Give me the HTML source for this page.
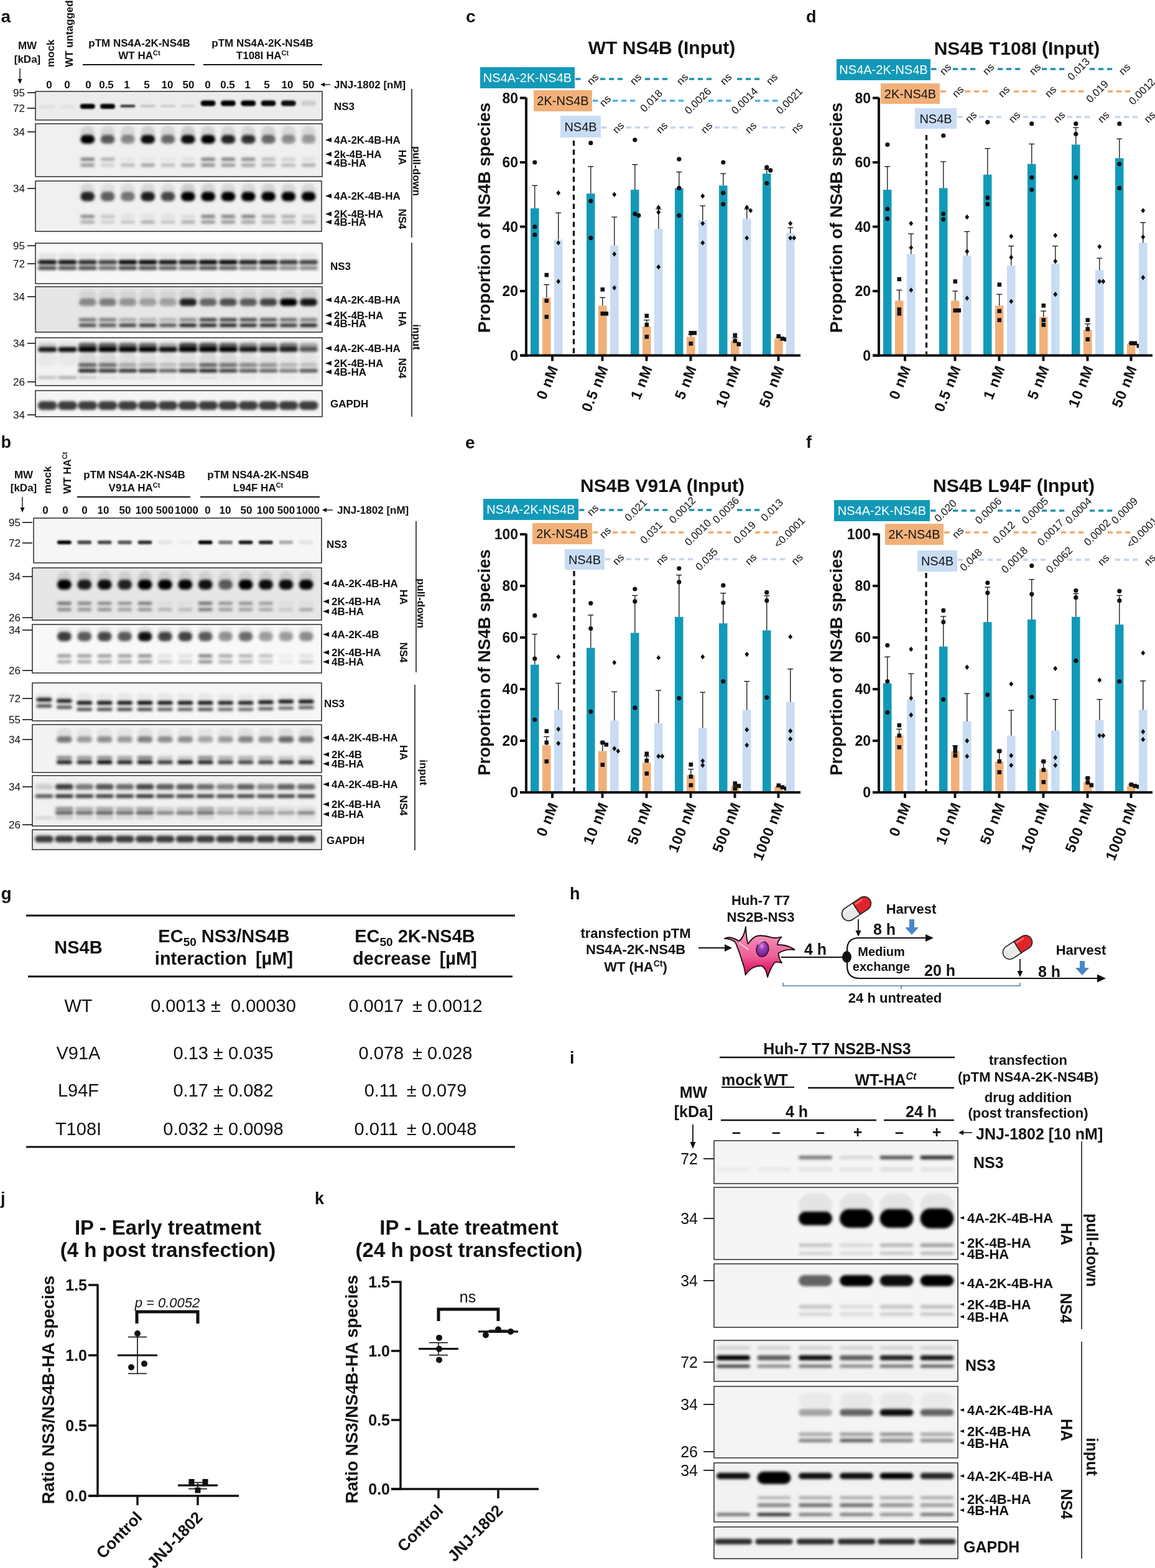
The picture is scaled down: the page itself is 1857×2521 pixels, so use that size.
<!DOCTYPE html>
<html><head><meta charset="utf-8"><title>Figure</title>
<style>html,body{margin:0;padding:0;background:#fff;} svg{display:block;} text{font-family:'Liberation Sans', sans-serif;}</style>
</head><body>
<svg width="1857" height="2521" viewBox="0 0 1857 2521">
<defs><filter id="bl15" x="-20%" y="-50%" width="140%" height="200%"><feGaussianBlur stdDeviation="1.5"/></filter><filter id="bl20" x="-20%" y="-50%" width="140%" height="200%"><feGaussianBlur stdDeviation="2.0"/></filter></defs>
<rect width="1857" height="2521" fill="#fff"/>
<text x="1.5" y="36.3" font-size="28" font-weight="bold" fill="#111">a</text>
<text x="44.0" y="79.0" font-size="17" font-weight="bold" text-anchor="middle" fill="#111" >MW</text>
<text x="44.0" y="101.0" font-size="17" font-weight="bold" text-anchor="middle" fill="#111" >[kDa]</text>
<line x1="32.0" y1="110.0" x2="32.0" y2="131.0" stroke="#111" stroke-width="1.4" />
<polygon points="32,135 28.5,127 35.5,127" fill="#111"/>
<text x="0" y="0.0" font-size="17" font-weight="bold" text-anchor="start" fill="#111" transform="translate(87.0,108.0) rotate(-90)" >mock</text>
<text x="0" y="0.0" font-size="17" font-weight="bold" text-anchor="start" fill="#111" transform="translate(117.0,108.0) rotate(-90)" >WT untagged</text>
<text x="224.0" y="75.0" font-size="17" font-weight="bold" text-anchor="middle" fill="#111" >pTM NS4A-2K-NS4B</text>
<text x="224.0" y="95.0" font-size="17" font-weight="bold" text-anchor="middle" fill="#111" >WT HA<tspan font-size="11" dy="-6">Ct</tspan></text>
<text x="422.0" y="75.0" font-size="17" font-weight="bold" text-anchor="middle" fill="#111" >pTM NS4A-2K-NS4B</text>
<text x="422.0" y="95.0" font-size="17" font-weight="bold" text-anchor="middle" fill="#111" >T108I HA<tspan font-size="11" dy="-6">Ct</tspan></text>
<line x1="133.0" y1="104.0" x2="313.0" y2="104.0" stroke="#111" stroke-width="2" />
<line x1="327.0" y1="104.0" x2="518.0" y2="104.0" stroke="#111" stroke-width="2" />
<text x="79.0" y="142.0" font-size="17" font-weight="bold" text-anchor="middle" fill="#111" >0</text>
<text x="108.0" y="142.0" font-size="17" font-weight="bold" text-anchor="middle" fill="#111" >0</text>
<text x="142.0" y="142.0" font-size="17" font-weight="bold" text-anchor="middle" fill="#111" >0</text>
<text x="171.0" y="142.0" font-size="17" font-weight="bold" text-anchor="middle" fill="#111" >0.5</text>
<text x="204.0" y="142.0" font-size="17" font-weight="bold" text-anchor="middle" fill="#111" >1</text>
<text x="236.0" y="142.0" font-size="17" font-weight="bold" text-anchor="middle" fill="#111" >5</text>
<text x="269.0" y="142.0" font-size="17" font-weight="bold" text-anchor="middle" fill="#111" >10</text>
<text x="303.0" y="142.0" font-size="17" font-weight="bold" text-anchor="middle" fill="#111" >50</text>
<text x="334.0" y="142.0" font-size="17" font-weight="bold" text-anchor="middle" fill="#111" >0</text>
<text x="366.0" y="142.0" font-size="17" font-weight="bold" text-anchor="middle" fill="#111" >0.5</text>
<text x="398.0" y="142.0" font-size="17" font-weight="bold" text-anchor="middle" fill="#111" >1</text>
<text x="429.0" y="142.0" font-size="17" font-weight="bold" text-anchor="middle" fill="#111" >5</text>
<text x="462.0" y="142.0" font-size="17" font-weight="bold" text-anchor="middle" fill="#111" >10</text>
<text x="496.0" y="142.0" font-size="17" font-weight="bold" text-anchor="middle" fill="#111" >50</text>
<line x1="518.0" y1="136.0" x2="531.0" y2="136.0" stroke="#111" stroke-width="1.4" />
<polygon points="515,136 522,132.5 522,139.5" fill="#111"/>
<text x="537.0" y="142.0" font-size="17" font-weight="bold" text-anchor="start" fill="#111" >JNJ-1802 [nM]</text>
<clipPath id="c1"><rect x="57" y="147" width="461" height="46"/></clipPath>
<rect x="57.0" y="147.0" width="461.0" height="46.0" fill="#ececec" />
<g clip-path="url(#c1)"><g filter="url(#bl15)">
<rect x="64.2" y="169.0" width="24.0" height="6.0" rx="3.0" fill="#000" fill-opacity="0.05"/>
<rect x="96.5" y="169.0" width="24.0" height="6.0" rx="3.0" fill="#000" fill-opacity="0.04"/>
<rect x="128.8" y="167.0" width="24.0" height="8.0" rx="4.0" fill="#000" fill-opacity="1.00"/>
<rect x="161.1" y="167.0" width="24.0" height="8.0" rx="4.0" fill="#000" fill-opacity="1.00"/>
<rect x="193.4" y="168.5" width="24.0" height="4.0" rx="2.0" fill="#000" fill-opacity="0.85"/>
<rect x="225.7" y="168.5" width="24.0" height="4.0" rx="2.0" fill="#000" fill-opacity="0.18"/>
<rect x="258.0" y="168.5" width="24.0" height="4.0" rx="2.0" fill="#000" fill-opacity="0.14"/>
<rect x="290.3" y="168.5" width="24.0" height="4.0" rx="2.0" fill="#000" fill-opacity="0.12"/>
<rect x="322.6" y="161.5" width="24.0" height="9.0" rx="4.5" fill="#000" fill-opacity="1.00"/>
<rect x="354.9" y="161.5" width="24.0" height="9.0" rx="4.5" fill="#000" fill-opacity="1.00"/>
<rect x="387.2" y="161.5" width="24.0" height="9.0" rx="4.5" fill="#000" fill-opacity="1.00"/>
<rect x="419.5" y="161.5" width="24.0" height="9.0" rx="4.5" fill="#000" fill-opacity="0.98"/>
<rect x="451.8" y="161.5" width="24.0" height="9.0" rx="4.5" fill="#000" fill-opacity="0.95"/>
<rect x="484.1" y="161.5" width="24.0" height="9.0" rx="4.5" fill="#000" fill-opacity="0.12"/>
</g></g>
<rect x="57" y="147" width="461" height="46" fill="none" stroke="#2a2a2a" stroke-width="1.5"/>
<text x="40.0" y="155.0" font-size="17" font-weight="normal" text-anchor="end" fill="#111" >95</text>
<line x1="44.0" y1="149.0" x2="57.0" y2="149.0" stroke="#111" stroke-width="1.6" />
<text x="40.0" y="180.0" font-size="17" font-weight="normal" text-anchor="end" fill="#111" >72</text>
<line x1="44.0" y1="174.0" x2="57.0" y2="174.0" stroke="#111" stroke-width="1.6" />
<text x="537.0" y="177.0" font-size="17" font-weight="bold" text-anchor="start" fill="#111" >NS3</text>
<clipPath id="c2"><rect x="57" y="199" width="461" height="85"/></clipPath>
<rect x="57.0" y="199.0" width="461.0" height="85.0" fill="#f0f0f0" />
<g clip-path="url(#c2)"><g filter="url(#bl20)">
<rect x="129.3" y="202.0" width="23.0" height="22.0" rx="11.0" fill="#000" fill-opacity="0.12"/>
<rect x="161.6" y="202.0" width="23.0" height="22.0" rx="11.0" fill="#000" fill-opacity="0.10"/>
<rect x="193.9" y="202.0" width="23.0" height="22.0" rx="11.0" fill="#000" fill-opacity="0.10"/>
<rect x="226.2" y="202.0" width="23.0" height="22.0" rx="11.0" fill="#000" fill-opacity="0.12"/>
<rect x="258.5" y="202.0" width="23.0" height="22.0" rx="11.0" fill="#000" fill-opacity="0.10"/>
<rect x="290.8" y="202.0" width="23.0" height="22.0" rx="11.0" fill="#000" fill-opacity="0.14"/>
<rect x="323.1" y="202.0" width="23.0" height="22.0" rx="11.0" fill="#000" fill-opacity="0.12"/>
<rect x="355.4" y="202.0" width="23.0" height="22.0" rx="11.0" fill="#000" fill-opacity="0.10"/>
<rect x="387.7" y="202.0" width="23.0" height="22.0" rx="11.0" fill="#000" fill-opacity="0.10"/>
<rect x="420.0" y="202.0" width="23.0" height="22.0" rx="11.0" fill="#000" fill-opacity="0.12"/>
<rect x="452.3" y="202.0" width="23.0" height="22.0" rx="11.0" fill="#000" fill-opacity="0.10"/>
<rect x="484.6" y="202.0" width="23.0" height="22.0" rx="11.0" fill="#000" fill-opacity="0.10"/>
<rect x="129.3" y="217.0" width="23.0" height="14.0" rx="7.0" fill="#000" fill-opacity="1.00"/>
<rect x="161.6" y="217.0" width="23.0" height="14.0" rx="7.0" fill="#000" fill-opacity="0.62"/>
<rect x="193.9" y="217.0" width="23.0" height="14.0" rx="7.0" fill="#000" fill-opacity="0.42"/>
<rect x="226.2" y="217.0" width="23.0" height="14.0" rx="7.0" fill="#000" fill-opacity="0.95"/>
<rect x="258.5" y="217.0" width="23.0" height="14.0" rx="7.0" fill="#000" fill-opacity="0.55"/>
<rect x="290.8" y="217.0" width="23.0" height="14.0" rx="7.0" fill="#000" fill-opacity="0.95"/>
<rect x="323.1" y="217.0" width="23.0" height="14.0" rx="7.0" fill="#000" fill-opacity="1.00"/>
<rect x="355.4" y="217.0" width="23.0" height="14.0" rx="7.0" fill="#000" fill-opacity="0.85"/>
<rect x="387.7" y="217.0" width="23.0" height="14.0" rx="7.0" fill="#000" fill-opacity="0.80"/>
<rect x="420.0" y="217.0" width="23.0" height="14.0" rx="7.0" fill="#000" fill-opacity="0.55"/>
<rect x="452.3" y="217.0" width="23.0" height="14.0" rx="7.0" fill="#000" fill-opacity="0.40"/>
<rect x="484.6" y="217.0" width="23.0" height="14.0" rx="7.0" fill="#000" fill-opacity="0.35"/>
<rect x="129.3" y="253.5" width="23.0" height="5.0" rx="2.5" fill="#000" fill-opacity="0.50"/>
<rect x="161.6" y="253.5" width="23.0" height="5.0" rx="2.5" fill="#000" fill-opacity="0.30"/>
<rect x="193.9" y="253.5" width="23.0" height="5.0" rx="2.5" fill="#000" fill-opacity="0.06"/>
<rect x="226.2" y="253.5" width="23.0" height="5.0" rx="2.5" fill="#000" fill-opacity="0.05"/>
<rect x="258.5" y="253.5" width="23.0" height="5.0" rx="2.5" fill="#000" fill-opacity="0.05"/>
<rect x="290.8" y="253.5" width="23.0" height="5.0" rx="2.5" fill="#000" fill-opacity="0.08"/>
<rect x="323.1" y="253.5" width="23.0" height="5.0" rx="2.5" fill="#000" fill-opacity="0.50"/>
<rect x="355.4" y="253.5" width="23.0" height="5.0" rx="2.5" fill="#000" fill-opacity="0.50"/>
<rect x="387.7" y="253.5" width="23.0" height="5.0" rx="2.5" fill="#000" fill-opacity="0.45"/>
<rect x="420.0" y="253.5" width="23.0" height="5.0" rx="2.5" fill="#000" fill-opacity="0.25"/>
<rect x="452.3" y="253.5" width="23.0" height="5.0" rx="2.5" fill="#000" fill-opacity="0.15"/>
<rect x="484.6" y="253.5" width="23.0" height="5.0" rx="2.5" fill="#000" fill-opacity="0.08"/>
<rect x="129.3" y="263.0" width="23.0" height="5.0" rx="2.5" fill="#000" fill-opacity="0.40"/>
<rect x="161.6" y="263.0" width="23.0" height="5.0" rx="2.5" fill="#000" fill-opacity="0.15"/>
<rect x="193.9" y="263.0" width="23.0" height="5.0" rx="2.5" fill="#000" fill-opacity="0.25"/>
<rect x="226.2" y="263.0" width="23.0" height="5.0" rx="2.5" fill="#000" fill-opacity="0.35"/>
<rect x="258.5" y="263.0" width="23.0" height="5.0" rx="2.5" fill="#000" fill-opacity="0.22"/>
<rect x="290.8" y="263.0" width="23.0" height="5.0" rx="2.5" fill="#000" fill-opacity="0.35"/>
<rect x="323.1" y="263.0" width="23.0" height="5.0" rx="2.5" fill="#000" fill-opacity="0.45"/>
<rect x="355.4" y="263.0" width="23.0" height="5.0" rx="2.5" fill="#000" fill-opacity="0.40"/>
<rect x="387.7" y="263.0" width="23.0" height="5.0" rx="2.5" fill="#000" fill-opacity="0.35"/>
<rect x="420.0" y="263.0" width="23.0" height="5.0" rx="2.5" fill="#000" fill-opacity="0.30"/>
<rect x="452.3" y="263.0" width="23.0" height="5.0" rx="2.5" fill="#000" fill-opacity="0.25"/>
<rect x="484.6" y="263.0" width="23.0" height="5.0" rx="2.5" fill="#000" fill-opacity="0.30"/>
</g></g>
<rect x="57" y="199" width="461" height="85" fill="none" stroke="#2a2a2a" stroke-width="1.5"/>
<text x="40.0" y="218.0" font-size="17" font-weight="normal" text-anchor="end" fill="#111" >34</text>
<line x1="44.0" y1="212.0" x2="57.0" y2="212.0" stroke="#111" stroke-width="1.6" />
<polygon points="523.0,225.0 533.0,221.2 533.0,228.8" fill="#111"/>
<text x="537.0" y="231.0" font-size="17" font-weight="bold" text-anchor="start" fill="#111" >4A-2K-4B-HA</text>
<polygon points="523.0,248.0 533.0,244.2 533.0,251.8" fill="#111"/>
<text x="537.0" y="254.0" font-size="17" font-weight="bold" text-anchor="start" fill="#111" >2k-4B-HA</text>
<polygon points="523.0,262.0 533.0,258.2 533.0,265.8" fill="#111"/>
<text x="537.0" y="268.0" font-size="17" font-weight="bold" text-anchor="start" fill="#111" >4B-HA</text>
<text x="0" y="0.0" font-size="17" font-weight="bold" text-anchor="middle" fill="#111" transform="translate(641.0,253.0) rotate(90)" >HA</text>
<clipPath id="c3"><rect x="57" y="291" width="460" height="81"/></clipPath>
<rect x="57.0" y="291.0" width="460.0" height="81.0" fill="#f0f0f0" />
<g clip-path="url(#c3)"><g filter="url(#bl20)">
<rect x="129.3" y="295.0" width="23.0" height="20.0" rx="10.0" fill="#000" fill-opacity="0.10"/>
<rect x="161.6" y="295.0" width="23.0" height="20.0" rx="10.0" fill="#000" fill-opacity="0.08"/>
<rect x="193.9" y="295.0" width="23.0" height="20.0" rx="10.0" fill="#000" fill-opacity="0.08"/>
<rect x="226.2" y="295.0" width="23.0" height="20.0" rx="10.0" fill="#000" fill-opacity="0.10"/>
<rect x="258.5" y="295.0" width="23.0" height="20.0" rx="10.0" fill="#000" fill-opacity="0.08"/>
<rect x="290.8" y="295.0" width="23.0" height="20.0" rx="10.0" fill="#000" fill-opacity="0.14"/>
<rect x="323.1" y="295.0" width="23.0" height="20.0" rx="10.0" fill="#000" fill-opacity="0.12"/>
<rect x="355.4" y="295.0" width="23.0" height="20.0" rx="10.0" fill="#000" fill-opacity="0.10"/>
<rect x="387.7" y="295.0" width="23.0" height="20.0" rx="10.0" fill="#000" fill-opacity="0.10"/>
<rect x="420.0" y="295.0" width="23.0" height="20.0" rx="10.0" fill="#000" fill-opacity="0.12"/>
<rect x="452.3" y="295.0" width="23.0" height="20.0" rx="10.0" fill="#000" fill-opacity="0.10"/>
<rect x="484.6" y="295.0" width="23.0" height="20.0" rx="10.0" fill="#000" fill-opacity="0.10"/>
<rect x="129.3" y="308.5" width="23.0" height="15.0" rx="7.5" fill="#000" fill-opacity="0.85"/>
<rect x="161.6" y="308.5" width="23.0" height="15.0" rx="7.5" fill="#000" fill-opacity="0.60"/>
<rect x="193.9" y="308.5" width="23.0" height="15.0" rx="7.5" fill="#000" fill-opacity="0.50"/>
<rect x="226.2" y="308.5" width="23.0" height="15.0" rx="7.5" fill="#000" fill-opacity="0.88"/>
<rect x="258.5" y="308.5" width="23.0" height="15.0" rx="7.5" fill="#000" fill-opacity="0.70"/>
<rect x="290.8" y="308.5" width="23.0" height="15.0" rx="7.5" fill="#000" fill-opacity="1.00"/>
<rect x="323.1" y="308.5" width="23.0" height="15.0" rx="7.5" fill="#000" fill-opacity="1.00"/>
<rect x="355.4" y="308.5" width="23.0" height="15.0" rx="7.5" fill="#000" fill-opacity="1.00"/>
<rect x="387.7" y="308.5" width="23.0" height="15.0" rx="7.5" fill="#000" fill-opacity="1.00"/>
<rect x="420.0" y="308.5" width="23.0" height="15.0" rx="7.5" fill="#000" fill-opacity="1.00"/>
<rect x="452.3" y="308.5" width="23.0" height="15.0" rx="7.5" fill="#000" fill-opacity="1.00"/>
<rect x="484.6" y="308.5" width="23.0" height="15.0" rx="7.5" fill="#000" fill-opacity="1.00"/>
<rect x="129.3" y="345.5" width="23.0" height="5.0" rx="2.5" fill="#000" fill-opacity="0.45"/>
<rect x="161.6" y="345.5" width="23.0" height="5.0" rx="2.5" fill="#000" fill-opacity="0.20"/>
<rect x="193.9" y="345.5" width="23.0" height="5.0" rx="2.5" fill="#000" fill-opacity="0.08"/>
<rect x="226.2" y="345.5" width="23.0" height="5.0" rx="2.5" fill="#000" fill-opacity="0.08"/>
<rect x="258.5" y="345.5" width="23.0" height="5.0" rx="2.5" fill="#000" fill-opacity="0.08"/>
<rect x="290.8" y="345.5" width="23.0" height="5.0" rx="2.5" fill="#000" fill-opacity="0.10"/>
<rect x="323.1" y="345.5" width="23.0" height="5.0" rx="2.5" fill="#000" fill-opacity="0.50"/>
<rect x="355.4" y="345.5" width="23.0" height="5.0" rx="2.5" fill="#000" fill-opacity="0.50"/>
<rect x="387.7" y="345.5" width="23.0" height="5.0" rx="2.5" fill="#000" fill-opacity="0.50"/>
<rect x="420.0" y="345.5" width="23.0" height="5.0" rx="2.5" fill="#000" fill-opacity="0.35"/>
<rect x="452.3" y="345.5" width="23.0" height="5.0" rx="2.5" fill="#000" fill-opacity="0.30"/>
<rect x="484.6" y="345.5" width="23.0" height="5.0" rx="2.5" fill="#000" fill-opacity="0.15"/>
<rect x="129.3" y="354.5" width="23.0" height="5.0" rx="2.5" fill="#000" fill-opacity="0.30"/>
<rect x="161.6" y="354.5" width="23.0" height="5.0" rx="2.5" fill="#000" fill-opacity="0.15"/>
<rect x="193.9" y="354.5" width="23.0" height="5.0" rx="2.5" fill="#000" fill-opacity="0.20"/>
<rect x="226.2" y="354.5" width="23.0" height="5.0" rx="2.5" fill="#000" fill-opacity="0.30"/>
<rect x="258.5" y="354.5" width="23.0" height="5.0" rx="2.5" fill="#000" fill-opacity="0.20"/>
<rect x="290.8" y="354.5" width="23.0" height="5.0" rx="2.5" fill="#000" fill-opacity="0.30"/>
<rect x="323.1" y="354.5" width="23.0" height="5.0" rx="2.5" fill="#000" fill-opacity="0.40"/>
<rect x="355.4" y="354.5" width="23.0" height="5.0" rx="2.5" fill="#000" fill-opacity="0.40"/>
<rect x="387.7" y="354.5" width="23.0" height="5.0" rx="2.5" fill="#000" fill-opacity="0.35"/>
<rect x="420.0" y="354.5" width="23.0" height="5.0" rx="2.5" fill="#000" fill-opacity="0.30"/>
<rect x="452.3" y="354.5" width="23.0" height="5.0" rx="2.5" fill="#000" fill-opacity="0.28"/>
<rect x="484.6" y="354.5" width="23.0" height="5.0" rx="2.5" fill="#000" fill-opacity="0.30"/>
</g></g>
<rect x="57" y="291" width="460" height="81" fill="none" stroke="#2a2a2a" stroke-width="1.5"/>
<text x="40.0" y="309.0" font-size="17" font-weight="normal" text-anchor="end" fill="#111" >34</text>
<line x1="44.0" y1="303.0" x2="57.0" y2="303.0" stroke="#111" stroke-width="1.6" />
<polygon points="523.0,315.0 533.0,311.2 533.0,318.8" fill="#111"/>
<text x="537.0" y="321.0" font-size="17" font-weight="bold" text-anchor="start" fill="#111" >4A-2K-4B-HA</text>
<polygon points="523.0,344.0 533.0,340.2 533.0,347.8" fill="#111"/>
<text x="537.0" y="350.0" font-size="17" font-weight="bold" text-anchor="start" fill="#111" >2K-4B-HA</text>
<polygon points="523.0,357.0 533.0,353.2 533.0,360.8" fill="#111"/>
<text x="537.0" y="363.0" font-size="17" font-weight="bold" text-anchor="start" fill="#111" >4B-HA</text>
<text x="0" y="0.0" font-size="17" font-weight="bold" text-anchor="middle" fill="#111" transform="translate(641.0,352.0) rotate(90)" >NS4</text>
<line x1="662.0" y1="143.0" x2="662.0" y2="382.0" stroke="#111" stroke-width="1.5" />
<text x="0" y="0.0" font-size="17" font-weight="bold" text-anchor="middle" fill="#111" transform="translate(664.0,275.0) rotate(90)" >pull-down</text>
<clipPath id="c4"><rect x="57" y="391" width="461" height="65"/></clipPath>
<rect x="57.0" y="391.0" width="461.0" height="65.0" fill="#f7f7f7" />
<g clip-path="url(#c4)"><g filter="url(#bl20)">
<rect x="61.2" y="406.5" width="30.0" height="9.0" rx="4.5" fill="#000" fill-opacity="0.08"/>
<rect x="93.5" y="406.5" width="30.0" height="9.0" rx="4.5" fill="#000" fill-opacity="0.08"/>
<rect x="125.8" y="406.5" width="30.0" height="9.0" rx="4.5" fill="#000" fill-opacity="0.08"/>
<rect x="158.1" y="406.5" width="30.0" height="9.0" rx="4.5" fill="#000" fill-opacity="0.08"/>
<rect x="190.4" y="406.5" width="30.0" height="9.0" rx="4.5" fill="#000" fill-opacity="0.08"/>
<rect x="222.7" y="406.5" width="30.0" height="9.0" rx="4.5" fill="#000" fill-opacity="0.08"/>
<rect x="255.0" y="406.5" width="30.0" height="9.0" rx="4.5" fill="#000" fill-opacity="0.08"/>
<rect x="287.3" y="406.5" width="30.0" height="9.0" rx="4.5" fill="#000" fill-opacity="0.08"/>
<rect x="319.6" y="406.5" width="30.0" height="9.0" rx="4.5" fill="#000" fill-opacity="0.08"/>
<rect x="351.9" y="406.5" width="30.0" height="9.0" rx="4.5" fill="#000" fill-opacity="0.08"/>
<rect x="384.2" y="406.5" width="30.0" height="9.0" rx="4.5" fill="#000" fill-opacity="0.08"/>
<rect x="416.5" y="406.5" width="30.0" height="9.0" rx="4.5" fill="#000" fill-opacity="0.08"/>
<rect x="448.8" y="406.5" width="30.0" height="9.0" rx="4.5" fill="#000" fill-opacity="0.08"/>
<rect x="481.1" y="406.5" width="30.0" height="9.0" rx="4.5" fill="#000" fill-opacity="0.08"/>
<rect x="61.2" y="418.0" width="30.0" height="7.0" rx="3.5" fill="#000" fill-opacity="0.95"/>
<rect x="93.5" y="418.0" width="30.0" height="7.0" rx="3.5" fill="#000" fill-opacity="0.95"/>
<rect x="125.8" y="418.0" width="30.0" height="7.0" rx="3.5" fill="#000" fill-opacity="0.85"/>
<rect x="158.1" y="418.0" width="30.0" height="7.0" rx="3.5" fill="#000" fill-opacity="0.75"/>
<rect x="190.4" y="418.0" width="30.0" height="7.0" rx="3.5" fill="#000" fill-opacity="1.00"/>
<rect x="222.7" y="418.0" width="30.0" height="7.0" rx="3.5" fill="#000" fill-opacity="1.00"/>
<rect x="255.0" y="418.0" width="30.0" height="7.0" rx="3.5" fill="#000" fill-opacity="0.95"/>
<rect x="287.3" y="418.0" width="30.0" height="7.0" rx="3.5" fill="#000" fill-opacity="0.95"/>
<rect x="319.6" y="418.0" width="30.0" height="7.0" rx="3.5" fill="#000" fill-opacity="1.00"/>
<rect x="351.9" y="418.0" width="30.0" height="7.0" rx="3.5" fill="#000" fill-opacity="1.00"/>
<rect x="384.2" y="418.0" width="30.0" height="7.0" rx="3.5" fill="#000" fill-opacity="0.90"/>
<rect x="416.5" y="418.0" width="30.0" height="7.0" rx="3.5" fill="#000" fill-opacity="0.95"/>
<rect x="448.8" y="418.0" width="30.0" height="7.0" rx="3.5" fill="#000" fill-opacity="0.80"/>
<rect x="481.1" y="418.0" width="30.0" height="7.0" rx="3.5" fill="#000" fill-opacity="0.75"/>
<rect x="61.2" y="428.0" width="30.0" height="6.0" rx="3.0" fill="#000" fill-opacity="0.72"/>
<rect x="93.5" y="428.0" width="30.0" height="6.0" rx="3.0" fill="#000" fill-opacity="0.70"/>
<rect x="125.8" y="428.0" width="30.0" height="6.0" rx="3.0" fill="#000" fill-opacity="0.72"/>
<rect x="158.1" y="428.0" width="30.0" height="6.0" rx="3.0" fill="#000" fill-opacity="0.60"/>
<rect x="190.4" y="428.0" width="30.0" height="6.0" rx="3.0" fill="#000" fill-opacity="0.75"/>
<rect x="222.7" y="428.0" width="30.0" height="6.0" rx="3.0" fill="#000" fill-opacity="0.72"/>
<rect x="255.0" y="428.0" width="30.0" height="6.0" rx="3.0" fill="#000" fill-opacity="0.65"/>
<rect x="287.3" y="428.0" width="30.0" height="6.0" rx="3.0" fill="#000" fill-opacity="0.55"/>
<rect x="319.6" y="428.0" width="30.0" height="6.0" rx="3.0" fill="#000" fill-opacity="0.70"/>
<rect x="351.9" y="428.0" width="30.0" height="6.0" rx="3.0" fill="#000" fill-opacity="0.65"/>
<rect x="384.2" y="428.0" width="30.0" height="6.0" rx="3.0" fill="#000" fill-opacity="0.50"/>
<rect x="416.5" y="428.0" width="30.0" height="6.0" rx="3.0" fill="#000" fill-opacity="0.55"/>
<rect x="448.8" y="428.0" width="30.0" height="6.0" rx="3.0" fill="#000" fill-opacity="0.45"/>
<rect x="481.1" y="428.0" width="30.0" height="6.0" rx="3.0" fill="#000" fill-opacity="0.45"/>
</g></g>
<rect x="57" y="391" width="461" height="65" fill="none" stroke="#2a2a2a" stroke-width="1.5"/>
<text x="40.0" y="401.0" font-size="17" font-weight="normal" text-anchor="end" fill="#111" >95</text>
<line x1="44.0" y1="395.0" x2="57.0" y2="395.0" stroke="#111" stroke-width="1.6" />
<text x="40.0" y="430.0" font-size="17" font-weight="normal" text-anchor="end" fill="#111" >72</text>
<line x1="44.0" y1="424.0" x2="57.0" y2="424.0" stroke="#111" stroke-width="1.6" />
<text x="531.0" y="434.0" font-size="17" font-weight="bold" text-anchor="start" fill="#111" >NS3</text>
<clipPath id="c5"><rect x="57" y="461" width="461" height="73"/></clipPath>
<rect x="57.0" y="461.0" width="461.0" height="73.0" fill="#e6e6e6" />
<g clip-path="url(#c5)"><g filter="url(#bl20)">
<rect x="126.8" y="466.0" width="28.0" height="18.0" rx="9.0" fill="#000" fill-opacity="0.07"/>
<rect x="159.1" y="466.0" width="28.0" height="18.0" rx="9.0" fill="#000" fill-opacity="0.07"/>
<rect x="191.4" y="466.0" width="28.0" height="18.0" rx="9.0" fill="#000" fill-opacity="0.07"/>
<rect x="223.7" y="466.0" width="28.0" height="18.0" rx="9.0" fill="#000" fill-opacity="0.07"/>
<rect x="256.0" y="466.0" width="28.0" height="18.0" rx="9.0" fill="#000" fill-opacity="0.07"/>
<rect x="288.3" y="466.0" width="28.0" height="18.0" rx="9.0" fill="#000" fill-opacity="0.10"/>
<rect x="320.6" y="466.0" width="28.0" height="18.0" rx="9.0" fill="#000" fill-opacity="0.08"/>
<rect x="352.9" y="466.0" width="28.0" height="18.0" rx="9.0" fill="#000" fill-opacity="0.08"/>
<rect x="385.2" y="466.0" width="28.0" height="18.0" rx="9.0" fill="#000" fill-opacity="0.08"/>
<rect x="417.5" y="466.0" width="28.0" height="18.0" rx="9.0" fill="#000" fill-opacity="0.08"/>
<rect x="449.8" y="466.0" width="28.0" height="18.0" rx="9.0" fill="#000" fill-opacity="0.10"/>
<rect x="482.1" y="466.0" width="28.0" height="18.0" rx="9.0" fill="#000" fill-opacity="0.10"/>
<rect x="126.8" y="480.0" width="28.0" height="12.0" rx="6.0" fill="#000" fill-opacity="0.40"/>
<rect x="159.1" y="480.0" width="28.0" height="12.0" rx="6.0" fill="#000" fill-opacity="0.45"/>
<rect x="191.4" y="480.0" width="28.0" height="12.0" rx="6.0" fill="#000" fill-opacity="0.35"/>
<rect x="223.7" y="480.0" width="28.0" height="12.0" rx="6.0" fill="#000" fill-opacity="0.30"/>
<rect x="256.0" y="480.0" width="28.0" height="12.0" rx="6.0" fill="#000" fill-opacity="0.30"/>
<rect x="288.3" y="480.0" width="28.0" height="12.0" rx="6.0" fill="#000" fill-opacity="0.85"/>
<rect x="320.6" y="480.0" width="28.0" height="12.0" rx="6.0" fill="#000" fill-opacity="0.55"/>
<rect x="352.9" y="480.0" width="28.0" height="12.0" rx="6.0" fill="#000" fill-opacity="0.65"/>
<rect x="385.2" y="480.0" width="28.0" height="12.0" rx="6.0" fill="#000" fill-opacity="0.60"/>
<rect x="417.5" y="480.0" width="28.0" height="12.0" rx="6.0" fill="#000" fill-opacity="0.70"/>
<rect x="449.8" y="480.0" width="28.0" height="12.0" rx="6.0" fill="#000" fill-opacity="1.00"/>
<rect x="482.1" y="480.0" width="28.0" height="12.0" rx="6.0" fill="#000" fill-opacity="0.90"/>
<rect x="126.8" y="511.5" width="28.0" height="5.0" rx="2.5" fill="#000" fill-opacity="0.55"/>
<rect x="159.1" y="511.5" width="28.0" height="5.0" rx="2.5" fill="#000" fill-opacity="0.50"/>
<rect x="191.4" y="511.5" width="28.0" height="5.0" rx="2.5" fill="#000" fill-opacity="0.30"/>
<rect x="223.7" y="511.5" width="28.0" height="5.0" rx="2.5" fill="#000" fill-opacity="0.25"/>
<rect x="256.0" y="511.5" width="28.0" height="5.0" rx="2.5" fill="#000" fill-opacity="0.25"/>
<rect x="288.3" y="511.5" width="28.0" height="5.0" rx="2.5" fill="#000" fill-opacity="0.45"/>
<rect x="320.6" y="511.5" width="28.0" height="5.0" rx="2.5" fill="#000" fill-opacity="0.80"/>
<rect x="352.9" y="511.5" width="28.0" height="5.0" rx="2.5" fill="#000" fill-opacity="0.80"/>
<rect x="385.2" y="511.5" width="28.0" height="5.0" rx="2.5" fill="#000" fill-opacity="0.75"/>
<rect x="417.5" y="511.5" width="28.0" height="5.0" rx="2.5" fill="#000" fill-opacity="0.70"/>
<rect x="449.8" y="511.5" width="28.0" height="5.0" rx="2.5" fill="#000" fill-opacity="0.60"/>
<rect x="482.1" y="511.5" width="28.0" height="5.0" rx="2.5" fill="#000" fill-opacity="0.50"/>
<rect x="126.8" y="520.5" width="28.0" height="5.0" rx="2.5" fill="#000" fill-opacity="0.75"/>
<rect x="159.1" y="520.5" width="28.0" height="5.0" rx="2.5" fill="#000" fill-opacity="0.70"/>
<rect x="191.4" y="520.5" width="28.0" height="5.0" rx="2.5" fill="#000" fill-opacity="0.80"/>
<rect x="223.7" y="520.5" width="28.0" height="5.0" rx="2.5" fill="#000" fill-opacity="0.85"/>
<rect x="256.0" y="520.5" width="28.0" height="5.0" rx="2.5" fill="#000" fill-opacity="0.70"/>
<rect x="288.3" y="520.5" width="28.0" height="5.0" rx="2.5" fill="#000" fill-opacity="0.95"/>
<rect x="320.6" y="520.5" width="28.0" height="5.0" rx="2.5" fill="#000" fill-opacity="0.95"/>
<rect x="352.9" y="520.5" width="28.0" height="5.0" rx="2.5" fill="#000" fill-opacity="0.95"/>
<rect x="385.2" y="520.5" width="28.0" height="5.0" rx="2.5" fill="#000" fill-opacity="0.90"/>
<rect x="417.5" y="520.5" width="28.0" height="5.0" rx="2.5" fill="#000" fill-opacity="0.90"/>
<rect x="449.8" y="520.5" width="28.0" height="5.0" rx="2.5" fill="#000" fill-opacity="0.85"/>
<rect x="482.1" y="520.5" width="28.0" height="5.0" rx="2.5" fill="#000" fill-opacity="0.95"/>
</g></g>
<rect x="57" y="461" width="461" height="73" fill="none" stroke="#2a2a2a" stroke-width="1.5"/>
<text x="40.0" y="483.0" font-size="17" font-weight="normal" text-anchor="end" fill="#111" >34</text>
<line x1="44.0" y1="477.0" x2="57.0" y2="477.0" stroke="#111" stroke-width="1.6" />
<polygon points="523.0,482.0 533.0,478.2 533.0,485.8" fill="#111"/>
<text x="537.0" y="488.0" font-size="17" font-weight="bold" text-anchor="start" fill="#111" >4A-2K-4B-HA</text>
<polygon points="523.0,507.0 533.0,503.2 533.0,510.8" fill="#111"/>
<text x="537.0" y="513.0" font-size="17" font-weight="bold" text-anchor="start" fill="#111" >2K-4B-HA</text>
<polygon points="523.0,520.0 533.0,516.2 533.0,523.8" fill="#111"/>
<text x="537.0" y="526.0" font-size="17" font-weight="bold" text-anchor="start" fill="#111" >4B-HA</text>
<text x="0" y="0.0" font-size="17" font-weight="bold" text-anchor="middle" fill="#111" transform="translate(641.0,513.0) rotate(90)" >HA</text>
<clipPath id="c6"><rect x="57" y="543" width="461" height="77"/></clipPath>
<rect x="57.0" y="543.0" width="461.0" height="77.0" fill="#f2f2f2" />
<g clip-path="url(#c6)"><g filter="url(#bl20)">
<rect x="61.2" y="551.0" width="30.0" height="10.0" rx="5.0" fill="#000" fill-opacity="0.15"/>
<rect x="93.5" y="551.0" width="30.0" height="10.0" rx="5.0" fill="#000" fill-opacity="0.08"/>
<rect x="125.8" y="551.0" width="30.0" height="10.0" rx="5.0" fill="#000" fill-opacity="0.60"/>
<rect x="158.1" y="551.0" width="30.0" height="10.0" rx="5.0" fill="#000" fill-opacity="0.60"/>
<rect x="190.4" y="551.0" width="30.0" height="10.0" rx="5.0" fill="#000" fill-opacity="0.55"/>
<rect x="222.7" y="551.0" width="30.0" height="10.0" rx="5.0" fill="#000" fill-opacity="0.55"/>
<rect x="255.0" y="551.0" width="30.0" height="10.0" rx="5.0" fill="#000" fill-opacity="0.30"/>
<rect x="287.3" y="551.0" width="30.0" height="10.0" rx="5.0" fill="#000" fill-opacity="0.70"/>
<rect x="319.6" y="551.0" width="30.0" height="10.0" rx="5.0" fill="#000" fill-opacity="0.65"/>
<rect x="351.9" y="551.0" width="30.0" height="10.0" rx="5.0" fill="#000" fill-opacity="0.60"/>
<rect x="384.2" y="551.0" width="30.0" height="10.0" rx="5.0" fill="#000" fill-opacity="0.45"/>
<rect x="416.5" y="551.0" width="30.0" height="10.0" rx="5.0" fill="#000" fill-opacity="0.40"/>
<rect x="448.8" y="551.0" width="30.0" height="10.0" rx="5.0" fill="#000" fill-opacity="0.50"/>
<rect x="481.1" y="551.0" width="30.0" height="10.0" rx="5.0" fill="#000" fill-opacity="0.30"/>
<rect x="61.2" y="558.0" width="30.0" height="8.0" rx="4.0" fill="#000" fill-opacity="0.90"/>
<rect x="93.5" y="558.0" width="30.0" height="8.0" rx="4.0" fill="#000" fill-opacity="0.95"/>
<rect x="125.8" y="558.0" width="30.0" height="8.0" rx="4.0" fill="#000" fill-opacity="1.00"/>
<rect x="158.1" y="558.0" width="30.0" height="8.0" rx="4.0" fill="#000" fill-opacity="1.00"/>
<rect x="190.4" y="558.0" width="30.0" height="8.0" rx="4.0" fill="#000" fill-opacity="1.00"/>
<rect x="222.7" y="558.0" width="30.0" height="8.0" rx="4.0" fill="#000" fill-opacity="1.00"/>
<rect x="255.0" y="558.0" width="30.0" height="8.0" rx="4.0" fill="#000" fill-opacity="0.95"/>
<rect x="287.3" y="558.0" width="30.0" height="8.0" rx="4.0" fill="#000" fill-opacity="1.00"/>
<rect x="319.6" y="558.0" width="30.0" height="8.0" rx="4.0" fill="#000" fill-opacity="1.00"/>
<rect x="351.9" y="558.0" width="30.0" height="8.0" rx="4.0" fill="#000" fill-opacity="1.00"/>
<rect x="384.2" y="558.0" width="30.0" height="8.0" rx="4.0" fill="#000" fill-opacity="0.90"/>
<rect x="416.5" y="558.0" width="30.0" height="8.0" rx="4.0" fill="#000" fill-opacity="0.90"/>
<rect x="448.8" y="558.0" width="30.0" height="8.0" rx="4.0" fill="#000" fill-opacity="0.85"/>
<rect x="481.1" y="558.0" width="30.0" height="8.0" rx="4.0" fill="#000" fill-opacity="0.60"/>
<rect x="61.2" y="568.0" width="30.0" height="20.0" rx="10.0" fill="#000" fill-opacity="0.04"/>
<rect x="93.5" y="568.0" width="30.0" height="20.0" rx="10.0" fill="#000" fill-opacity="0.04"/>
<rect x="125.8" y="568.0" width="30.0" height="20.0" rx="10.0" fill="#000" fill-opacity="0.10"/>
<rect x="158.1" y="568.0" width="30.0" height="20.0" rx="10.0" fill="#000" fill-opacity="0.10"/>
<rect x="190.4" y="568.0" width="30.0" height="20.0" rx="10.0" fill="#000" fill-opacity="0.08"/>
<rect x="222.7" y="568.0" width="30.0" height="20.0" rx="10.0" fill="#000" fill-opacity="0.08"/>
<rect x="255.0" y="568.0" width="30.0" height="20.0" rx="10.0" fill="#000" fill-opacity="0.06"/>
<rect x="287.3" y="568.0" width="30.0" height="20.0" rx="10.0" fill="#000" fill-opacity="0.08"/>
<rect x="319.6" y="568.0" width="30.0" height="20.0" rx="10.0" fill="#000" fill-opacity="0.10"/>
<rect x="351.9" y="568.0" width="30.0" height="20.0" rx="10.0" fill="#000" fill-opacity="0.10"/>
<rect x="384.2" y="568.0" width="30.0" height="20.0" rx="10.0" fill="#000" fill-opacity="0.08"/>
<rect x="416.5" y="568.0" width="30.0" height="20.0" rx="10.0" fill="#000" fill-opacity="0.08"/>
<rect x="448.8" y="568.0" width="30.0" height="20.0" rx="10.0" fill="#000" fill-opacity="0.06"/>
<rect x="481.1" y="568.0" width="30.0" height="20.0" rx="10.0" fill="#000" fill-opacity="0.06"/>
<rect x="125.8" y="584.0" width="30.0" height="6.0" rx="3.0" fill="#000" fill-opacity="0.60"/>
<rect x="158.1" y="584.0" width="30.0" height="6.0" rx="3.0" fill="#000" fill-opacity="0.55"/>
<rect x="190.4" y="584.0" width="30.0" height="6.0" rx="3.0" fill="#000" fill-opacity="0.30"/>
<rect x="222.7" y="584.0" width="30.0" height="6.0" rx="3.0" fill="#000" fill-opacity="0.25"/>
<rect x="255.0" y="584.0" width="30.0" height="6.0" rx="3.0" fill="#000" fill-opacity="0.20"/>
<rect x="287.3" y="584.0" width="30.0" height="6.0" rx="3.0" fill="#000" fill-opacity="0.30"/>
<rect x="319.6" y="584.0" width="30.0" height="6.0" rx="3.0" fill="#000" fill-opacity="0.60"/>
<rect x="351.9" y="584.0" width="30.0" height="6.0" rx="3.0" fill="#000" fill-opacity="0.55"/>
<rect x="384.2" y="584.0" width="30.0" height="6.0" rx="3.0" fill="#000" fill-opacity="0.45"/>
<rect x="416.5" y="584.0" width="30.0" height="6.0" rx="3.0" fill="#000" fill-opacity="0.40"/>
<rect x="448.8" y="584.0" width="30.0" height="6.0" rx="3.0" fill="#000" fill-opacity="0.25"/>
<rect x="481.1" y="584.0" width="30.0" height="6.0" rx="3.0" fill="#000" fill-opacity="0.20"/>
<rect x="125.8" y="593.0" width="30.0" height="6.0" rx="3.0" fill="#000" fill-opacity="0.85"/>
<rect x="158.1" y="593.0" width="30.0" height="6.0" rx="3.0" fill="#000" fill-opacity="0.80"/>
<rect x="190.4" y="593.0" width="30.0" height="6.0" rx="3.0" fill="#000" fill-opacity="0.80"/>
<rect x="222.7" y="593.0" width="30.0" height="6.0" rx="3.0" fill="#000" fill-opacity="0.80"/>
<rect x="255.0" y="593.0" width="30.0" height="6.0" rx="3.0" fill="#000" fill-opacity="0.60"/>
<rect x="287.3" y="593.0" width="30.0" height="6.0" rx="3.0" fill="#000" fill-opacity="0.80"/>
<rect x="319.6" y="593.0" width="30.0" height="6.0" rx="3.0" fill="#000" fill-opacity="0.85"/>
<rect x="351.9" y="593.0" width="30.0" height="6.0" rx="3.0" fill="#000" fill-opacity="0.75"/>
<rect x="384.2" y="593.0" width="30.0" height="6.0" rx="3.0" fill="#000" fill-opacity="0.65"/>
<rect x="416.5" y="593.0" width="30.0" height="6.0" rx="3.0" fill="#000" fill-opacity="0.60"/>
<rect x="448.8" y="593.0" width="30.0" height="6.0" rx="3.0" fill="#000" fill-opacity="0.50"/>
<rect x="481.1" y="593.0" width="30.0" height="6.0" rx="3.0" fill="#000" fill-opacity="0.65"/>
<rect x="61.2" y="605.0" width="30.0" height="4.0" rx="2.0" fill="#000" fill-opacity="0.25"/>
<rect x="93.5" y="605.0" width="30.0" height="4.0" rx="2.0" fill="#000" fill-opacity="0.35"/>
<rect x="125.8" y="605.0" width="30.0" height="4.0" rx="2.0" fill="#000" fill-opacity="0.20"/>
<rect x="158.1" y="605.0" width="30.0" height="4.0" rx="2.0" fill="#000" fill-opacity="0.10"/>
<rect x="190.4" y="605.0" width="30.0" height="4.0" rx="2.0" fill="#000" fill-opacity="0.10"/>
<rect x="222.7" y="605.0" width="30.0" height="4.0" rx="2.0" fill="#000" fill-opacity="0.10"/>
<rect x="255.0" y="605.0" width="30.0" height="4.0" rx="2.0" fill="#000" fill-opacity="0.05"/>
<rect x="287.3" y="605.0" width="30.0" height="4.0" rx="2.0" fill="#000" fill-opacity="0.05"/>
<rect x="319.6" y="605.0" width="30.0" height="4.0" rx="2.0" fill="#000" fill-opacity="0.10"/>
<rect x="351.9" y="605.0" width="30.0" height="4.0" rx="2.0" fill="#000" fill-opacity="0.05"/>
<rect x="384.2" y="605.0" width="30.0" height="4.0" rx="2.0" fill="#000" fill-opacity="0.05"/>
<rect x="416.5" y="605.0" width="30.0" height="4.0" rx="2.0" fill="#000" fill-opacity="0.05"/>
<rect x="448.8" y="605.0" width="30.0" height="4.0" rx="2.0" fill="#000" fill-opacity="0.05"/>
<rect x="481.1" y="605.0" width="30.0" height="4.0" rx="2.0" fill="#000" fill-opacity="0.05"/>
</g></g>
<rect x="57" y="543" width="461" height="77" fill="none" stroke="#2a2a2a" stroke-width="1.5"/>
<text x="40.0" y="558.0" font-size="17" font-weight="normal" text-anchor="end" fill="#111" >34</text>
<line x1="44.0" y1="552.0" x2="57.0" y2="552.0" stroke="#111" stroke-width="1.6" />
<text x="40.0" y="620.0" font-size="17" font-weight="normal" text-anchor="end" fill="#111" >26</text>
<line x1="44.0" y1="614.0" x2="57.0" y2="614.0" stroke="#111" stroke-width="1.6" />
<polygon points="523.0,560.0 533.0,556.2 533.0,563.8" fill="#111"/>
<text x="537.0" y="566.0" font-size="17" font-weight="bold" text-anchor="start" fill="#111" >4A-2K-4B-HA</text>
<polygon points="523.0,584.0 533.0,580.2 533.0,587.8" fill="#111"/>
<text x="537.0" y="590.0" font-size="17" font-weight="bold" text-anchor="start" fill="#111" >2K-4B-HA</text>
<polygon points="523.0,598.0 533.0,594.2 533.0,601.8" fill="#111"/>
<text x="537.0" y="604.0" font-size="17" font-weight="bold" text-anchor="start" fill="#111" >4B-HA</text>
<text x="0" y="0.0" font-size="17" font-weight="bold" text-anchor="middle" fill="#111" transform="translate(641.0,592.0) rotate(90)" >NS4</text>
<clipPath id="c7"><rect x="57" y="628" width="461" height="42"/></clipPath>
<rect x="57.0" y="628.0" width="461.0" height="42.0" fill="#f5f5f5" />
<g clip-path="url(#c7)"><g filter="url(#bl20)">
<rect x="60.7" y="645.0" width="31.0" height="14.0" rx="7.0" fill="#000" fill-opacity="0.75"/>
<rect x="93.0" y="645.0" width="31.0" height="14.0" rx="7.0" fill="#000" fill-opacity="0.75"/>
<rect x="125.3" y="645.0" width="31.0" height="14.0" rx="7.0" fill="#000" fill-opacity="0.75"/>
<rect x="157.6" y="645.0" width="31.0" height="14.0" rx="7.0" fill="#000" fill-opacity="0.75"/>
<rect x="189.9" y="645.0" width="31.0" height="14.0" rx="7.0" fill="#000" fill-opacity="0.75"/>
<rect x="222.2" y="645.0" width="31.0" height="14.0" rx="7.0" fill="#000" fill-opacity="0.75"/>
<rect x="254.5" y="645.0" width="31.0" height="14.0" rx="7.0" fill="#000" fill-opacity="0.75"/>
<rect x="286.8" y="645.0" width="31.0" height="14.0" rx="7.0" fill="#000" fill-opacity="0.75"/>
<rect x="319.1" y="645.0" width="31.0" height="14.0" rx="7.0" fill="#000" fill-opacity="0.75"/>
<rect x="351.4" y="645.0" width="31.0" height="14.0" rx="7.0" fill="#000" fill-opacity="0.75"/>
<rect x="383.7" y="645.0" width="31.0" height="14.0" rx="7.0" fill="#000" fill-opacity="0.75"/>
<rect x="416.0" y="645.0" width="31.0" height="14.0" rx="7.0" fill="#000" fill-opacity="0.75"/>
<rect x="448.3" y="645.0" width="31.0" height="14.0" rx="7.0" fill="#000" fill-opacity="0.75"/>
<rect x="480.6" y="645.0" width="31.0" height="14.0" rx="7.0" fill="#000" fill-opacity="0.75"/>
</g></g>
<rect x="57" y="628" width="461" height="42" fill="none" stroke="#2a2a2a" stroke-width="1.5"/>
<text x="40.0" y="673.0" font-size="17" font-weight="normal" text-anchor="end" fill="#111" >34</text>
<line x1="44.0" y1="667.0" x2="57.0" y2="667.0" stroke="#111" stroke-width="1.6" />
<text x="531.0" y="655.0" font-size="17" font-weight="bold" text-anchor="start" fill="#111" >GAPDH</text>
<line x1="662.0" y1="390.0" x2="662.0" y2="670.0" stroke="#111" stroke-width="1.5" />
<text x="0" y="0.0" font-size="17" font-weight="bold" text-anchor="middle" fill="#111" transform="translate(664.0,542.0) rotate(90)" >input</text>
<text x="1.5" y="720" font-size="27" font-weight="bold" fill="#111">b</text>
<text x="38.0" y="769.0" font-size="17" font-weight="bold" text-anchor="middle" fill="#111" >MW</text>
<text x="38.0" y="790.0" font-size="17" font-weight="bold" text-anchor="middle" fill="#111" >[kDa]</text>
<line x1="36.0" y1="799.0" x2="36.0" y2="820.0" stroke="#111" stroke-width="1.4" />
<polygon points="36,824 32.5,816 39.5,816" fill="#111"/>
<text x="0" y="0.0" font-size="17" font-weight="bold" text-anchor="start" fill="#111" transform="translate(82.0,794.0) rotate(-90)" >mock</text>
<text x="0" y="0.0" font-size="17" font-weight="bold" text-anchor="start" fill="#111" transform="translate(114.0,794.0) rotate(-90)" >WT HA<tspan font-size="11" dy="-6">Ct</tspan></text>
<text x="216.0" y="769.0" font-size="17" font-weight="bold" text-anchor="middle" fill="#111" >pTM NS4A-2K-NS4B</text>
<text x="216.0" y="790.0" font-size="17" font-weight="bold" text-anchor="middle" fill="#111" >V91A HA<tspan font-size="11" dy="-6">Ct</tspan></text>
<text x="415.0" y="769.0" font-size="17" font-weight="bold" text-anchor="middle" fill="#111" >pTM NS4A-2K-NS4B</text>
<text x="415.0" y="790.0" font-size="17" font-weight="bold" text-anchor="middle" fill="#111" >L94F HA<tspan font-size="11" dy="-6">Ct</tspan></text>
<line x1="124.0" y1="799.0" x2="306.0" y2="799.0" stroke="#111" stroke-width="2" />
<line x1="322.0" y1="799.0" x2="514.0" y2="799.0" stroke="#111" stroke-width="2" />
<text x="73.0" y="826.0" font-size="17" font-weight="bold" text-anchor="middle" fill="#111" >0</text>
<text x="105.0" y="826.0" font-size="17" font-weight="bold" text-anchor="middle" fill="#111" >0</text>
<text x="136.0" y="826.0" font-size="17" font-weight="bold" text-anchor="middle" fill="#111" >0</text>
<text x="166.0" y="826.0" font-size="17" font-weight="bold" text-anchor="middle" fill="#111" >10</text>
<text x="201.0" y="826.0" font-size="17" font-weight="bold" text-anchor="middle" fill="#111" >50</text>
<text x="232.0" y="826.0" font-size="17" font-weight="bold" text-anchor="middle" fill="#111" >100</text>
<text x="265.0" y="826.0" font-size="17" font-weight="bold" text-anchor="middle" fill="#111" >500</text>
<text x="300.0" y="826.0" font-size="17" font-weight="bold" text-anchor="middle" fill="#111" >1000</text>
<text x="334.0" y="826.0" font-size="17" font-weight="bold" text-anchor="middle" fill="#111" >0</text>
<text x="362.0" y="826.0" font-size="17" font-weight="bold" text-anchor="middle" fill="#111" >10</text>
<text x="396.0" y="826.0" font-size="17" font-weight="bold" text-anchor="middle" fill="#111" >50</text>
<text x="427.0" y="826.0" font-size="17" font-weight="bold" text-anchor="middle" fill="#111" >100</text>
<text x="460.0" y="826.0" font-size="17" font-weight="bold" text-anchor="middle" fill="#111" >500</text>
<text x="495.0" y="826.0" font-size="17" font-weight="bold" text-anchor="middle" fill="#111" >1000</text>
<line x1="521.0" y1="820.0" x2="535.0" y2="820.0" stroke="#111" stroke-width="1.4" />
<polygon points="518,820 525,816.5 525,823.5" fill="#111"/>
<text x="542.0" y="826.0" font-size="17" font-weight="bold" text-anchor="start" fill="#111" >JNJ-1802 [nM]</text>
<clipPath id="c8"><rect x="54" y="833" width="463" height="72"/></clipPath>
<rect x="54.0" y="833.0" width="463.0" height="72.0" fill="#f6f6f6" />
<g clip-path="url(#c8)"><g filter="url(#bl15)">
<rect x="91.9" y="869.0" width="23.0" height="6.0" rx="3.0" fill="#000" fill-opacity="1.00"/>
<rect x="124.3" y="869.0" width="23.0" height="6.0" rx="3.0" fill="#000" fill-opacity="0.70"/>
<rect x="156.7" y="869.0" width="23.0" height="6.0" rx="3.0" fill="#000" fill-opacity="0.70"/>
<rect x="189.1" y="869.0" width="23.0" height="6.0" rx="3.0" fill="#000" fill-opacity="0.65"/>
<rect x="221.5" y="869.0" width="23.0" height="6.0" rx="3.0" fill="#000" fill-opacity="0.80"/>
<rect x="253.9" y="869.0" width="23.0" height="6.0" rx="3.0" fill="#000" fill-opacity="0.08"/>
<rect x="286.3" y="869.0" width="23.0" height="6.0" rx="3.0" fill="#000" fill-opacity="0.04"/>
<rect x="318.7" y="869.0" width="23.0" height="6.0" rx="3.0" fill="#000" fill-opacity="1.00"/>
<rect x="351.1" y="869.0" width="23.0" height="6.0" rx="3.0" fill="#000" fill-opacity="0.50"/>
<rect x="383.5" y="869.0" width="23.0" height="6.0" rx="3.0" fill="#000" fill-opacity="0.90"/>
<rect x="415.9" y="869.0" width="23.0" height="6.0" rx="3.0" fill="#000" fill-opacity="0.85"/>
<rect x="448.3" y="869.0" width="23.0" height="6.0" rx="3.0" fill="#000" fill-opacity="0.30"/>
<rect x="480.7" y="869.0" width="23.0" height="6.0" rx="3.0" fill="#000" fill-opacity="0.08"/>
</g></g>
<rect x="54" y="833" width="463" height="72" fill="none" stroke="#2a2a2a" stroke-width="1.5"/>
<text x="33.0" y="846.0" font-size="17" font-weight="normal" text-anchor="end" fill="#111" >95</text>
<line x1="36.0" y1="840.0" x2="52.0" y2="840.0" stroke="#111" stroke-width="1.6" />
<text x="33.0" y="879.0" font-size="17" font-weight="normal" text-anchor="end" fill="#111" >72</text>
<line x1="36.0" y1="873.0" x2="52.0" y2="873.0" stroke="#111" stroke-width="1.6" />
<text x="525.0" y="881.0" font-size="17" font-weight="bold" text-anchor="start" fill="#111" >NS3</text>
<clipPath id="c9"><rect x="52" y="913" width="465" height="84"/></clipPath>
<rect x="52.0" y="913.0" width="465.0" height="84.0" fill="#e6e6e6" />
<g clip-path="url(#c9)"><g filter="url(#bl20)">
<rect x="91.9" y="919.0" width="23.0" height="20.0" rx="10.0" fill="#000" fill-opacity="0.10"/>
<rect x="124.3" y="919.0" width="23.0" height="20.0" rx="10.0" fill="#000" fill-opacity="0.10"/>
<rect x="156.7" y="919.0" width="23.0" height="20.0" rx="10.0" fill="#000" fill-opacity="0.10"/>
<rect x="189.1" y="919.0" width="23.0" height="20.0" rx="10.0" fill="#000" fill-opacity="0.10"/>
<rect x="221.5" y="919.0" width="23.0" height="20.0" rx="10.0" fill="#000" fill-opacity="0.12"/>
<rect x="253.9" y="919.0" width="23.0" height="20.0" rx="10.0" fill="#000" fill-opacity="0.10"/>
<rect x="286.3" y="919.0" width="23.0" height="20.0" rx="10.0" fill="#000" fill-opacity="0.10"/>
<rect x="318.7" y="919.0" width="23.0" height="20.0" rx="10.0" fill="#000" fill-opacity="0.10"/>
<rect x="351.1" y="919.0" width="23.0" height="20.0" rx="10.0" fill="#000" fill-opacity="0.08"/>
<rect x="383.5" y="919.0" width="23.0" height="20.0" rx="10.0" fill="#000" fill-opacity="0.10"/>
<rect x="415.9" y="919.0" width="23.0" height="20.0" rx="10.0" fill="#000" fill-opacity="0.10"/>
<rect x="448.3" y="919.0" width="23.0" height="20.0" rx="10.0" fill="#000" fill-opacity="0.10"/>
<rect x="480.7" y="919.0" width="23.0" height="20.0" rx="10.0" fill="#000" fill-opacity="0.10"/>
<rect x="91.9" y="932.0" width="23.0" height="16.0" rx="8.0" fill="#000" fill-opacity="1.00"/>
<rect x="124.3" y="932.0" width="23.0" height="16.0" rx="8.0" fill="#000" fill-opacity="0.88"/>
<rect x="156.7" y="932.0" width="23.0" height="16.0" rx="8.0" fill="#000" fill-opacity="0.95"/>
<rect x="189.1" y="932.0" width="23.0" height="16.0" rx="8.0" fill="#000" fill-opacity="0.85"/>
<rect x="221.5" y="932.0" width="23.0" height="16.0" rx="8.0" fill="#000" fill-opacity="1.00"/>
<rect x="253.9" y="932.0" width="23.0" height="16.0" rx="8.0" fill="#000" fill-opacity="1.00"/>
<rect x="286.3" y="932.0" width="23.0" height="16.0" rx="8.0" fill="#000" fill-opacity="0.98"/>
<rect x="318.7" y="932.0" width="23.0" height="16.0" rx="8.0" fill="#000" fill-opacity="0.92"/>
<rect x="351.1" y="932.0" width="23.0" height="16.0" rx="8.0" fill="#000" fill-opacity="0.60"/>
<rect x="383.5" y="932.0" width="23.0" height="16.0" rx="8.0" fill="#000" fill-opacity="1.00"/>
<rect x="415.9" y="932.0" width="23.0" height="16.0" rx="8.0" fill="#000" fill-opacity="0.95"/>
<rect x="448.3" y="932.0" width="23.0" height="16.0" rx="8.0" fill="#000" fill-opacity="0.95"/>
<rect x="480.7" y="932.0" width="23.0" height="16.0" rx="8.0" fill="#000" fill-opacity="0.98"/>
<rect x="91.9" y="967.5" width="23.0" height="5.0" rx="2.5" fill="#000" fill-opacity="0.55"/>
<rect x="124.3" y="967.5" width="23.0" height="5.0" rx="2.5" fill="#000" fill-opacity="0.45"/>
<rect x="156.7" y="967.5" width="23.0" height="5.0" rx="2.5" fill="#000" fill-opacity="0.45"/>
<rect x="189.1" y="967.5" width="23.0" height="5.0" rx="2.5" fill="#000" fill-opacity="0.40"/>
<rect x="221.5" y="967.5" width="23.0" height="5.0" rx="2.5" fill="#000" fill-opacity="0.50"/>
<rect x="253.9" y="967.5" width="23.0" height="5.0" rx="2.5" fill="#000" fill-opacity="0.05"/>
<rect x="286.3" y="967.5" width="23.0" height="5.0" rx="2.5" fill="#000" fill-opacity="0.05"/>
<rect x="318.7" y="967.5" width="23.0" height="5.0" rx="2.5" fill="#000" fill-opacity="0.55"/>
<rect x="351.1" y="967.5" width="23.0" height="5.0" rx="2.5" fill="#000" fill-opacity="0.40"/>
<rect x="383.5" y="967.5" width="23.0" height="5.0" rx="2.5" fill="#000" fill-opacity="0.40"/>
<rect x="415.9" y="967.5" width="23.0" height="5.0" rx="2.5" fill="#000" fill-opacity="0.35"/>
<rect x="448.3" y="967.5" width="23.0" height="5.0" rx="2.5" fill="#000" fill-opacity="0.05"/>
<rect x="480.7" y="967.5" width="23.0" height="5.0" rx="2.5" fill="#000" fill-opacity="0.05"/>
<rect x="91.9" y="977.5" width="23.0" height="5.0" rx="2.5" fill="#000" fill-opacity="0.45"/>
<rect x="124.3" y="977.5" width="23.0" height="5.0" rx="2.5" fill="#000" fill-opacity="0.40"/>
<rect x="156.7" y="977.5" width="23.0" height="5.0" rx="2.5" fill="#000" fill-opacity="0.40"/>
<rect x="189.1" y="977.5" width="23.0" height="5.0" rx="2.5" fill="#000" fill-opacity="0.35"/>
<rect x="221.5" y="977.5" width="23.0" height="5.0" rx="2.5" fill="#000" fill-opacity="0.40"/>
<rect x="253.9" y="977.5" width="23.0" height="5.0" rx="2.5" fill="#000" fill-opacity="0.25"/>
<rect x="286.3" y="977.5" width="23.0" height="5.0" rx="2.5" fill="#000" fill-opacity="0.22"/>
<rect x="318.7" y="977.5" width="23.0" height="5.0" rx="2.5" fill="#000" fill-opacity="0.50"/>
<rect x="351.1" y="977.5" width="23.0" height="5.0" rx="2.5" fill="#000" fill-opacity="0.35"/>
<rect x="383.5" y="977.5" width="23.0" height="5.0" rx="2.5" fill="#000" fill-opacity="0.35"/>
<rect x="415.9" y="977.5" width="23.0" height="5.0" rx="2.5" fill="#000" fill-opacity="0.30"/>
<rect x="448.3" y="977.5" width="23.0" height="5.0" rx="2.5" fill="#000" fill-opacity="0.15"/>
<rect x="480.7" y="977.5" width="23.0" height="5.0" rx="2.5" fill="#000" fill-opacity="0.30"/>
</g></g>
<rect x="52" y="913" width="465" height="84" fill="none" stroke="#2a2a2a" stroke-width="1.5"/>
<text x="33.0" y="933.0" font-size="17" font-weight="normal" text-anchor="end" fill="#111" >34</text>
<line x1="36.0" y1="927.0" x2="52.0" y2="927.0" stroke="#111" stroke-width="1.6" />
<text x="33.0" y="999.0" font-size="17" font-weight="normal" text-anchor="end" fill="#111" >26</text>
<line x1="36.0" y1="993.0" x2="52.0" y2="993.0" stroke="#111" stroke-width="1.6" />
<polygon points="519.0,938.0 529.0,934.2 529.0,941.8" fill="#111"/>
<text x="533.0" y="944.0" font-size="17" font-weight="bold" text-anchor="start" fill="#111" >4A-2K-4B-HA</text>
<polygon points="519.0,967.0 529.0,963.2 529.0,970.8" fill="#111"/>
<text x="533.0" y="973.0" font-size="17" font-weight="bold" text-anchor="start" fill="#111" >2K-4B-HA</text>
<polygon points="519.0,983.0 529.0,979.2 529.0,986.8" fill="#111"/>
<text x="533.0" y="989.0" font-size="17" font-weight="bold" text-anchor="start" fill="#111" >4B-HA</text>
<text x="0" y="0.0" font-size="17" font-weight="bold" text-anchor="middle" fill="#111" transform="translate(643.0,960.0) rotate(90)" >HA</text>
<clipPath id="c10"><rect x="52" y="1004" width="465" height="78"/></clipPath>
<rect x="52.0" y="1004.0" width="465.0" height="78.0" fill="#f8f8f8" />
<g clip-path="url(#c10)"><g filter="url(#bl20)">
<rect x="91.9" y="1007.0" width="23.0" height="16.0" rx="8.0" fill="#000" fill-opacity="0.08"/>
<rect x="124.3" y="1007.0" width="23.0" height="16.0" rx="8.0" fill="#000" fill-opacity="0.08"/>
<rect x="156.7" y="1007.0" width="23.0" height="16.0" rx="8.0" fill="#000" fill-opacity="0.08"/>
<rect x="189.1" y="1007.0" width="23.0" height="16.0" rx="8.0" fill="#000" fill-opacity="0.08"/>
<rect x="221.5" y="1007.0" width="23.0" height="16.0" rx="8.0" fill="#000" fill-opacity="0.10"/>
<rect x="253.9" y="1007.0" width="23.0" height="16.0" rx="8.0" fill="#000" fill-opacity="0.08"/>
<rect x="286.3" y="1007.0" width="23.0" height="16.0" rx="8.0" fill="#000" fill-opacity="0.08"/>
<rect x="318.7" y="1007.0" width="23.0" height="16.0" rx="8.0" fill="#000" fill-opacity="0.08"/>
<rect x="351.1" y="1007.0" width="23.0" height="16.0" rx="8.0" fill="#000" fill-opacity="0.06"/>
<rect x="383.5" y="1007.0" width="23.0" height="16.0" rx="8.0" fill="#000" fill-opacity="0.08"/>
<rect x="415.9" y="1007.0" width="23.0" height="16.0" rx="8.0" fill="#000" fill-opacity="0.06"/>
<rect x="448.3" y="1007.0" width="23.0" height="16.0" rx="8.0" fill="#000" fill-opacity="0.06"/>
<rect x="480.7" y="1007.0" width="23.0" height="16.0" rx="8.0" fill="#000" fill-opacity="0.06"/>
<rect x="91.9" y="1016.0" width="23.0" height="15.0" rx="7.5" fill="#000" fill-opacity="0.75"/>
<rect x="124.3" y="1016.0" width="23.0" height="15.0" rx="7.5" fill="#000" fill-opacity="0.62"/>
<rect x="156.7" y="1016.0" width="23.0" height="15.0" rx="7.5" fill="#000" fill-opacity="0.70"/>
<rect x="189.1" y="1016.0" width="23.0" height="15.0" rx="7.5" fill="#000" fill-opacity="0.62"/>
<rect x="221.5" y="1016.0" width="23.0" height="15.0" rx="7.5" fill="#000" fill-opacity="0.92"/>
<rect x="253.9" y="1016.0" width="23.0" height="15.0" rx="7.5" fill="#000" fill-opacity="0.72"/>
<rect x="286.3" y="1016.0" width="23.0" height="15.0" rx="7.5" fill="#000" fill-opacity="0.72"/>
<rect x="318.7" y="1016.0" width="23.0" height="15.0" rx="7.5" fill="#000" fill-opacity="0.62"/>
<rect x="351.1" y="1016.0" width="23.0" height="15.0" rx="7.5" fill="#000" fill-opacity="0.40"/>
<rect x="383.5" y="1016.0" width="23.0" height="15.0" rx="7.5" fill="#000" fill-opacity="0.55"/>
<rect x="415.9" y="1016.0" width="23.0" height="15.0" rx="7.5" fill="#000" fill-opacity="0.35"/>
<rect x="448.3" y="1016.0" width="23.0" height="15.0" rx="7.5" fill="#000" fill-opacity="0.35"/>
<rect x="480.7" y="1016.0" width="23.0" height="15.0" rx="7.5" fill="#000" fill-opacity="0.42"/>
<rect x="91.9" y="1052.0" width="23.0" height="5.0" rx="2.5" fill="#000" fill-opacity="0.40"/>
<rect x="124.3" y="1052.0" width="23.0" height="5.0" rx="2.5" fill="#000" fill-opacity="0.40"/>
<rect x="156.7" y="1052.0" width="23.0" height="5.0" rx="2.5" fill="#000" fill-opacity="0.40"/>
<rect x="189.1" y="1052.0" width="23.0" height="5.0" rx="2.5" fill="#000" fill-opacity="0.40"/>
<rect x="221.5" y="1052.0" width="23.0" height="5.0" rx="2.5" fill="#000" fill-opacity="0.45"/>
<rect x="253.9" y="1052.0" width="23.0" height="5.0" rx="2.5" fill="#000" fill-opacity="0.10"/>
<rect x="286.3" y="1052.0" width="23.0" height="5.0" rx="2.5" fill="#000" fill-opacity="0.10"/>
<rect x="318.7" y="1052.0" width="23.0" height="5.0" rx="2.5" fill="#000" fill-opacity="0.50"/>
<rect x="351.1" y="1052.0" width="23.0" height="5.0" rx="2.5" fill="#000" fill-opacity="0.35"/>
<rect x="383.5" y="1052.0" width="23.0" height="5.0" rx="2.5" fill="#000" fill-opacity="0.30"/>
<rect x="415.9" y="1052.0" width="23.0" height="5.0" rx="2.5" fill="#000" fill-opacity="0.25"/>
<rect x="448.3" y="1052.0" width="23.0" height="5.0" rx="2.5" fill="#000" fill-opacity="0.05"/>
<rect x="480.7" y="1052.0" width="23.0" height="5.0" rx="2.5" fill="#000" fill-opacity="0.10"/>
<rect x="91.9" y="1061.5" width="23.0" height="5.0" rx="2.5" fill="#000" fill-opacity="0.35"/>
<rect x="124.3" y="1061.5" width="23.0" height="5.0" rx="2.5" fill="#000" fill-opacity="0.35"/>
<rect x="156.7" y="1061.5" width="23.0" height="5.0" rx="2.5" fill="#000" fill-opacity="0.35"/>
<rect x="189.1" y="1061.5" width="23.0" height="5.0" rx="2.5" fill="#000" fill-opacity="0.35"/>
<rect x="221.5" y="1061.5" width="23.0" height="5.0" rx="2.5" fill="#000" fill-opacity="0.40"/>
<rect x="253.9" y="1061.5" width="23.0" height="5.0" rx="2.5" fill="#000" fill-opacity="0.22"/>
<rect x="286.3" y="1061.5" width="23.0" height="5.0" rx="2.5" fill="#000" fill-opacity="0.20"/>
<rect x="318.7" y="1061.5" width="23.0" height="5.0" rx="2.5" fill="#000" fill-opacity="0.45"/>
<rect x="351.1" y="1061.5" width="23.0" height="5.0" rx="2.5" fill="#000" fill-opacity="0.30"/>
<rect x="383.5" y="1061.5" width="23.0" height="5.0" rx="2.5" fill="#000" fill-opacity="0.28"/>
<rect x="415.9" y="1061.5" width="23.0" height="5.0" rx="2.5" fill="#000" fill-opacity="0.20"/>
<rect x="448.3" y="1061.5" width="23.0" height="5.0" rx="2.5" fill="#000" fill-opacity="0.08"/>
<rect x="480.7" y="1061.5" width="23.0" height="5.0" rx="2.5" fill="#000" fill-opacity="0.20"/>
</g></g>
<rect x="52" y="1004" width="465" height="78" fill="none" stroke="#2a2a2a" stroke-width="1.5"/>
<text x="33.0" y="1019.0" font-size="17" font-weight="normal" text-anchor="end" fill="#111" >34</text>
<line x1="36.0" y1="1013.0" x2="52.0" y2="1013.0" stroke="#111" stroke-width="1.6" />
<text x="33.0" y="1084.0" font-size="17" font-weight="normal" text-anchor="end" fill="#111" >26</text>
<line x1="36.0" y1="1078.0" x2="52.0" y2="1078.0" stroke="#111" stroke-width="1.6" />
<polygon points="519.0,1020.0 529.0,1016.2 529.0,1023.8" fill="#111"/>
<text x="533.0" y="1026.0" font-size="17" font-weight="bold" text-anchor="start" fill="#111" >4A-2K-4B</text>
<polygon points="519.0,1049.0 529.0,1045.2 529.0,1052.8" fill="#111"/>
<text x="533.0" y="1055.0" font-size="17" font-weight="bold" text-anchor="start" fill="#111" >2K-4B-HA</text>
<polygon points="519.0,1064.0 529.0,1060.2 529.0,1067.8" fill="#111"/>
<text x="533.0" y="1070.0" font-size="17" font-weight="bold" text-anchor="start" fill="#111" >4B-HA</text>
<text x="0" y="0.0" font-size="17" font-weight="bold" text-anchor="middle" fill="#111" transform="translate(643.0,1049.0) rotate(90)" >NS4</text>
<line x1="669.0" y1="838.0" x2="669.0" y2="1081.0" stroke="#111" stroke-width="1.5" />
<text x="0" y="0.0" font-size="17" font-weight="bold" text-anchor="middle" fill="#111" transform="translate(671.0,970.0) rotate(90)" >pull-down</text>
<clipPath id="c11"><rect x="52" y="1098" width="465" height="61"/></clipPath>
<rect x="52.0" y="1098.0" width="465.0" height="61.0" fill="#f6f6f6" />
<g clip-path="url(#c11)"><g filter="url(#bl20)">
<rect x="58.5" y="1122.0" width="25.0" height="6.0" rx="3.0" fill="#000" fill-opacity="0.90"/>
<rect x="90.9" y="1124.0" width="25.0" height="6.0" rx="3.0" fill="#000" fill-opacity="0.90"/>
<rect x="123.3" y="1127.0" width="25.0" height="6.0" rx="3.0" fill="#000" fill-opacity="0.95"/>
<rect x="155.7" y="1127.0" width="25.0" height="6.0" rx="3.0" fill="#000" fill-opacity="0.95"/>
<rect x="188.1" y="1127.0" width="25.0" height="6.0" rx="3.0" fill="#000" fill-opacity="0.95"/>
<rect x="220.5" y="1127.0" width="25.0" height="6.0" rx="3.0" fill="#000" fill-opacity="1.00"/>
<rect x="252.9" y="1127.0" width="25.0" height="6.0" rx="3.0" fill="#000" fill-opacity="0.95"/>
<rect x="285.3" y="1127.0" width="25.0" height="6.0" rx="3.0" fill="#000" fill-opacity="0.95"/>
<rect x="317.7" y="1127.0" width="25.0" height="6.0" rx="3.0" fill="#000" fill-opacity="0.95"/>
<rect x="350.1" y="1127.0" width="25.0" height="6.0" rx="3.0" fill="#000" fill-opacity="0.90"/>
<rect x="382.5" y="1127.0" width="25.0" height="6.0" rx="3.0" fill="#000" fill-opacity="0.90"/>
<rect x="414.9" y="1126.0" width="25.0" height="6.0" rx="3.0" fill="#000" fill-opacity="0.95"/>
<rect x="447.3" y="1125.0" width="25.0" height="6.0" rx="3.0" fill="#000" fill-opacity="0.95"/>
<rect x="479.7" y="1125.0" width="25.0" height="6.0" rx="3.0" fill="#000" fill-opacity="0.95"/>
<rect x="58.5" y="1132.5" width="25.0" height="5.0" rx="2.5" fill="#000" fill-opacity="0.75"/>
<rect x="90.9" y="1134.5" width="25.0" height="5.0" rx="2.5" fill="#000" fill-opacity="0.72"/>
<rect x="123.3" y="1138.0" width="25.0" height="5.0" rx="2.5" fill="#000" fill-opacity="0.72"/>
<rect x="155.7" y="1138.0" width="25.0" height="5.0" rx="2.5" fill="#000" fill-opacity="0.72"/>
<rect x="188.1" y="1138.0" width="25.0" height="5.0" rx="2.5" fill="#000" fill-opacity="0.75"/>
<rect x="220.5" y="1138.0" width="25.0" height="5.0" rx="2.5" fill="#000" fill-opacity="0.75"/>
<rect x="252.9" y="1138.0" width="25.0" height="5.0" rx="2.5" fill="#000" fill-opacity="0.65"/>
<rect x="285.3" y="1138.0" width="25.0" height="5.0" rx="2.5" fill="#000" fill-opacity="0.65"/>
<rect x="317.7" y="1138.0" width="25.0" height="5.0" rx="2.5" fill="#000" fill-opacity="0.70"/>
<rect x="350.1" y="1138.0" width="25.0" height="5.0" rx="2.5" fill="#000" fill-opacity="0.60"/>
<rect x="382.5" y="1138.0" width="25.0" height="5.0" rx="2.5" fill="#000" fill-opacity="0.60"/>
<rect x="414.9" y="1137.0" width="25.0" height="5.0" rx="2.5" fill="#000" fill-opacity="0.65"/>
<rect x="447.3" y="1136.0" width="25.0" height="5.0" rx="2.5" fill="#000" fill-opacity="0.60"/>
<rect x="479.7" y="1135.0" width="25.0" height="5.0" rx="2.5" fill="#000" fill-opacity="0.65"/>
<rect x="58.5" y="1115.0" width="25.0" height="10.0" rx="5.0" fill="#000" fill-opacity="0.06"/>
<rect x="90.9" y="1115.0" width="25.0" height="10.0" rx="5.0" fill="#000" fill-opacity="0.06"/>
<rect x="123.3" y="1115.0" width="25.0" height="10.0" rx="5.0" fill="#000" fill-opacity="0.06"/>
<rect x="155.7" y="1115.0" width="25.0" height="10.0" rx="5.0" fill="#000" fill-opacity="0.06"/>
<rect x="188.1" y="1115.0" width="25.0" height="10.0" rx="5.0" fill="#000" fill-opacity="0.06"/>
<rect x="220.5" y="1115.0" width="25.0" height="10.0" rx="5.0" fill="#000" fill-opacity="0.06"/>
<rect x="252.9" y="1115.0" width="25.0" height="10.0" rx="5.0" fill="#000" fill-opacity="0.06"/>
<rect x="285.3" y="1115.0" width="25.0" height="10.0" rx="5.0" fill="#000" fill-opacity="0.06"/>
<rect x="317.7" y="1115.0" width="25.0" height="10.0" rx="5.0" fill="#000" fill-opacity="0.06"/>
<rect x="350.1" y="1115.0" width="25.0" height="10.0" rx="5.0" fill="#000" fill-opacity="0.06"/>
<rect x="382.5" y="1115.0" width="25.0" height="10.0" rx="5.0" fill="#000" fill-opacity="0.06"/>
<rect x="414.9" y="1115.0" width="25.0" height="10.0" rx="5.0" fill="#000" fill-opacity="0.06"/>
<rect x="447.3" y="1115.0" width="25.0" height="10.0" rx="5.0" fill="#000" fill-opacity="0.06"/>
<rect x="479.7" y="1115.0" width="25.0" height="10.0" rx="5.0" fill="#000" fill-opacity="0.06"/>
</g></g>
<rect x="52" y="1098" width="465" height="61" fill="none" stroke="#2a2a2a" stroke-width="1.5"/>
<text x="33.0" y="1129.0" font-size="17" font-weight="normal" text-anchor="end" fill="#111" >72</text>
<line x1="36.0" y1="1123.0" x2="52.0" y2="1123.0" stroke="#111" stroke-width="1.6" />
<text x="33.0" y="1163.0" font-size="17" font-weight="normal" text-anchor="end" fill="#111" >55</text>
<line x1="36.0" y1="1157.0" x2="52.0" y2="1157.0" stroke="#111" stroke-width="1.6" />
<text x="521.0" y="1137.0" font-size="17" font-weight="bold" text-anchor="start" fill="#111" >NS3</text>
<clipPath id="c12"><rect x="52" y="1165" width="465" height="77"/></clipPath>
<rect x="52.0" y="1165.0" width="465.0" height="77.0" fill="#f3f3f3" />
<g clip-path="url(#c12)"><g filter="url(#bl20)">
<rect x="90.9" y="1170.0" width="25.0" height="18.0" rx="9.0" fill="#000" fill-opacity="0.08"/>
<rect x="123.3" y="1170.0" width="25.0" height="18.0" rx="9.0" fill="#000" fill-opacity="0.06"/>
<rect x="155.7" y="1170.0" width="25.0" height="18.0" rx="9.0" fill="#000" fill-opacity="0.06"/>
<rect x="188.1" y="1170.0" width="25.0" height="18.0" rx="9.0" fill="#000" fill-opacity="0.06"/>
<rect x="220.5" y="1170.0" width="25.0" height="18.0" rx="9.0" fill="#000" fill-opacity="0.08"/>
<rect x="252.9" y="1170.0" width="25.0" height="18.0" rx="9.0" fill="#000" fill-opacity="0.06"/>
<rect x="285.3" y="1170.0" width="25.0" height="18.0" rx="9.0" fill="#000" fill-opacity="0.06"/>
<rect x="317.7" y="1170.0" width="25.0" height="18.0" rx="9.0" fill="#000" fill-opacity="0.06"/>
<rect x="350.1" y="1170.0" width="25.0" height="18.0" rx="9.0" fill="#000" fill-opacity="0.06"/>
<rect x="382.5" y="1170.0" width="25.0" height="18.0" rx="9.0" fill="#000" fill-opacity="0.08"/>
<rect x="414.9" y="1170.0" width="25.0" height="18.0" rx="9.0" fill="#000" fill-opacity="0.06"/>
<rect x="447.3" y="1170.0" width="25.0" height="18.0" rx="9.0" fill="#000" fill-opacity="0.08"/>
<rect x="479.7" y="1170.0" width="25.0" height="18.0" rx="9.0" fill="#000" fill-opacity="0.08"/>
<rect x="90.9" y="1184.0" width="25.0" height="10.0" rx="5.0" fill="#000" fill-opacity="0.50"/>
<rect x="123.3" y="1184.0" width="25.0" height="10.0" rx="5.0" fill="#000" fill-opacity="0.35"/>
<rect x="155.7" y="1184.0" width="25.0" height="10.0" rx="5.0" fill="#000" fill-opacity="0.40"/>
<rect x="188.1" y="1184.0" width="25.0" height="10.0" rx="5.0" fill="#000" fill-opacity="0.35"/>
<rect x="220.5" y="1184.0" width="25.0" height="10.0" rx="5.0" fill="#000" fill-opacity="0.45"/>
<rect x="252.9" y="1184.0" width="25.0" height="10.0" rx="5.0" fill="#000" fill-opacity="0.40"/>
<rect x="285.3" y="1184.0" width="25.0" height="10.0" rx="5.0" fill="#000" fill-opacity="0.40"/>
<rect x="317.7" y="1184.0" width="25.0" height="10.0" rx="5.0" fill="#000" fill-opacity="0.30"/>
<rect x="350.1" y="1184.0" width="25.0" height="10.0" rx="5.0" fill="#000" fill-opacity="0.35"/>
<rect x="382.5" y="1184.0" width="25.0" height="10.0" rx="5.0" fill="#000" fill-opacity="0.45"/>
<rect x="414.9" y="1184.0" width="25.0" height="10.0" rx="5.0" fill="#000" fill-opacity="0.40"/>
<rect x="447.3" y="1184.0" width="25.0" height="10.0" rx="5.0" fill="#000" fill-opacity="0.55"/>
<rect x="479.7" y="1184.0" width="25.0" height="10.0" rx="5.0" fill="#000" fill-opacity="0.50"/>
<rect x="90.9" y="1215.5" width="25.0" height="5.0" rx="2.5" fill="#000" fill-opacity="0.45"/>
<rect x="123.3" y="1215.5" width="25.0" height="5.0" rx="2.5" fill="#000" fill-opacity="0.40"/>
<rect x="155.7" y="1215.5" width="25.0" height="5.0" rx="2.5" fill="#000" fill-opacity="0.45"/>
<rect x="188.1" y="1215.5" width="25.0" height="5.0" rx="2.5" fill="#000" fill-opacity="0.35"/>
<rect x="220.5" y="1215.5" width="25.0" height="5.0" rx="2.5" fill="#000" fill-opacity="0.50"/>
<rect x="252.9" y="1215.5" width="25.0" height="5.0" rx="2.5" fill="#000" fill-opacity="0.20"/>
<rect x="285.3" y="1215.5" width="25.0" height="5.0" rx="2.5" fill="#000" fill-opacity="0.20"/>
<rect x="317.7" y="1215.5" width="25.0" height="5.0" rx="2.5" fill="#000" fill-opacity="0.45"/>
<rect x="350.1" y="1215.5" width="25.0" height="5.0" rx="2.5" fill="#000" fill-opacity="0.30"/>
<rect x="382.5" y="1215.5" width="25.0" height="5.0" rx="2.5" fill="#000" fill-opacity="0.30"/>
<rect x="414.9" y="1215.5" width="25.0" height="5.0" rx="2.5" fill="#000" fill-opacity="0.25"/>
<rect x="447.3" y="1215.5" width="25.0" height="5.0" rx="2.5" fill="#000" fill-opacity="0.20"/>
<rect x="479.7" y="1215.5" width="25.0" height="5.0" rx="2.5" fill="#000" fill-opacity="0.20"/>
<rect x="90.9" y="1222.5" width="25.0" height="6.0" rx="3.0" fill="#000" fill-opacity="0.90"/>
<rect x="123.3" y="1222.5" width="25.0" height="6.0" rx="3.0" fill="#000" fill-opacity="0.85"/>
<rect x="155.7" y="1222.5" width="25.0" height="6.0" rx="3.0" fill="#000" fill-opacity="1.00"/>
<rect x="188.1" y="1222.5" width="25.0" height="6.0" rx="3.0" fill="#000" fill-opacity="0.90"/>
<rect x="220.5" y="1222.5" width="25.0" height="6.0" rx="3.0" fill="#000" fill-opacity="0.95"/>
<rect x="252.9" y="1222.5" width="25.0" height="6.0" rx="3.0" fill="#000" fill-opacity="0.80"/>
<rect x="285.3" y="1222.5" width="25.0" height="6.0" rx="3.0" fill="#000" fill-opacity="0.95"/>
<rect x="317.7" y="1222.5" width="25.0" height="6.0" rx="3.0" fill="#000" fill-opacity="0.90"/>
<rect x="350.1" y="1222.5" width="25.0" height="6.0" rx="3.0" fill="#000" fill-opacity="0.75"/>
<rect x="382.5" y="1222.5" width="25.0" height="6.0" rx="3.0" fill="#000" fill-opacity="0.75"/>
<rect x="414.9" y="1222.5" width="25.0" height="6.0" rx="3.0" fill="#000" fill-opacity="0.75"/>
<rect x="447.3" y="1222.5" width="25.0" height="6.0" rx="3.0" fill="#000" fill-opacity="0.80"/>
<rect x="479.7" y="1222.5" width="25.0" height="6.0" rx="3.0" fill="#000" fill-opacity="0.85"/>
</g></g>
<rect x="52" y="1165" width="465" height="77" fill="none" stroke="#2a2a2a" stroke-width="1.5"/>
<text x="33.0" y="1195.0" font-size="17" font-weight="normal" text-anchor="end" fill="#111" >34</text>
<line x1="36.0" y1="1189.0" x2="52.0" y2="1189.0" stroke="#111" stroke-width="1.6" />
<polygon points="519.0,1186.0 529.0,1182.2 529.0,1189.8" fill="#111"/>
<text x="533.0" y="1192.0" font-size="17" font-weight="bold" text-anchor="start" fill="#111" >4A-2K-4B-HA</text>
<polygon points="519.0,1213.0 529.0,1209.2 529.0,1216.8" fill="#111"/>
<text x="533.0" y="1219.0" font-size="17" font-weight="bold" text-anchor="start" fill="#111" >2K-4B</text>
<polygon points="519.0,1228.0 529.0,1224.2 529.0,1231.8" fill="#111"/>
<text x="533.0" y="1234.0" font-size="17" font-weight="bold" text-anchor="start" fill="#111" >4B-HA</text>
<text x="0" y="0.0" font-size="17" font-weight="bold" text-anchor="middle" fill="#111" transform="translate(643.0,1210.0) rotate(90)" >HA</text>
<clipPath id="c13"><rect x="52" y="1247" width="465" height="81"/></clipPath>
<rect x="52.0" y="1247.0" width="465.0" height="81.0" fill="#f1f1f1" />
<g clip-path="url(#c13)"><g filter="url(#bl20)">
<rect x="56.5" y="1260.5" width="29.0" height="9.0" rx="4.5" fill="#000" fill-opacity="0.15"/>
<rect x="88.9" y="1260.5" width="29.0" height="9.0" rx="4.5" fill="#000" fill-opacity="0.75"/>
<rect x="121.3" y="1260.5" width="29.0" height="9.0" rx="4.5" fill="#000" fill-opacity="0.50"/>
<rect x="153.7" y="1260.5" width="29.0" height="9.0" rx="4.5" fill="#000" fill-opacity="0.65"/>
<rect x="186.1" y="1260.5" width="29.0" height="9.0" rx="4.5" fill="#000" fill-opacity="0.55"/>
<rect x="218.5" y="1260.5" width="29.0" height="9.0" rx="4.5" fill="#000" fill-opacity="0.70"/>
<rect x="250.9" y="1260.5" width="29.0" height="9.0" rx="4.5" fill="#000" fill-opacity="0.62"/>
<rect x="283.3" y="1260.5" width="29.0" height="9.0" rx="4.5" fill="#000" fill-opacity="0.62"/>
<rect x="315.7" y="1260.5" width="29.0" height="9.0" rx="4.5" fill="#000" fill-opacity="0.55"/>
<rect x="348.1" y="1260.5" width="29.0" height="9.0" rx="4.5" fill="#000" fill-opacity="0.45"/>
<rect x="380.5" y="1260.5" width="29.0" height="9.0" rx="4.5" fill="#000" fill-opacity="0.60"/>
<rect x="412.9" y="1260.5" width="29.0" height="9.0" rx="4.5" fill="#000" fill-opacity="0.45"/>
<rect x="445.3" y="1260.5" width="29.0" height="9.0" rx="4.5" fill="#000" fill-opacity="0.60"/>
<rect x="477.7" y="1260.5" width="29.0" height="9.0" rx="4.5" fill="#000" fill-opacity="0.55"/>
<rect x="56.5" y="1277.0" width="29.0" height="6.0" rx="3.0" fill="#000" fill-opacity="0.65"/>
<rect x="88.9" y="1277.0" width="29.0" height="6.0" rx="3.0" fill="#000" fill-opacity="0.80"/>
<rect x="121.3" y="1277.0" width="29.0" height="6.0" rx="3.0" fill="#000" fill-opacity="0.75"/>
<rect x="153.7" y="1277.0" width="29.0" height="6.0" rx="3.0" fill="#000" fill-opacity="0.75"/>
<rect x="186.1" y="1277.0" width="29.0" height="6.0" rx="3.0" fill="#000" fill-opacity="0.75"/>
<rect x="218.5" y="1277.0" width="29.0" height="6.0" rx="3.0" fill="#000" fill-opacity="0.80"/>
<rect x="250.9" y="1277.0" width="29.0" height="6.0" rx="3.0" fill="#000" fill-opacity="0.72"/>
<rect x="283.3" y="1277.0" width="29.0" height="6.0" rx="3.0" fill="#000" fill-opacity="0.72"/>
<rect x="315.7" y="1277.0" width="29.0" height="6.0" rx="3.0" fill="#000" fill-opacity="0.72"/>
<rect x="348.1" y="1277.0" width="29.0" height="6.0" rx="3.0" fill="#000" fill-opacity="0.70"/>
<rect x="380.5" y="1277.0" width="29.0" height="6.0" rx="3.0" fill="#000" fill-opacity="0.72"/>
<rect x="412.9" y="1277.0" width="29.0" height="6.0" rx="3.0" fill="#000" fill-opacity="0.70"/>
<rect x="445.3" y="1277.0" width="29.0" height="6.0" rx="3.0" fill="#000" fill-opacity="0.72"/>
<rect x="477.7" y="1277.0" width="29.0" height="6.0" rx="3.0" fill="#000" fill-opacity="0.72"/>
<rect x="88.9" y="1297.5" width="29.0" height="5.0" rx="2.5" fill="#000" fill-opacity="0.45"/>
<rect x="121.3" y="1297.5" width="29.0" height="5.0" rx="2.5" fill="#000" fill-opacity="0.30"/>
<rect x="153.7" y="1297.5" width="29.0" height="5.0" rx="2.5" fill="#000" fill-opacity="0.35"/>
<rect x="186.1" y="1297.5" width="29.0" height="5.0" rx="2.5" fill="#000" fill-opacity="0.30"/>
<rect x="218.5" y="1297.5" width="29.0" height="5.0" rx="2.5" fill="#000" fill-opacity="0.35"/>
<rect x="250.9" y="1297.5" width="29.0" height="5.0" rx="2.5" fill="#000" fill-opacity="0.15"/>
<rect x="283.3" y="1297.5" width="29.0" height="5.0" rx="2.5" fill="#000" fill-opacity="0.20"/>
<rect x="315.7" y="1297.5" width="29.0" height="5.0" rx="2.5" fill="#000" fill-opacity="0.35"/>
<rect x="348.1" y="1297.5" width="29.0" height="5.0" rx="2.5" fill="#000" fill-opacity="0.20"/>
<rect x="380.5" y="1297.5" width="29.0" height="5.0" rx="2.5" fill="#000" fill-opacity="0.20"/>
<rect x="412.9" y="1297.5" width="29.0" height="5.0" rx="2.5" fill="#000" fill-opacity="0.20"/>
<rect x="445.3" y="1297.5" width="29.0" height="5.0" rx="2.5" fill="#000" fill-opacity="0.10"/>
<rect x="477.7" y="1297.5" width="29.0" height="5.0" rx="2.5" fill="#000" fill-opacity="0.10"/>
<rect x="88.9" y="1304.0" width="29.0" height="6.0" rx="3.0" fill="#000" fill-opacity="0.60"/>
<rect x="121.3" y="1304.0" width="29.0" height="6.0" rx="3.0" fill="#000" fill-opacity="0.55"/>
<rect x="153.7" y="1304.0" width="29.0" height="6.0" rx="3.0" fill="#000" fill-opacity="0.60"/>
<rect x="186.1" y="1304.0" width="29.0" height="6.0" rx="3.0" fill="#000" fill-opacity="0.55"/>
<rect x="218.5" y="1304.0" width="29.0" height="6.0" rx="3.0" fill="#000" fill-opacity="0.60"/>
<rect x="250.9" y="1304.0" width="29.0" height="6.0" rx="3.0" fill="#000" fill-opacity="0.45"/>
<rect x="283.3" y="1304.0" width="29.0" height="6.0" rx="3.0" fill="#000" fill-opacity="0.50"/>
<rect x="315.7" y="1304.0" width="29.0" height="6.0" rx="3.0" fill="#000" fill-opacity="0.55"/>
<rect x="348.1" y="1304.0" width="29.0" height="6.0" rx="3.0" fill="#000" fill-opacity="0.35"/>
<rect x="380.5" y="1304.0" width="29.0" height="6.0" rx="3.0" fill="#000" fill-opacity="0.40"/>
<rect x="412.9" y="1304.0" width="29.0" height="6.0" rx="3.0" fill="#000" fill-opacity="0.40"/>
<rect x="445.3" y="1304.0" width="29.0" height="6.0" rx="3.0" fill="#000" fill-opacity="0.35"/>
<rect x="477.7" y="1304.0" width="29.0" height="6.0" rx="3.0" fill="#000" fill-opacity="0.45"/>
<rect x="56.5" y="1313.0" width="29.0" height="4.0" rx="2.0" fill="#000" fill-opacity="0.15"/>
<rect x="88.9" y="1313.0" width="29.0" height="4.0" rx="2.0" fill="#000" fill-opacity="0.20"/>
<rect x="121.3" y="1313.0" width="29.0" height="4.0" rx="2.0" fill="#000" fill-opacity="0.15"/>
<rect x="153.7" y="1313.0" width="29.0" height="4.0" rx="2.0" fill="#000" fill-opacity="0.20"/>
<rect x="186.1" y="1313.0" width="29.0" height="4.0" rx="2.0" fill="#000" fill-opacity="0.15"/>
<rect x="218.5" y="1313.0" width="29.0" height="4.0" rx="2.0" fill="#000" fill-opacity="0.15"/>
<rect x="250.9" y="1313.0" width="29.0" height="4.0" rx="2.0" fill="#000" fill-opacity="0.05"/>
<rect x="283.3" y="1313.0" width="29.0" height="4.0" rx="2.0" fill="#000" fill-opacity="0.05"/>
<rect x="315.7" y="1313.0" width="29.0" height="4.0" rx="2.0" fill="#000" fill-opacity="0.15"/>
<rect x="348.1" y="1313.0" width="29.0" height="4.0" rx="2.0" fill="#000" fill-opacity="0.05"/>
<rect x="380.5" y="1313.0" width="29.0" height="4.0" rx="2.0" fill="#000" fill-opacity="0.10"/>
<rect x="412.9" y="1313.0" width="29.0" height="4.0" rx="2.0" fill="#000" fill-opacity="0.10"/>
<rect x="445.3" y="1313.0" width="29.0" height="4.0" rx="2.0" fill="#000" fill-opacity="0.05"/>
<rect x="477.7" y="1313.0" width="29.0" height="4.0" rx="2.0" fill="#000" fill-opacity="0.10"/>
</g></g>
<rect x="52" y="1247" width="465" height="81" fill="none" stroke="#2a2a2a" stroke-width="1.5"/>
<text x="33.0" y="1271.0" font-size="17" font-weight="normal" text-anchor="end" fill="#111" >34</text>
<line x1="36.0" y1="1265.0" x2="52.0" y2="1265.0" stroke="#111" stroke-width="1.6" />
<text x="33.0" y="1332.0" font-size="17" font-weight="normal" text-anchor="end" fill="#111" >26</text>
<line x1="36.0" y1="1326.0" x2="52.0" y2="1326.0" stroke="#111" stroke-width="1.6" />
<polygon points="519.0,1261.0 529.0,1257.2 529.0,1264.8" fill="#111"/>
<text x="533.0" y="1267.0" font-size="17" font-weight="bold" text-anchor="start" fill="#111" >4A-2K-4B-HA</text>
<polygon points="519.0,1293.0 529.0,1289.2 529.0,1296.8" fill="#111"/>
<text x="533.0" y="1299.0" font-size="17" font-weight="bold" text-anchor="start" fill="#111" >2K-4B-HA</text>
<polygon points="519.0,1309.0 529.0,1305.2 529.0,1312.8" fill="#111"/>
<text x="533.0" y="1315.0" font-size="17" font-weight="bold" text-anchor="start" fill="#111" >4B-HA</text>
<text x="0" y="0.0" font-size="17" font-weight="bold" text-anchor="middle" fill="#111" transform="translate(643.0,1295.0) rotate(90)" >NS4</text>
<clipPath id="c14"><rect x="52" y="1334" width="465" height="32"/></clipPath>
<rect x="52.0" y="1334.0" width="465.0" height="32.0" fill="#ececec" />
<g clip-path="url(#c14)"><g filter="url(#bl20)">
<rect x="56.0" y="1343.5" width="30.0" height="11.0" rx="5.5" fill="#000" fill-opacity="0.75"/>
<rect x="88.4" y="1343.5" width="30.0" height="11.0" rx="5.5" fill="#000" fill-opacity="0.75"/>
<rect x="120.8" y="1343.5" width="30.0" height="11.0" rx="5.5" fill="#000" fill-opacity="0.75"/>
<rect x="153.2" y="1343.5" width="30.0" height="11.0" rx="5.5" fill="#000" fill-opacity="0.75"/>
<rect x="185.6" y="1343.5" width="30.0" height="11.0" rx="5.5" fill="#000" fill-opacity="0.75"/>
<rect x="218.0" y="1343.5" width="30.0" height="11.0" rx="5.5" fill="#000" fill-opacity="0.75"/>
<rect x="250.4" y="1343.5" width="30.0" height="11.0" rx="5.5" fill="#000" fill-opacity="0.75"/>
<rect x="282.8" y="1343.5" width="30.0" height="11.0" rx="5.5" fill="#000" fill-opacity="0.75"/>
<rect x="315.2" y="1343.5" width="30.0" height="11.0" rx="5.5" fill="#000" fill-opacity="0.75"/>
<rect x="347.6" y="1343.5" width="30.0" height="11.0" rx="5.5" fill="#000" fill-opacity="0.75"/>
<rect x="380.0" y="1343.5" width="30.0" height="11.0" rx="5.5" fill="#000" fill-opacity="0.75"/>
<rect x="412.4" y="1343.5" width="30.0" height="11.0" rx="5.5" fill="#000" fill-opacity="0.75"/>
<rect x="444.8" y="1343.5" width="30.0" height="11.0" rx="5.5" fill="#000" fill-opacity="0.75"/>
<rect x="477.2" y="1343.5" width="30.0" height="11.0" rx="5.5" fill="#000" fill-opacity="0.75"/>
</g></g>
<rect x="52" y="1334" width="465" height="32" fill="none" stroke="#2a2a2a" stroke-width="1.5"/>
<text x="525.0" y="1357.0" font-size="17" font-weight="bold" text-anchor="start" fill="#111" >GAPDH</text>
<line x1="667.0" y1="1101.0" x2="667.0" y2="1367.0" stroke="#111" stroke-width="1.5" />
<text x="0" y="0.0" font-size="17" font-weight="bold" text-anchor="middle" fill="#111" transform="translate(675.0,1242.0) rotate(90)" >input</text>
<text x="749" y="36.3" font-size="28" font-weight="bold" fill="#111">c</text>
<text x="1064.0" y="86.7" font-size="30" font-weight="bold" text-anchor="middle" fill="#111" >WT NS4B (Input)</text>
<text x="0" y="0.0" font-size="28" font-weight="bold" text-anchor="middle" fill="#111" transform="translate(787.5,350.0) rotate(-90)" >Proportion of NS4B species</text>
<rect x="853.0" y="335.0" width="13.5" height="236.5" fill="#1399b8" />
<line x1="859.8" y1="335.0" x2="859.8" y2="298.3" stroke="#111" stroke-width="1.3" />
<line x1="855.2" y1="298.3" x2="864.2" y2="298.3" stroke="#111" stroke-width="1.3" />
<circle cx="859.8" cy="261.0" r="3.6" fill="#111"/>
<circle cx="859.8" cy="364.5" r="3.6" fill="#111"/>
<circle cx="859.8" cy="377.4" r="3.6" fill="#111"/>
<rect x="872.0" y="478.4" width="13.5" height="93.1" fill="#f2b079" />
<line x1="878.8" y1="478.4" x2="878.8" y2="457.6" stroke="#111" stroke-width="1.3" />
<line x1="874.2" y1="457.6" x2="883.2" y2="457.6" stroke="#111" stroke-width="1.3" />
<rect x="875.5" y="438.8" width="6.6" height="6.6" fill="#111"/>
<rect x="875.5" y="480.2" width="6.6" height="6.6" fill="#111"/>
<rect x="875.5" y="506.1" width="6.6" height="6.6" fill="#111"/>
<rect x="891.0" y="385.2" width="13.5" height="186.3" fill="#c8dcf4" />
<line x1="897.8" y1="385.2" x2="897.8" y2="342.2" stroke="#111" stroke-width="1.3" />
<line x1="893.2" y1="342.2" x2="902.2" y2="342.2" stroke="#111" stroke-width="1.3" />
<polygon points="897.8,306.0 901.1,310.2 897.8,314.4 894.4,310.2" fill="#111"/>
<polygon points="897.8,386.2 901.1,390.4 897.8,394.6 894.4,390.4" fill="#111"/>
<polygon points="897.8,448.3 901.1,452.5 897.8,456.7 894.4,452.5" fill="#111"/>
<rect x="943.0" y="311.2" width="13.5" height="260.3" fill="#1399b8" />
<line x1="949.8" y1="311.2" x2="949.8" y2="267.7" stroke="#111" stroke-width="1.3" />
<line x1="945.2" y1="267.7" x2="954.2" y2="267.7" stroke="#111" stroke-width="1.3" />
<circle cx="949.8" cy="229.9" r="3.6" fill="#111"/>
<circle cx="949.8" cy="323.1" r="3.6" fill="#111"/>
<circle cx="949.8" cy="382.6" r="3.6" fill="#111"/>
<rect x="962.0" y="491.3" width="13.5" height="80.2" fill="#f2b079" />
<line x1="968.8" y1="491.3" x2="968.8" y2="478.4" stroke="#111" stroke-width="1.3" />
<line x1="964.2" y1="478.4" x2="973.2" y2="478.4" stroke="#111" stroke-width="1.3" />
<rect x="965.5" y="462.1" width="6.6" height="6.6" fill="#111"/>
<rect x="965.5" y="500.9" width="6.6" height="6.6" fill="#111"/>
<rect x="971.5" y="500.9" width="6.6" height="6.6" fill="#111"/>
<rect x="981.0" y="394.5" width="13.5" height="177.0" fill="#c8dcf4" />
<line x1="987.8" y1="394.5" x2="987.8" y2="349.0" stroke="#111" stroke-width="1.3" />
<line x1="983.2" y1="349.0" x2="992.2" y2="349.0" stroke="#111" stroke-width="1.3" />
<polygon points="987.8,308.6 991.1,312.8 987.8,316.9 984.4,312.8" fill="#111"/>
<polygon points="987.8,404.3 991.1,408.5 987.8,412.7 984.4,408.5" fill="#111"/>
<polygon points="987.8,458.6 991.1,462.8 987.8,467.0 984.4,462.8" fill="#111"/>
<rect x="1014.0" y="305.0" width="13.5" height="266.5" fill="#1399b8" />
<line x1="1020.8" y1="305.0" x2="1020.8" y2="264.6" stroke="#111" stroke-width="1.3" />
<line x1="1016.2" y1="264.6" x2="1025.2" y2="264.6" stroke="#111" stroke-width="1.3" />
<circle cx="1020.8" cy="224.8" r="3.6" fill="#111"/>
<circle cx="1020.8" cy="343.8" r="3.6" fill="#111"/>
<circle cx="1026.8" cy="346.4" r="3.6" fill="#111"/>
<rect x="1033.0" y="524.9" width="13.5" height="46.6" fill="#f2b079" />
<line x1="1039.8" y1="524.9" x2="1039.8" y2="514.6" stroke="#111" stroke-width="1.3" />
<line x1="1035.2" y1="514.6" x2="1044.2" y2="514.6" stroke="#111" stroke-width="1.3" />
<rect x="1036.5" y="504.5" width="6.6" height="6.6" fill="#111"/>
<rect x="1036.5" y="519.0" width="6.6" height="6.6" fill="#111"/>
<rect x="1036.5" y="538.2" width="6.6" height="6.6" fill="#111"/>
<rect x="1052.0" y="368.1" width="13.5" height="203.4" fill="#c8dcf4" />
<line x1="1058.8" y1="368.1" x2="1058.8" y2="336.0" stroke="#111" stroke-width="1.3" />
<line x1="1054.2" y1="336.0" x2="1063.2" y2="336.0" stroke="#111" stroke-width="1.3" />
<polygon points="1058.8,329.3 1062.2,333.5 1058.8,337.7 1055.3,333.5" fill="#111"/>
<polygon points="1058.8,337.0 1062.2,341.2 1058.8,345.4 1055.3,341.2" fill="#111"/>
<polygon points="1058.8,425.0 1062.2,429.2 1058.8,433.4 1055.3,429.2" fill="#111"/>
<rect x="1085.0" y="302.4" width="13.5" height="269.1" fill="#1399b8" />
<line x1="1091.8" y1="302.4" x2="1091.8" y2="276.5" stroke="#111" stroke-width="1.3" />
<line x1="1087.2" y1="276.5" x2="1096.2" y2="276.5" stroke="#111" stroke-width="1.3" />
<circle cx="1091.8" cy="255.8" r="3.6" fill="#111"/>
<circle cx="1091.8" cy="302.4" r="3.6" fill="#111"/>
<circle cx="1091.8" cy="346.4" r="3.6" fill="#111"/>
<rect x="1104.0" y="541.5" width="13.5" height="30.0" fill="#f2b079" />
<line x1="1110.8" y1="541.5" x2="1110.8" y2="537.9" stroke="#111" stroke-width="1.3" />
<line x1="1106.2" y1="537.9" x2="1115.2" y2="537.9" stroke="#111" stroke-width="1.3" />
<rect x="1107.5" y="532.0" width="6.6" height="6.6" fill="#111"/>
<rect x="1113.5" y="532.0" width="6.6" height="6.6" fill="#111"/>
<rect x="1107.5" y="549.1" width="6.6" height="6.6" fill="#111"/>
<rect x="1123.0" y="354.1" width="13.5" height="217.4" fill="#c8dcf4" />
<line x1="1129.8" y1="354.1" x2="1129.8" y2="330.9" stroke="#111" stroke-width="1.3" />
<line x1="1125.2" y1="330.9" x2="1134.2" y2="330.9" stroke="#111" stroke-width="1.3" />
<polygon points="1129.8,311.1 1133.2,315.3 1129.8,319.5 1126.3,315.3" fill="#111"/>
<polygon points="1129.8,355.1 1133.2,359.3 1129.8,363.5 1126.3,359.3" fill="#111"/>
<polygon points="1129.8,386.2 1133.2,390.4 1129.8,394.6 1126.3,390.4" fill="#111"/>
<rect x="1156.0" y="298.3" width="13.5" height="273.2" fill="#1399b8" />
<line x1="1162.8" y1="298.3" x2="1162.8" y2="279.1" stroke="#111" stroke-width="1.3" />
<line x1="1158.2" y1="279.1" x2="1167.2" y2="279.1" stroke="#111" stroke-width="1.3" />
<circle cx="1162.8" cy="261.0" r="3.6" fill="#111"/>
<circle cx="1162.8" cy="310.2" r="3.6" fill="#111"/>
<circle cx="1162.8" cy="328.3" r="3.6" fill="#111"/>
<rect x="1175.0" y="547.7" width="13.5" height="23.8" fill="#f2b079" />
<line x1="1181.8" y1="547.7" x2="1181.8" y2="543.0" stroke="#111" stroke-width="1.3" />
<line x1="1177.2" y1="543.0" x2="1186.2" y2="543.0" stroke="#111" stroke-width="1.3" />
<rect x="1178.5" y="535.6" width="6.6" height="6.6" fill="#111"/>
<rect x="1178.5" y="544.9" width="6.6" height="6.6" fill="#111"/>
<rect x="1184.5" y="550.1" width="6.6" height="6.6" fill="#111"/>
<rect x="1194.0" y="351.6" width="13.5" height="219.9" fill="#c8dcf4" />
<line x1="1200.8" y1="351.6" x2="1200.8" y2="336.0" stroke="#111" stroke-width="1.3" />
<line x1="1196.2" y1="336.0" x2="1205.2" y2="336.0" stroke="#111" stroke-width="1.3" />
<polygon points="1200.8,329.3 1204.2,333.5 1200.8,337.7 1197.3,333.5" fill="#111"/>
<polygon points="1206.8,334.4 1210.2,338.6 1206.8,342.8 1203.3,338.6" fill="#111"/>
<polygon points="1200.8,378.4 1204.2,382.6 1200.8,386.8 1197.3,382.6" fill="#111"/>
<rect x="1226.0" y="279.1" width="13.5" height="292.4" fill="#1399b8" />
<line x1="1232.8" y1="279.1" x2="1232.8" y2="272.4" stroke="#111" stroke-width="1.3" />
<line x1="1228.2" y1="272.4" x2="1237.2" y2="272.4" stroke="#111" stroke-width="1.3" />
<circle cx="1232.8" cy="268.8" r="3.6" fill="#111"/>
<circle cx="1238.8" cy="273.9" r="3.6" fill="#111"/>
<circle cx="1232.8" cy="294.6" r="3.6" fill="#111"/>
<rect x="1245.0" y="544.6" width="13.5" height="26.9" fill="#f2b079" />
<line x1="1251.8" y1="544.6" x2="1251.8" y2="542.5" stroke="#111" stroke-width="1.3" />
<line x1="1247.2" y1="542.5" x2="1256.2" y2="542.5" stroke="#111" stroke-width="1.3" />
<rect x="1248.5" y="537.2" width="6.6" height="6.6" fill="#111"/>
<rect x="1254.5" y="541.3" width="6.6" height="6.6" fill="#111"/>
<rect x="1260.5" y="542.3" width="6.6" height="6.6" fill="#111"/>
<rect x="1264.0" y="374.9" width="13.5" height="196.6" fill="#c8dcf4" />
<line x1="1270.8" y1="374.9" x2="1270.8" y2="366.1" stroke="#111" stroke-width="1.3" />
<line x1="1266.2" y1="366.1" x2="1275.2" y2="366.1" stroke="#111" stroke-width="1.3" />
<polygon points="1270.8,355.1 1274.2,359.3 1270.8,363.5 1267.3,359.3" fill="#111"/>
<polygon points="1270.8,378.4 1274.2,382.6 1270.8,386.8 1267.3,382.6" fill="#111"/>
<polygon points="1276.8,378.4 1280.2,382.6 1276.8,386.8 1273.3,382.6" fill="#111"/>
<line x1="922.5" y1="226.0" x2="922.5" y2="569.5" stroke="#111" stroke-width="3.3" stroke-dasharray="8.5,6"/>
<line x1="846.0" y1="157.0" x2="846.0" y2="573.5" stroke="#111" stroke-width="4" />
<line x1="837.0" y1="571.5" x2="1287.0" y2="571.5" stroke="#111" stroke-width="4" />
<line x1="836.0" y1="571.5" x2="846.0" y2="571.5" stroke="#111" stroke-width="4" />
<text x="833.0" y="579.7" font-size="23" font-weight="bold" text-anchor="end" fill="#111" >0</text>
<line x1="836.0" y1="468.0" x2="846.0" y2="468.0" stroke="#111" stroke-width="4" />
<text x="833.0" y="476.2" font-size="23" font-weight="bold" text-anchor="end" fill="#111" >20</text>
<line x1="836.0" y1="364.5" x2="846.0" y2="364.5" stroke="#111" stroke-width="4" />
<text x="833.0" y="372.7" font-size="23" font-weight="bold" text-anchor="end" fill="#111" >40</text>
<line x1="836.0" y1="261.0" x2="846.0" y2="261.0" stroke="#111" stroke-width="4" />
<text x="833.0" y="269.2" font-size="23" font-weight="bold" text-anchor="end" fill="#111" >60</text>
<line x1="836.0" y1="157.5" x2="846.0" y2="157.5" stroke="#111" stroke-width="4" />
<text x="833.0" y="165.7" font-size="23" font-weight="bold" text-anchor="end" fill="#111" >80</text>
<line x1="888.0" y1="571.5" x2="888.0" y2="580.5" stroke="#111" stroke-width="4" />
<text x="0" y="0" font-size="23.5" letter-spacing="0.8" font-weight="bold" text-anchor="end" fill="#111" transform="translate(898.0,591.5) rotate(-68)">0 nM</text>
<line x1="968.5" y1="571.5" x2="968.5" y2="580.5" stroke="#111" stroke-width="4" />
<text x="0" y="0" font-size="23.5" letter-spacing="0.8" font-weight="bold" text-anchor="end" fill="#111" transform="translate(978.5,591.5) rotate(-68)">0.5 nM</text>
<line x1="1039.5" y1="571.5" x2="1039.5" y2="580.5" stroke="#111" stroke-width="4" />
<text x="0" y="0" font-size="23.5" letter-spacing="0.8" font-weight="bold" text-anchor="end" fill="#111" transform="translate(1049.5,591.5) rotate(-68)">1 nM</text>
<line x1="1110.5" y1="571.5" x2="1110.5" y2="580.5" stroke="#111" stroke-width="4" />
<text x="0" y="0" font-size="23.5" letter-spacing="0.8" font-weight="bold" text-anchor="end" fill="#111" transform="translate(1120.5,591.5) rotate(-68)">5 nM</text>
<line x1="1181.5" y1="571.5" x2="1181.5" y2="580.5" stroke="#111" stroke-width="4" />
<text x="0" y="0" font-size="23.5" letter-spacing="0.8" font-weight="bold" text-anchor="end" fill="#111" transform="translate(1191.5,591.5) rotate(-68)">10 nM</text>
<line x1="1251.5" y1="571.5" x2="1251.5" y2="580.5" stroke="#111" stroke-width="4" />
<text x="0" y="0" font-size="23.5" letter-spacing="0.8" font-weight="bold" text-anchor="end" fill="#111" transform="translate(1261.5,591.5) rotate(-68)">50 nM</text>
<rect x="772.0" y="108.0" width="152.0" height="34.0" fill="#1399b8" />
<text x="848.0" y="132.1" font-size="20" font-weight="normal" text-anchor="middle" fill="#fff" >NS4A-2K-NS4B</text>
<line x1="925.0" y1="127.0" x2="933.5" y2="127.0" stroke="#1b8fae" stroke-width="3.4" />
<line x1="965.0" y1="127.0" x2="973.2" y2="127.0" stroke="#1b8fae" stroke-width="3.4" />
<line x1="979.0" y1="127.0" x2="987.2" y2="127.0" stroke="#1b8fae" stroke-width="3.4" />
<line x1="993.0" y1="127.0" x2="1001.2" y2="127.0" stroke="#1b8fae" stroke-width="3.4" />
<line x1="1037.0" y1="127.0" x2="1045.2" y2="127.0" stroke="#1b8fae" stroke-width="3.4" />
<line x1="1051.0" y1="127.0" x2="1059.2" y2="127.0" stroke="#1b8fae" stroke-width="3.4" />
<line x1="1065.0" y1="127.0" x2="1073.2" y2="127.0" stroke="#1b8fae" stroke-width="3.4" />
<line x1="1108.0" y1="127.0" x2="1116.2" y2="127.0" stroke="#1b8fae" stroke-width="3.4" />
<line x1="1122.0" y1="127.0" x2="1130.2" y2="127.0" stroke="#1b8fae" stroke-width="3.4" />
<line x1="1136.0" y1="127.0" x2="1144.2" y2="127.0" stroke="#1b8fae" stroke-width="3.4" />
<line x1="1185.0" y1="127.0" x2="1193.2" y2="127.0" stroke="#1b8fae" stroke-width="3.4" />
<line x1="1199.0" y1="127.0" x2="1207.2" y2="127.0" stroke="#1b8fae" stroke-width="3.4" />
<line x1="1213.0" y1="127.0" x2="1221.2" y2="127.0" stroke="#1b8fae" stroke-width="3.4" />
<text x="0" y="5.9" font-size="17" font-weight="normal" text-anchor="middle" fill="#111" transform="translate(953.0,127.0) rotate(-45)" >ns</text>
<text x="0" y="5.9" font-size="17" font-weight="normal" text-anchor="middle" fill="#111" transform="translate(1022.0,127.0) rotate(-45)" >ns</text>
<text x="0" y="5.9" font-size="17" font-weight="normal" text-anchor="middle" fill="#111" transform="translate(1097.0,127.0) rotate(-45)" >ns</text>
<text x="0" y="5.9" font-size="17" font-weight="normal" text-anchor="middle" fill="#111" transform="translate(1167.0,127.0) rotate(-45)" >ns</text>
<text x="0" y="5.9" font-size="17" font-weight="normal" text-anchor="middle" fill="#111" transform="translate(1241.0,127.0) rotate(-45)" >ns</text>
<rect x="858.0" y="145.0" width="94.0" height="34.0" fill="#f2b079" />
<text x="905.0" y="169.1" font-size="20" font-weight="normal" text-anchor="middle" fill="#111" >2K-NS4B</text>
<line x1="953.0" y1="162.0" x2="961.5" y2="162.0" stroke="#4eb0e3" stroke-width="3.4" />
<line x1="985.0" y1="162.0" x2="993.2" y2="162.0" stroke="#4eb0e3" stroke-width="3.4" />
<line x1="999.0" y1="162.0" x2="1007.2" y2="162.0" stroke="#4eb0e3" stroke-width="3.4" />
<line x1="1013.0" y1="162.0" x2="1021.2" y2="162.0" stroke="#4eb0e3" stroke-width="3.4" />
<line x1="1063.0" y1="162.0" x2="1071.2" y2="162.0" stroke="#4eb0e3" stroke-width="3.4" />
<line x1="1077.0" y1="162.0" x2="1085.2" y2="162.0" stroke="#4eb0e3" stroke-width="3.4" />
<line x1="1091.0" y1="162.0" x2="1099.2" y2="162.0" stroke="#4eb0e3" stroke-width="3.4" />
<line x1="1139.0" y1="162.0" x2="1147.2" y2="162.0" stroke="#4eb0e3" stroke-width="3.4" />
<line x1="1153.0" y1="162.0" x2="1161.2" y2="162.0" stroke="#4eb0e3" stroke-width="3.4" />
<line x1="1167.0" y1="162.0" x2="1175.2" y2="162.0" stroke="#4eb0e3" stroke-width="3.4" />
<line x1="1214.0" y1="162.0" x2="1222.2" y2="162.0" stroke="#4eb0e3" stroke-width="3.4" />
<line x1="1228.0" y1="162.0" x2="1236.2" y2="162.0" stroke="#4eb0e3" stroke-width="3.4" />
<line x1="1242.0" y1="162.0" x2="1250.2" y2="162.0" stroke="#4eb0e3" stroke-width="3.4" />
<text x="0" y="5.9" font-size="17" font-weight="normal" text-anchor="middle" fill="#111" transform="translate(973.0,162.0) rotate(-45)" >ns</text>
<text x="0" y="5.9" font-size="17" font-weight="normal" text-anchor="middle" fill="#111" transform="translate(1047.0,162.0) rotate(-45)" >0.018</text>
<text x="0" y="5.9" font-size="17" font-weight="normal" text-anchor="middle" fill="#111" transform="translate(1122.0,162.0) rotate(-45)" >0.0026</text>
<text x="0" y="5.9" font-size="17" font-weight="normal" text-anchor="middle" fill="#111" transform="translate(1197.0,162.0) rotate(-45)" >0.0014</text>
<text x="0" y="5.9" font-size="17" font-weight="normal" text-anchor="middle" fill="#111" transform="translate(1269.0,162.0) rotate(-45)" >0.0021</text>
<rect x="901.0" y="186.0" width="65.0" height="35.0" fill="#c8dcf4" />
<text x="933.5" y="210.6" font-size="20" font-weight="normal" text-anchor="middle" fill="#111" >NS4B</text>
<line x1="967.0" y1="205.0" x2="975.5" y2="205.0" stroke="#c3d4ec" stroke-width="3.4" />
<line x1="1007.0" y1="205.0" x2="1015.2" y2="205.0" stroke="#c3d4ec" stroke-width="3.4" />
<line x1="1021.0" y1="205.0" x2="1029.2" y2="205.0" stroke="#c3d4ec" stroke-width="3.4" />
<line x1="1035.0" y1="205.0" x2="1043.2" y2="205.0" stroke="#c3d4ec" stroke-width="3.4" />
<line x1="1078.0" y1="205.0" x2="1086.2" y2="205.0" stroke="#c3d4ec" stroke-width="3.4" />
<line x1="1092.0" y1="205.0" x2="1100.2" y2="205.0" stroke="#c3d4ec" stroke-width="3.4" />
<line x1="1106.0" y1="205.0" x2="1114.2" y2="205.0" stroke="#c3d4ec" stroke-width="3.4" />
<line x1="1149.0" y1="205.0" x2="1157.2" y2="205.0" stroke="#c3d4ec" stroke-width="3.4" />
<line x1="1163.0" y1="205.0" x2="1171.2" y2="205.0" stroke="#c3d4ec" stroke-width="3.4" />
<line x1="1177.0" y1="205.0" x2="1185.2" y2="205.0" stroke="#c3d4ec" stroke-width="3.4" />
<line x1="1226.0" y1="205.0" x2="1234.2" y2="205.0" stroke="#c3d4ec" stroke-width="3.4" />
<line x1="1240.0" y1="205.0" x2="1248.2" y2="205.0" stroke="#c3d4ec" stroke-width="3.4" />
<line x1="1254.0" y1="205.0" x2="1262.2" y2="205.0" stroke="#c3d4ec" stroke-width="3.4" />
<text x="0" y="5.9" font-size="17" font-weight="normal" text-anchor="middle" fill="#111" transform="translate(994.0,205.0) rotate(-45)" >ns</text>
<text x="0" y="5.9" font-size="17" font-weight="normal" text-anchor="middle" fill="#111" transform="translate(1064.0,205.0) rotate(-45)" >ns</text>
<text x="0" y="5.9" font-size="17" font-weight="normal" text-anchor="middle" fill="#111" transform="translate(1136.0,205.0) rotate(-45)" >ns</text>
<text x="0" y="5.9" font-size="17" font-weight="normal" text-anchor="middle" fill="#111" transform="translate(1207.0,205.0) rotate(-45)" >ns</text>
<text x="0" y="5.9" font-size="17" font-weight="normal" text-anchor="middle" fill="#111" transform="translate(1281.5,205.0) rotate(-45)" >ns</text>
<text x="1296" y="35.5" font-size="27" font-weight="bold" fill="#111">d</text>
<text x="1635.0" y="87.7" font-size="30" font-weight="bold" text-anchor="middle" fill="#111" >NS4B T108I (Input)</text>
<text x="0" y="0.0" font-size="28" font-weight="bold" text-anchor="middle" fill="#111" transform="translate(1354.0,350.0) rotate(-90)" >Proportion of NS4B species</text>
<rect x="1420.0" y="305.0" width="13.5" height="266.5" fill="#1399b8" />
<line x1="1426.8" y1="305.0" x2="1426.8" y2="267.7" stroke="#111" stroke-width="1.3" />
<line x1="1422.2" y1="267.7" x2="1431.2" y2="267.7" stroke="#111" stroke-width="1.3" />
<circle cx="1426.8" cy="232.5" r="3.6" fill="#111"/>
<circle cx="1426.8" cy="336.0" r="3.6" fill="#111"/>
<circle cx="1426.8" cy="351.6" r="3.6" fill="#111"/>
<rect x="1439.0" y="483.5" width="13.5" height="88.0" fill="#f2b079" />
<line x1="1445.8" y1="483.5" x2="1445.8" y2="466.4" stroke="#111" stroke-width="1.3" />
<line x1="1441.2" y1="466.4" x2="1450.2" y2="466.4" stroke="#111" stroke-width="1.3" />
<rect x="1442.5" y="445.6" width="6.6" height="6.6" fill="#111"/>
<rect x="1442.5" y="494.2" width="6.6" height="6.6" fill="#111"/>
<rect x="1442.5" y="500.9" width="6.6" height="6.6" fill="#111"/>
<rect x="1458.0" y="408.5" width="13.5" height="163.0" fill="#c8dcf4" />
<line x1="1464.8" y1="408.5" x2="1464.8" y2="375.9" stroke="#111" stroke-width="1.3" />
<line x1="1460.2" y1="375.9" x2="1469.2" y2="375.9" stroke="#111" stroke-width="1.3" />
<polygon points="1464.8,355.1 1468.2,359.3 1464.8,363.5 1461.3,359.3" fill="#111"/>
<polygon points="1464.8,393.9 1468.2,398.1 1464.8,402.3 1461.3,398.1" fill="#111"/>
<polygon points="1464.8,462.2 1468.2,466.4 1464.8,470.6 1461.3,466.4" fill="#111"/>
<rect x="1510.0" y="302.4" width="13.5" height="269.1" fill="#1399b8" />
<line x1="1516.8" y1="302.4" x2="1516.8" y2="260.0" stroke="#111" stroke-width="1.3" />
<line x1="1512.2" y1="260.0" x2="1521.2" y2="260.0" stroke="#111" stroke-width="1.3" />
<circle cx="1516.8" cy="218.0" r="3.6" fill="#111"/>
<circle cx="1516.8" cy="343.8" r="3.6" fill="#111"/>
<circle cx="1516.8" cy="352.6" r="3.6" fill="#111"/>
<rect x="1529.0" y="483.5" width="13.5" height="88.0" fill="#f2b079" />
<line x1="1535.8" y1="483.5" x2="1535.8" y2="468.0" stroke="#111" stroke-width="1.3" />
<line x1="1531.2" y1="468.0" x2="1540.2" y2="468.0" stroke="#111" stroke-width="1.3" />
<rect x="1532.5" y="449.2" width="6.6" height="6.6" fill="#111"/>
<rect x="1532.5" y="495.8" width="6.6" height="6.6" fill="#111"/>
<rect x="1538.5" y="495.8" width="6.6" height="6.6" fill="#111"/>
<rect x="1548.0" y="411.1" width="13.5" height="160.4" fill="#c8dcf4" />
<line x1="1554.8" y1="411.1" x2="1554.8" y2="372.3" stroke="#111" stroke-width="1.3" />
<line x1="1550.2" y1="372.3" x2="1559.2" y2="372.3" stroke="#111" stroke-width="1.3" />
<polygon points="1554.8,344.8 1558.2,349.0 1554.8,353.2 1551.3,349.0" fill="#111"/>
<polygon points="1554.8,400.1 1558.2,404.3 1554.8,408.5 1551.3,404.3" fill="#111"/>
<polygon points="1554.8,475.2 1558.2,479.4 1554.8,483.6 1551.3,479.4" fill="#111"/>
<rect x="1581.0" y="280.7" width="13.5" height="290.8" fill="#1399b8" />
<line x1="1587.8" y1="280.7" x2="1587.8" y2="238.7" stroke="#111" stroke-width="1.3" />
<line x1="1583.2" y1="238.7" x2="1592.2" y2="238.7" stroke="#111" stroke-width="1.3" />
<circle cx="1587.8" cy="196.3" r="3.6" fill="#111"/>
<circle cx="1587.8" cy="317.9" r="3.6" fill="#111"/>
<circle cx="1587.8" cy="328.3" r="3.6" fill="#111"/>
<rect x="1600.0" y="491.3" width="13.5" height="80.2" fill="#f2b079" />
<line x1="1606.8" y1="491.3" x2="1606.8" y2="473.2" stroke="#111" stroke-width="1.3" />
<line x1="1602.2" y1="473.2" x2="1611.2" y2="473.2" stroke="#111" stroke-width="1.3" />
<rect x="1603.5" y="454.3" width="6.6" height="6.6" fill="#111"/>
<rect x="1603.5" y="496.8" width="6.6" height="6.6" fill="#111"/>
<rect x="1603.5" y="511.3" width="6.6" height="6.6" fill="#111"/>
<rect x="1619.0" y="426.6" width="13.5" height="144.9" fill="#c8dcf4" />
<line x1="1625.8" y1="426.6" x2="1625.8" y2="395.6" stroke="#111" stroke-width="1.3" />
<line x1="1621.2" y1="395.6" x2="1630.2" y2="395.6" stroke="#111" stroke-width="1.3" />
<polygon points="1625.8,375.8 1629.2,380.0 1625.8,384.2 1622.3,380.0" fill="#111"/>
<polygon points="1625.8,409.5 1629.2,413.7 1625.8,417.9 1622.3,413.7" fill="#111"/>
<polygon points="1625.8,480.4 1629.2,484.6 1625.8,488.8 1622.3,484.6" fill="#111"/>
<rect x="1652.0" y="263.6" width="13.5" height="307.9" fill="#1399b8" />
<line x1="1658.8" y1="263.6" x2="1658.8" y2="231.5" stroke="#111" stroke-width="1.3" />
<line x1="1654.2" y1="231.5" x2="1663.2" y2="231.5" stroke="#111" stroke-width="1.3" />
<circle cx="1658.8" cy="198.9" r="3.6" fill="#111"/>
<circle cx="1658.8" cy="285.3" r="3.6" fill="#111"/>
<circle cx="1658.8" cy="305.0" r="3.6" fill="#111"/>
<rect x="1671.0" y="509.4" width="13.5" height="62.1" fill="#f2b079" />
<line x1="1677.8" y1="509.4" x2="1677.8" y2="500.1" stroke="#111" stroke-width="1.3" />
<line x1="1673.2" y1="500.1" x2="1682.2" y2="500.1" stroke="#111" stroke-width="1.3" />
<rect x="1674.5" y="488.0" width="6.6" height="6.6" fill="#111"/>
<rect x="1674.5" y="511.3" width="6.6" height="6.6" fill="#111"/>
<rect x="1674.5" y="519.0" width="6.6" height="6.6" fill="#111"/>
<rect x="1690.0" y="424.0" width="13.5" height="147.5" fill="#c8dcf4" />
<line x1="1696.8" y1="424.0" x2="1696.8" y2="395.6" stroke="#111" stroke-width="1.3" />
<line x1="1692.2" y1="395.6" x2="1701.2" y2="395.6" stroke="#111" stroke-width="1.3" />
<polygon points="1696.8,374.3 1700.2,378.5 1696.8,382.7 1693.3,378.5" fill="#111"/>
<polygon points="1696.8,415.7 1700.2,419.9 1696.8,424.1 1693.3,419.9" fill="#111"/>
<polygon points="1696.8,469.0 1700.2,473.2 1696.8,477.4 1693.3,473.2" fill="#111"/>
<rect x="1723.0" y="232.5" width="13.5" height="339.0" fill="#1399b8" />
<line x1="1729.8" y1="232.5" x2="1729.8" y2="205.1" stroke="#111" stroke-width="1.3" />
<line x1="1725.2" y1="205.1" x2="1734.2" y2="205.1" stroke="#111" stroke-width="1.3" />
<circle cx="1729.8" cy="198.9" r="3.6" fill="#111"/>
<circle cx="1729.8" cy="215.5" r="3.6" fill="#111"/>
<circle cx="1729.8" cy="285.3" r="3.6" fill="#111"/>
<rect x="1742.0" y="530.1" width="13.5" height="41.4" fill="#f2b079" />
<line x1="1748.8" y1="530.1" x2="1748.8" y2="520.8" stroke="#111" stroke-width="1.3" />
<line x1="1744.2" y1="520.8" x2="1753.2" y2="520.8" stroke="#111" stroke-width="1.3" />
<rect x="1745.5" y="511.3" width="6.6" height="6.6" fill="#111"/>
<rect x="1745.5" y="525.8" width="6.6" height="6.6" fill="#111"/>
<rect x="1745.5" y="542.3" width="6.6" height="6.6" fill="#111"/>
<rect x="1761.0" y="434.4" width="13.5" height="137.1" fill="#c8dcf4" />
<line x1="1767.8" y1="434.4" x2="1767.8" y2="415.2" stroke="#111" stroke-width="1.3" />
<line x1="1763.2" y1="415.2" x2="1772.2" y2="415.2" stroke="#111" stroke-width="1.3" />
<polygon points="1767.8,392.4 1771.2,396.6 1767.8,400.8 1764.3,396.6" fill="#111"/>
<polygon points="1767.8,448.3 1771.2,452.5 1767.8,456.7 1764.3,452.5" fill="#111"/>
<polygon points="1773.8,448.3 1777.2,452.5 1773.8,456.7 1770.3,452.5" fill="#111"/>
<rect x="1793.0" y="254.3" width="13.5" height="317.2" fill="#1399b8" />
<line x1="1799.8" y1="254.3" x2="1799.8" y2="223.2" stroke="#111" stroke-width="1.3" />
<line x1="1795.2" y1="223.2" x2="1804.2" y2="223.2" stroke="#111" stroke-width="1.3" />
<circle cx="1799.8" cy="198.9" r="3.6" fill="#111"/>
<circle cx="1799.8" cy="263.6" r="3.6" fill="#111"/>
<circle cx="1799.8" cy="302.4" r="3.6" fill="#111"/>
<rect x="1812.0" y="553.4" width="13.5" height="18.1" fill="#f2b079" />
<line x1="1818.8" y1="553.4" x2="1818.8" y2="551.8" stroke="#111" stroke-width="1.3" />
<line x1="1814.2" y1="551.8" x2="1823.2" y2="551.8" stroke="#111" stroke-width="1.3" />
<rect x="1815.5" y="548.5" width="6.6" height="6.6" fill="#111"/>
<rect x="1821.5" y="548.5" width="6.6" height="6.6" fill="#111"/>
<rect x="1827.5" y="552.7" width="6.6" height="6.6" fill="#111"/>
<rect x="1831.0" y="390.4" width="13.5" height="181.1" fill="#c8dcf4" />
<line x1="1837.8" y1="390.4" x2="1837.8" y2="357.8" stroke="#111" stroke-width="1.3" />
<line x1="1833.2" y1="357.8" x2="1842.2" y2="357.8" stroke="#111" stroke-width="1.3" />
<polygon points="1837.8,334.4 1841.2,338.6 1837.8,342.8 1834.3,338.6" fill="#111"/>
<polygon points="1837.8,376.9 1841.2,381.1 1837.8,385.3 1834.3,381.1" fill="#111"/>
<polygon points="1837.8,442.1 1841.2,446.3 1837.8,450.5 1834.3,446.3" fill="#111"/>
<line x1="1489.5" y1="217.0" x2="1489.5" y2="569.5" stroke="#111" stroke-width="3.3" stroke-dasharray="8.5,6"/>
<line x1="1413.0" y1="157.0" x2="1413.0" y2="573.5" stroke="#111" stroke-width="4" />
<line x1="1404.0" y1="571.5" x2="1853.0" y2="571.5" stroke="#111" stroke-width="4" />
<line x1="1403.0" y1="571.5" x2="1413.0" y2="571.5" stroke="#111" stroke-width="4" />
<text x="1400.0" y="579.7" font-size="23" font-weight="bold" text-anchor="end" fill="#111" >0</text>
<line x1="1403.0" y1="468.0" x2="1413.0" y2="468.0" stroke="#111" stroke-width="4" />
<text x="1400.0" y="476.2" font-size="23" font-weight="bold" text-anchor="end" fill="#111" >20</text>
<line x1="1403.0" y1="364.5" x2="1413.0" y2="364.5" stroke="#111" stroke-width="4" />
<text x="1400.0" y="372.7" font-size="23" font-weight="bold" text-anchor="end" fill="#111" >40</text>
<line x1="1403.0" y1="261.0" x2="1413.0" y2="261.0" stroke="#111" stroke-width="4" />
<text x="1400.0" y="269.2" font-size="23" font-weight="bold" text-anchor="end" fill="#111" >60</text>
<line x1="1403.0" y1="157.5" x2="1413.0" y2="157.5" stroke="#111" stroke-width="4" />
<text x="1400.0" y="165.7" font-size="23" font-weight="bold" text-anchor="end" fill="#111" >80</text>
<line x1="1455.0" y1="571.5" x2="1455.0" y2="580.5" stroke="#111" stroke-width="4" />
<text x="0" y="0" font-size="23.5" letter-spacing="0.8" font-weight="bold" text-anchor="end" fill="#111" transform="translate(1465.0,591.5) rotate(-68)">0 nM</text>
<line x1="1535.5" y1="571.5" x2="1535.5" y2="580.5" stroke="#111" stroke-width="4" />
<text x="0" y="0" font-size="23.5" letter-spacing="0.8" font-weight="bold" text-anchor="end" fill="#111" transform="translate(1545.5,591.5) rotate(-68)">0.5 nM</text>
<line x1="1606.5" y1="571.5" x2="1606.5" y2="580.5" stroke="#111" stroke-width="4" />
<text x="0" y="0" font-size="23.5" letter-spacing="0.8" font-weight="bold" text-anchor="end" fill="#111" transform="translate(1616.5,591.5) rotate(-68)">1 nM</text>
<line x1="1677.5" y1="571.5" x2="1677.5" y2="580.5" stroke="#111" stroke-width="4" />
<text x="0" y="0" font-size="23.5" letter-spacing="0.8" font-weight="bold" text-anchor="end" fill="#111" transform="translate(1687.5,591.5) rotate(-68)">5 nM</text>
<line x1="1748.5" y1="571.5" x2="1748.5" y2="580.5" stroke="#111" stroke-width="4" />
<text x="0" y="0" font-size="23.5" letter-spacing="0.8" font-weight="bold" text-anchor="end" fill="#111" transform="translate(1758.5,591.5) rotate(-68)">10 nM</text>
<line x1="1818.5" y1="571.5" x2="1818.5" y2="580.5" stroke="#111" stroke-width="4" />
<text x="0" y="0" font-size="23.5" letter-spacing="0.8" font-weight="bold" text-anchor="end" fill="#111" transform="translate(1828.5,591.5) rotate(-68)">50 nM</text>
<rect x="1345.0" y="95.0" width="151.0" height="34.0" fill="#1399b8" />
<text x="1420.5" y="119.1" font-size="20" font-weight="normal" text-anchor="middle" fill="#fff" >NS4A-2K-NS4B</text>
<line x1="1497.0" y1="111.0" x2="1505.5" y2="111.0" stroke="#1b8fae" stroke-width="3.4" />
<line x1="1532.0" y1="111.0" x2="1540.2" y2="111.0" stroke="#1b8fae" stroke-width="3.4" />
<line x1="1546.0" y1="111.0" x2="1554.2" y2="111.0" stroke="#1b8fae" stroke-width="3.4" />
<line x1="1560.0" y1="111.0" x2="1568.2" y2="111.0" stroke="#1b8fae" stroke-width="3.4" />
<line x1="1604.0" y1="111.0" x2="1612.2" y2="111.0" stroke="#1b8fae" stroke-width="3.4" />
<line x1="1618.0" y1="111.0" x2="1626.2" y2="111.0" stroke="#1b8fae" stroke-width="3.4" />
<line x1="1632.0" y1="111.0" x2="1640.2" y2="111.0" stroke="#1b8fae" stroke-width="3.4" />
<line x1="1675.0" y1="111.0" x2="1683.2" y2="111.0" stroke="#1b8fae" stroke-width="3.4" />
<line x1="1689.0" y1="111.0" x2="1697.2" y2="111.0" stroke="#1b8fae" stroke-width="3.4" />
<line x1="1703.0" y1="111.0" x2="1711.2" y2="111.0" stroke="#1b8fae" stroke-width="3.4" />
<line x1="1752.0" y1="111.0" x2="1760.2" y2="111.0" stroke="#1b8fae" stroke-width="3.4" />
<line x1="1766.0" y1="111.0" x2="1774.2" y2="111.0" stroke="#1b8fae" stroke-width="3.4" />
<line x1="1780.0" y1="111.0" x2="1788.2" y2="111.0" stroke="#1b8fae" stroke-width="3.4" />
<text x="0" y="5.9" font-size="17" font-weight="normal" text-anchor="middle" fill="#111" transform="translate(1520.0,111.0) rotate(-45)" >ns</text>
<text x="0" y="5.9" font-size="17" font-weight="normal" text-anchor="middle" fill="#111" transform="translate(1589.0,111.0) rotate(-45)" >ns</text>
<text x="0" y="5.9" font-size="17" font-weight="normal" text-anchor="middle" fill="#111" transform="translate(1664.0,111.0) rotate(-45)" >ns</text>
<text x="0" y="5.9" font-size="17" font-weight="normal" text-anchor="middle" fill="#111" transform="translate(1734.0,111.0) rotate(-45)" >0.013</text>
<text x="0" y="5.9" font-size="17" font-weight="normal" text-anchor="middle" fill="#111" transform="translate(1808.0,111.0) rotate(-45)" >ns</text>
<rect x="1416.0" y="134.0" width="95.0" height="33.0" fill="#f2b079" />
<text x="1463.5" y="157.6" font-size="20" font-weight="normal" text-anchor="middle" fill="#111" >2K-NS4B</text>
<line x1="1512.0" y1="147.0" x2="1520.5" y2="147.0" stroke="#eea868" stroke-width="3.4" />
<line x1="1552.0" y1="147.0" x2="1560.2" y2="147.0" stroke="#eea868" stroke-width="3.4" />
<line x1="1566.0" y1="147.0" x2="1574.2" y2="147.0" stroke="#eea868" stroke-width="3.4" />
<line x1="1580.0" y1="147.0" x2="1588.2" y2="147.0" stroke="#eea868" stroke-width="3.4" />
<line x1="1630.0" y1="147.0" x2="1638.2" y2="147.0" stroke="#eea868" stroke-width="3.4" />
<line x1="1644.0" y1="147.0" x2="1652.2" y2="147.0" stroke="#eea868" stroke-width="3.4" />
<line x1="1658.0" y1="147.0" x2="1666.2" y2="147.0" stroke="#eea868" stroke-width="3.4" />
<line x1="1706.0" y1="147.0" x2="1714.2" y2="147.0" stroke="#eea868" stroke-width="3.4" />
<line x1="1720.0" y1="147.0" x2="1728.2" y2="147.0" stroke="#eea868" stroke-width="3.4" />
<line x1="1734.0" y1="147.0" x2="1742.2" y2="147.0" stroke="#eea868" stroke-width="3.4" />
<line x1="1781.0" y1="147.0" x2="1789.2" y2="147.0" stroke="#eea868" stroke-width="3.4" />
<line x1="1795.0" y1="147.0" x2="1803.2" y2="147.0" stroke="#eea868" stroke-width="3.4" />
<line x1="1809.0" y1="147.0" x2="1817.2" y2="147.0" stroke="#eea868" stroke-width="3.4" />
<text x="0" y="5.9" font-size="17" font-weight="normal" text-anchor="middle" fill="#111" transform="translate(1540.0,147.0) rotate(-45)" >ns</text>
<text x="0" y="5.9" font-size="17" font-weight="normal" text-anchor="middle" fill="#111" transform="translate(1614.0,147.0) rotate(-45)" >ns</text>
<text x="0" y="5.9" font-size="17" font-weight="normal" text-anchor="middle" fill="#111" transform="translate(1689.0,147.0) rotate(-45)" >ns</text>
<text x="0" y="5.9" font-size="17" font-weight="normal" text-anchor="middle" fill="#111" transform="translate(1764.0,147.0) rotate(-45)" >0.019</text>
<text x="0" y="5.9" font-size="17" font-weight="normal" text-anchor="middle" fill="#111" transform="translate(1836.0,147.0) rotate(-45)" >0.0012</text>
<rect x="1471.0" y="174.0" width="67.0" height="33.0" fill="#c8dcf4" />
<text x="1504.5" y="197.6" font-size="20" font-weight="normal" text-anchor="middle" fill="#111" >NS4B</text>
<line x1="1539.0" y1="188.0" x2="1547.5" y2="188.0" stroke="#c3d4ec" stroke-width="3.4" />
<line x1="1574.0" y1="188.0" x2="1582.2" y2="188.0" stroke="#c3d4ec" stroke-width="3.4" />
<line x1="1588.0" y1="188.0" x2="1596.2" y2="188.0" stroke="#c3d4ec" stroke-width="3.4" />
<line x1="1602.0" y1="188.0" x2="1610.2" y2="188.0" stroke="#c3d4ec" stroke-width="3.4" />
<line x1="1645.0" y1="188.0" x2="1653.2" y2="188.0" stroke="#c3d4ec" stroke-width="3.4" />
<line x1="1659.0" y1="188.0" x2="1667.2" y2="188.0" stroke="#c3d4ec" stroke-width="3.4" />
<line x1="1673.0" y1="188.0" x2="1681.2" y2="188.0" stroke="#c3d4ec" stroke-width="3.4" />
<line x1="1716.0" y1="188.0" x2="1724.2" y2="188.0" stroke="#c3d4ec" stroke-width="3.4" />
<line x1="1730.0" y1="188.0" x2="1738.2" y2="188.0" stroke="#c3d4ec" stroke-width="3.4" />
<line x1="1744.0" y1="188.0" x2="1752.2" y2="188.0" stroke="#c3d4ec" stroke-width="3.4" />
<line x1="1793.0" y1="188.0" x2="1801.2" y2="188.0" stroke="#c3d4ec" stroke-width="3.4" />
<line x1="1807.0" y1="188.0" x2="1815.2" y2="188.0" stroke="#c3d4ec" stroke-width="3.4" />
<line x1="1821.0" y1="188.0" x2="1829.2" y2="188.0" stroke="#c3d4ec" stroke-width="3.4" />
<text x="0" y="5.9" font-size="17" font-weight="normal" text-anchor="middle" fill="#111" transform="translate(1561.0,188.0) rotate(-45)" >ns</text>
<text x="0" y="5.9" font-size="17" font-weight="normal" text-anchor="middle" fill="#111" transform="translate(1631.0,188.0) rotate(-45)" >ns</text>
<text x="0" y="5.9" font-size="17" font-weight="normal" text-anchor="middle" fill="#111" transform="translate(1703.0,188.0) rotate(-45)" >ns</text>
<text x="0" y="5.9" font-size="17" font-weight="normal" text-anchor="middle" fill="#111" transform="translate(1774.0,188.0) rotate(-45)" >ns</text>
<text x="0" y="5.9" font-size="17" font-weight="normal" text-anchor="middle" fill="#111" transform="translate(1848.5,188.0) rotate(-45)" >ns</text>
<text x="748" y="720.5" font-size="28" font-weight="bold" fill="#111">e</text>
<text x="1065.0" y="790.6" font-size="30" font-weight="bold" text-anchor="middle" fill="#111" >NS4B V91A (Input)</text>
<text x="0" y="0.0" font-size="27.5" font-weight="bold" text-anchor="middle" fill="#111" transform="translate(787.5,1065.0) rotate(-90)" >Proportion of NS4B species</text>
<rect x="853.0" y="1068.6" width="13.5" height="205.4" fill="#1399b8" />
<line x1="859.8" y1="1068.6" x2="859.8" y2="1019.6" stroke="#111" stroke-width="1.3" />
<line x1="855.2" y1="1019.6" x2="864.2" y2="1019.6" stroke="#111" stroke-width="1.3" />
<circle cx="859.8" cy="989.7" r="3.6" fill="#111"/>
<circle cx="859.8" cy="1059.0" r="3.6" fill="#111"/>
<circle cx="859.8" cy="1157.0" r="3.6" fill="#111"/>
<rect x="872.0" y="1198.1" width="13.5" height="75.9" fill="#f2b079" />
<line x1="878.8" y1="1198.1" x2="878.8" y2="1184.4" stroke="#111" stroke-width="1.3" />
<line x1="874.2" y1="1184.4" x2="883.2" y2="1184.4" stroke="#111" stroke-width="1.3" />
<rect x="875.5" y="1172.3" width="6.6" height="6.6" fill="#111"/>
<rect x="875.5" y="1190.6" width="6.6" height="6.6" fill="#111"/>
<rect x="875.5" y="1220.9" width="6.6" height="6.6" fill="#111"/>
<rect x="891.0" y="1141.2" width="13.5" height="132.8" fill="#c8dcf4" />
<line x1="897.8" y1="1141.2" x2="897.8" y2="1098.5" stroke="#111" stroke-width="1.3" />
<line x1="893.2" y1="1098.5" x2="902.2" y2="1098.5" stroke="#111" stroke-width="1.3" />
<polygon points="897.8,1051.9 901.1,1056.1 897.8,1060.3 894.4,1056.1" fill="#111"/>
<polygon points="897.8,1168.1 901.1,1172.3 897.8,1176.5 894.4,1172.3" fill="#111"/>
<polygon points="897.8,1191.0 901.1,1195.2 897.8,1199.4 894.4,1195.2" fill="#111"/>
<rect x="943.0" y="1041.6" width="13.5" height="232.4" fill="#1399b8" />
<line x1="949.8" y1="1041.6" x2="949.8" y2="988.9" stroke="#111" stroke-width="1.3" />
<line x1="945.2" y1="988.9" x2="954.2" y2="988.9" stroke="#111" stroke-width="1.3" />
<circle cx="949.8" cy="969.8" r="3.6" fill="#111"/>
<circle cx="949.8" cy="1010.5" r="3.6" fill="#111"/>
<circle cx="949.8" cy="1144.1" r="3.6" fill="#111"/>
<rect x="962.0" y="1207.6" width="13.5" height="66.4" fill="#f2b079" />
<line x1="968.8" y1="1207.6" x2="968.8" y2="1193.9" stroke="#111" stroke-width="1.3" />
<line x1="964.2" y1="1193.9" x2="973.2" y2="1193.9" stroke="#111" stroke-width="1.3" />
<rect x="965.5" y="1190.6" width="6.6" height="6.6" fill="#111"/>
<rect x="971.5" y="1193.9" width="6.6" height="6.6" fill="#111"/>
<rect x="965.5" y="1226.3" width="6.6" height="6.6" fill="#111"/>
<rect x="981.0" y="1158.6" width="13.5" height="115.4" fill="#c8dcf4" />
<line x1="987.8" y1="1158.6" x2="987.8" y2="1112.2" stroke="#111" stroke-width="1.3" />
<line x1="983.2" y1="1112.2" x2="992.2" y2="1112.2" stroke="#111" stroke-width="1.3" />
<polygon points="987.8,1061.1 991.1,1065.3 987.8,1069.5 984.4,1065.3" fill="#111"/>
<polygon points="987.8,1199.2 991.1,1203.5 987.8,1207.7 984.4,1203.5" fill="#111"/>
<polygon points="993.8,1203.4 997.1,1207.6 993.8,1211.8 990.4,1207.6" fill="#111"/>
<rect x="1014.0" y="1017.5" width="13.5" height="256.5" fill="#1399b8" />
<line x1="1020.8" y1="1017.5" x2="1020.8" y2="957.4" stroke="#111" stroke-width="1.3" />
<line x1="1016.2" y1="957.4" x2="1025.2" y2="957.4" stroke="#111" stroke-width="1.3" />
<circle cx="1020.8" cy="947.0" r="3.6" fill="#111"/>
<circle cx="1020.8" cy="966.9" r="3.6" fill="#111"/>
<circle cx="1020.8" cy="1137.9" r="3.6" fill="#111"/>
<rect x="1033.0" y="1226.3" width="13.5" height="47.7" fill="#f2b079" />
<line x1="1039.8" y1="1226.3" x2="1039.8" y2="1215.9" stroke="#111" stroke-width="1.3" />
<line x1="1035.2" y1="1215.9" x2="1044.2" y2="1215.9" stroke="#111" stroke-width="1.3" />
<rect x="1036.5" y="1208.5" width="6.6" height="6.6" fill="#111"/>
<rect x="1036.5" y="1219.7" width="6.6" height="6.6" fill="#111"/>
<rect x="1036.5" y="1240.4" width="6.6" height="6.6" fill="#111"/>
<rect x="1052.0" y="1162.8" width="13.5" height="111.2" fill="#c8dcf4" />
<line x1="1058.8" y1="1162.8" x2="1058.8" y2="1110.1" stroke="#111" stroke-width="1.3" />
<line x1="1054.2" y1="1110.1" x2="1063.2" y2="1110.1" stroke="#111" stroke-width="1.3" />
<polygon points="1058.8,1053.2 1062.2,1057.4 1058.8,1061.6 1055.3,1057.4" fill="#111"/>
<polygon points="1058.8,1211.7 1062.2,1215.9 1058.8,1220.1 1055.3,1215.9" fill="#111"/>
<polygon points="1064.8,1211.7 1068.2,1215.9 1064.8,1220.1 1061.3,1215.9" fill="#111"/>
<rect x="1085.0" y="991.8" width="13.5" height="282.2" fill="#1399b8" />
<line x1="1091.8" y1="991.8" x2="1091.8" y2="924.6" stroke="#111" stroke-width="1.3" />
<line x1="1087.2" y1="924.6" x2="1096.2" y2="924.6" stroke="#111" stroke-width="1.3" />
<circle cx="1091.8" cy="913.8" r="3.6" fill="#111"/>
<circle cx="1091.8" cy="935.8" r="3.6" fill="#111"/>
<circle cx="1091.8" cy="1122.5" r="3.6" fill="#111"/>
<rect x="1104.0" y="1246.2" width="13.5" height="27.8" fill="#f2b079" />
<line x1="1110.8" y1="1246.2" x2="1110.8" y2="1236.7" stroke="#111" stroke-width="1.3" />
<line x1="1106.2" y1="1236.7" x2="1115.2" y2="1236.7" stroke="#111" stroke-width="1.3" />
<rect x="1107.5" y="1225.9" width="6.6" height="6.6" fill="#111"/>
<rect x="1107.5" y="1245.4" width="6.6" height="6.6" fill="#111"/>
<rect x="1107.5" y="1259.1" width="6.6" height="6.6" fill="#111"/>
<rect x="1123.0" y="1170.2" width="13.5" height="103.8" fill="#c8dcf4" />
<line x1="1129.8" y1="1170.2" x2="1129.8" y2="1113.0" stroke="#111" stroke-width="1.3" />
<line x1="1125.2" y1="1113.0" x2="1134.2" y2="1113.0" stroke="#111" stroke-width="1.3" />
<polygon points="1129.8,1051.9 1133.2,1056.1 1129.8,1060.3 1126.3,1056.1" fill="#111"/>
<polygon points="1129.8,1219.2 1133.2,1223.4 1129.8,1227.6 1126.3,1223.4" fill="#111"/>
<polygon points="1129.8,1226.2 1133.2,1230.4 1129.8,1234.6 1126.3,1230.4" fill="#111"/>
<rect x="1156.0" y="1002.2" width="13.5" height="271.8" fill="#1399b8" />
<line x1="1162.8" y1="1002.2" x2="1162.8" y2="953.6" stroke="#111" stroke-width="1.3" />
<line x1="1158.2" y1="953.6" x2="1167.2" y2="953.6" stroke="#111" stroke-width="1.3" />
<circle cx="1162.8" cy="941.2" r="3.6" fill="#111"/>
<circle cx="1162.8" cy="969.0" r="3.6" fill="#111"/>
<circle cx="1162.8" cy="1095.5" r="3.6" fill="#111"/>
<rect x="1175.0" y="1264.9" width="13.5" height="9.1" fill="#f2b079" />
<line x1="1181.8" y1="1264.9" x2="1181.8" y2="1263.6" stroke="#111" stroke-width="1.3" />
<line x1="1177.2" y1="1263.6" x2="1186.2" y2="1263.6" stroke="#111" stroke-width="1.3" />
<rect x="1178.5" y="1256.2" width="6.6" height="6.6" fill="#111"/>
<rect x="1184.5" y="1260.3" width="6.6" height="6.6" fill="#111"/>
<rect x="1178.5" y="1264.5" width="6.6" height="6.6" fill="#111"/>
<rect x="1194.0" y="1141.2" width="13.5" height="132.8" fill="#c8dcf4" />
<line x1="1200.8" y1="1141.2" x2="1200.8" y2="1095.5" stroke="#111" stroke-width="1.3" />
<line x1="1196.2" y1="1095.5" x2="1205.2" y2="1095.5" stroke="#111" stroke-width="1.3" />
<polygon points="1200.8,1047.8 1204.2,1052.0 1200.8,1056.2 1197.3,1052.0" fill="#111"/>
<polygon points="1200.8,1169.0 1204.2,1173.2 1200.8,1177.4 1197.3,1173.2" fill="#111"/>
<polygon points="1200.8,1193.9 1204.2,1198.1 1200.8,1202.3 1197.3,1198.1" fill="#111"/>
<rect x="1226.0" y="1013.4" width="13.5" height="260.6" fill="#1399b8" />
<line x1="1232.8" y1="1013.4" x2="1232.8" y2="957.8" stroke="#111" stroke-width="1.3" />
<line x1="1228.2" y1="957.8" x2="1237.2" y2="957.8" stroke="#111" stroke-width="1.3" />
<circle cx="1232.8" cy="952.4" r="3.6" fill="#111"/>
<circle cx="1232.8" cy="965.7" r="3.6" fill="#111"/>
<circle cx="1232.8" cy="1121.3" r="3.6" fill="#111"/>
<rect x="1245.0" y="1265.7" width="13.5" height="8.3" fill="#f2b079" />
<line x1="1251.8" y1="1265.7" x2="1251.8" y2="1264.9" stroke="#111" stroke-width="1.3" />
<line x1="1247.2" y1="1264.9" x2="1256.2" y2="1264.9" stroke="#111" stroke-width="1.3" />
<rect x="1248.5" y="1259.5" width="6.6" height="6.6" fill="#111"/>
<rect x="1254.5" y="1262.4" width="6.6" height="6.6" fill="#111"/>
<rect x="1260.5" y="1264.5" width="6.6" height="6.6" fill="#111"/>
<rect x="1264.0" y="1128.8" width="13.5" height="145.2" fill="#c8dcf4" />
<line x1="1270.8" y1="1128.8" x2="1270.8" y2="1075.6" stroke="#111" stroke-width="1.3" />
<line x1="1266.2" y1="1075.6" x2="1275.2" y2="1075.6" stroke="#111" stroke-width="1.3" />
<polygon points="1270.8,1019.6 1274.2,1023.8 1270.8,1028.0 1267.3,1023.8" fill="#111"/>
<polygon points="1270.8,1171.0 1274.2,1175.2 1270.8,1179.4 1267.3,1175.2" fill="#111"/>
<polygon points="1270.8,1183.9 1274.2,1188.1 1270.8,1192.3 1267.3,1188.1" fill="#111"/>
<line x1="923.0" y1="918.0" x2="923.0" y2="1272.0" stroke="#111" stroke-width="3.3" stroke-dasharray="8.5,6"/>
<line x1="846.0" y1="858.0" x2="846.0" y2="1276.0" stroke="#111" stroke-width="4" />
<line x1="837.0" y1="1274.0" x2="1287.0" y2="1274.0" stroke="#111" stroke-width="4" />
<line x1="836.0" y1="1274.0" x2="846.0" y2="1274.0" stroke="#111" stroke-width="4" />
<text x="833.0" y="1282.2" font-size="23" font-weight="bold" text-anchor="end" fill="#111" >0</text>
<line x1="836.0" y1="1191.0" x2="846.0" y2="1191.0" stroke="#111" stroke-width="4" />
<text x="833.0" y="1199.2" font-size="23" font-weight="bold" text-anchor="end" fill="#111" >20</text>
<line x1="836.0" y1="1108.0" x2="846.0" y2="1108.0" stroke="#111" stroke-width="4" />
<text x="833.0" y="1116.2" font-size="23" font-weight="bold" text-anchor="end" fill="#111" >40</text>
<line x1="836.0" y1="1025.0" x2="846.0" y2="1025.0" stroke="#111" stroke-width="4" />
<text x="833.0" y="1033.2" font-size="23" font-weight="bold" text-anchor="end" fill="#111" >60</text>
<line x1="836.0" y1="942.0" x2="846.0" y2="942.0" stroke="#111" stroke-width="4" />
<text x="833.0" y="950.2" font-size="23" font-weight="bold" text-anchor="end" fill="#111" >80</text>
<line x1="836.0" y1="859.0" x2="846.0" y2="859.0" stroke="#111" stroke-width="4" />
<text x="833.0" y="867.2" font-size="23" font-weight="bold" text-anchor="end" fill="#111" >100</text>
<line x1="888.0" y1="1274.0" x2="888.0" y2="1283.0" stroke="#111" stroke-width="4" />
<text x="0" y="0" font-size="23.5" letter-spacing="0.8" font-weight="bold" text-anchor="end" fill="#111" transform="translate(898.0,1294.0) rotate(-68)">0 nM</text>
<line x1="968.5" y1="1274.0" x2="968.5" y2="1283.0" stroke="#111" stroke-width="4" />
<text x="0" y="0" font-size="23.5" letter-spacing="0.8" font-weight="bold" text-anchor="end" fill="#111" transform="translate(978.5,1294.0) rotate(-68)">10 nM</text>
<line x1="1039.5" y1="1274.0" x2="1039.5" y2="1283.0" stroke="#111" stroke-width="4" />
<text x="0" y="0" font-size="23.5" letter-spacing="0.8" font-weight="bold" text-anchor="end" fill="#111" transform="translate(1049.5,1294.0) rotate(-68)">50 nM</text>
<line x1="1110.5" y1="1274.0" x2="1110.5" y2="1283.0" stroke="#111" stroke-width="4" />
<text x="0" y="0" font-size="23.5" letter-spacing="0.8" font-weight="bold" text-anchor="end" fill="#111" transform="translate(1120.5,1294.0) rotate(-68)">100 nM</text>
<line x1="1181.5" y1="1274.0" x2="1181.5" y2="1283.0" stroke="#111" stroke-width="4" />
<text x="0" y="0" font-size="23.5" letter-spacing="0.8" font-weight="bold" text-anchor="end" fill="#111" transform="translate(1191.5,1294.0) rotate(-68)">500 nM</text>
<line x1="1251.5" y1="1274.0" x2="1251.5" y2="1283.0" stroke="#111" stroke-width="4" />
<text x="0" y="0" font-size="23.5" letter-spacing="0.8" font-weight="bold" text-anchor="end" fill="#111" transform="translate(1261.5,1294.0) rotate(-68)">1000 nM</text>
<rect x="777.0" y="802.0" width="153.0" height="34.0" fill="#1399b8" />
<text x="853.5" y="826.1" font-size="20" font-weight="normal" text-anchor="middle" fill="#fff" >NS4A-2K-NS4B</text>
<line x1="931.0" y1="820.0" x2="939.5" y2="820.0" stroke="#1b8fae" stroke-width="3.4" />
<line x1="965.0" y1="820.0" x2="973.2" y2="820.0" stroke="#1b8fae" stroke-width="3.4" />
<line x1="979.0" y1="820.0" x2="987.2" y2="820.0" stroke="#1b8fae" stroke-width="3.4" />
<line x1="993.0" y1="820.0" x2="1001.2" y2="820.0" stroke="#1b8fae" stroke-width="3.4" />
<line x1="1037.0" y1="820.0" x2="1045.2" y2="820.0" stroke="#1b8fae" stroke-width="3.4" />
<line x1="1051.0" y1="820.0" x2="1059.2" y2="820.0" stroke="#1b8fae" stroke-width="3.4" />
<line x1="1065.0" y1="820.0" x2="1073.2" y2="820.0" stroke="#1b8fae" stroke-width="3.4" />
<line x1="1108.0" y1="820.0" x2="1116.2" y2="820.0" stroke="#1b8fae" stroke-width="3.4" />
<line x1="1122.0" y1="820.0" x2="1130.2" y2="820.0" stroke="#1b8fae" stroke-width="3.4" />
<line x1="1136.0" y1="820.0" x2="1144.2" y2="820.0" stroke="#1b8fae" stroke-width="3.4" />
<line x1="1185.0" y1="820.0" x2="1193.2" y2="820.0" stroke="#1b8fae" stroke-width="3.4" />
<line x1="1199.0" y1="820.0" x2="1207.2" y2="820.0" stroke="#1b8fae" stroke-width="3.4" />
<line x1="1213.0" y1="820.0" x2="1221.2" y2="820.0" stroke="#1b8fae" stroke-width="3.4" />
<text x="0" y="5.9" font-size="17" font-weight="normal" text-anchor="middle" fill="#111" transform="translate(953.0,820.0) rotate(-45)" >ns</text>
<text x="0" y="5.9" font-size="17" font-weight="normal" text-anchor="middle" fill="#111" transform="translate(1022.0,820.0) rotate(-45)" >0.021</text>
<text x="0" y="5.9" font-size="17" font-weight="normal" text-anchor="middle" fill="#111" transform="translate(1097.0,820.0) rotate(-45)" >0.0012</text>
<text x="0" y="5.9" font-size="17" font-weight="normal" text-anchor="middle" fill="#111" transform="translate(1167.0,820.0) rotate(-45)" >0.0036</text>
<text x="0" y="5.9" font-size="17" font-weight="normal" text-anchor="middle" fill="#111" transform="translate(1241.0,820.0) rotate(-45)" >0.013</text>
<rect x="856.0" y="841.0" width="96.0" height="34.0" fill="#f2b079" />
<text x="904.0" y="865.1" font-size="20" font-weight="normal" text-anchor="middle" fill="#111" >2K-NS4B</text>
<line x1="953.0" y1="856.0" x2="961.5" y2="856.0" stroke="#eea868" stroke-width="3.4" />
<line x1="985.0" y1="856.0" x2="993.2" y2="856.0" stroke="#eea868" stroke-width="3.4" />
<line x1="999.0" y1="856.0" x2="1007.2" y2="856.0" stroke="#eea868" stroke-width="3.4" />
<line x1="1013.0" y1="856.0" x2="1021.2" y2="856.0" stroke="#eea868" stroke-width="3.4" />
<line x1="1063.0" y1="856.0" x2="1071.2" y2="856.0" stroke="#eea868" stroke-width="3.4" />
<line x1="1077.0" y1="856.0" x2="1085.2" y2="856.0" stroke="#eea868" stroke-width="3.4" />
<line x1="1091.0" y1="856.0" x2="1099.2" y2="856.0" stroke="#eea868" stroke-width="3.4" />
<line x1="1139.0" y1="856.0" x2="1147.2" y2="856.0" stroke="#eea868" stroke-width="3.4" />
<line x1="1153.0" y1="856.0" x2="1161.2" y2="856.0" stroke="#eea868" stroke-width="3.4" />
<line x1="1167.0" y1="856.0" x2="1175.2" y2="856.0" stroke="#eea868" stroke-width="3.4" />
<line x1="1214.0" y1="856.0" x2="1222.2" y2="856.0" stroke="#eea868" stroke-width="3.4" />
<line x1="1228.0" y1="856.0" x2="1236.2" y2="856.0" stroke="#eea868" stroke-width="3.4" />
<line x1="1242.0" y1="856.0" x2="1250.2" y2="856.0" stroke="#eea868" stroke-width="3.4" />
<text x="0" y="5.9" font-size="17" font-weight="normal" text-anchor="middle" fill="#111" transform="translate(973.0,856.0) rotate(-45)" >ns</text>
<text x="0" y="5.9" font-size="17" font-weight="normal" text-anchor="middle" fill="#111" transform="translate(1047.0,856.0) rotate(-45)" >0.031</text>
<text x="0" y="5.9" font-size="17" font-weight="normal" text-anchor="middle" fill="#111" transform="translate(1122.0,856.0) rotate(-45)" >0.0010</text>
<text x="0" y="5.9" font-size="17" font-weight="normal" text-anchor="middle" fill="#111" transform="translate(1197.0,856.0) rotate(-45)" >0.019</text>
<text x="0" y="5.9" font-size="17" font-weight="normal" text-anchor="middle" fill="#111" transform="translate(1269.0,856.0) rotate(-45)" >&lt;0.0001</text>
<rect x="908.0" y="883.0" width="64.0" height="33.0" fill="#c8dcf4" />
<text x="940.0" y="906.6" font-size="20" font-weight="normal" text-anchor="middle" fill="#111" >NS4B</text>
<line x1="973.0" y1="899.0" x2="981.5" y2="899.0" stroke="#c3d4ec" stroke-width="3.4" />
<line x1="1007.0" y1="899.0" x2="1015.2" y2="899.0" stroke="#c3d4ec" stroke-width="3.4" />
<line x1="1021.0" y1="899.0" x2="1029.2" y2="899.0" stroke="#c3d4ec" stroke-width="3.4" />
<line x1="1035.0" y1="899.0" x2="1043.2" y2="899.0" stroke="#c3d4ec" stroke-width="3.4" />
<line x1="1078.0" y1="899.0" x2="1086.2" y2="899.0" stroke="#c3d4ec" stroke-width="3.4" />
<line x1="1092.0" y1="899.0" x2="1100.2" y2="899.0" stroke="#c3d4ec" stroke-width="3.4" />
<line x1="1106.0" y1="899.0" x2="1114.2" y2="899.0" stroke="#c3d4ec" stroke-width="3.4" />
<line x1="1149.0" y1="899.0" x2="1157.2" y2="899.0" stroke="#c3d4ec" stroke-width="3.4" />
<line x1="1163.0" y1="899.0" x2="1171.2" y2="899.0" stroke="#c3d4ec" stroke-width="3.4" />
<line x1="1177.0" y1="899.0" x2="1185.2" y2="899.0" stroke="#c3d4ec" stroke-width="3.4" />
<line x1="1226.0" y1="899.0" x2="1234.2" y2="899.0" stroke="#c3d4ec" stroke-width="3.4" />
<line x1="1240.0" y1="899.0" x2="1248.2" y2="899.0" stroke="#c3d4ec" stroke-width="3.4" />
<line x1="1254.0" y1="899.0" x2="1262.2" y2="899.0" stroke="#c3d4ec" stroke-width="3.4" />
<text x="0" y="5.9" font-size="17" font-weight="normal" text-anchor="middle" fill="#111" transform="translate(994.0,899.0) rotate(-45)" >ns</text>
<text x="0" y="5.9" font-size="17" font-weight="normal" text-anchor="middle" fill="#111" transform="translate(1064.0,899.0) rotate(-45)" >ns</text>
<text x="0" y="5.9" font-size="17" font-weight="normal" text-anchor="middle" fill="#111" transform="translate(1136.0,899.0) rotate(-45)" >0.035</text>
<text x="0" y="5.9" font-size="17" font-weight="normal" text-anchor="middle" fill="#111" transform="translate(1207.0,899.0) rotate(-45)" >ns</text>
<text x="0" y="5.9" font-size="17" font-weight="normal" text-anchor="middle" fill="#111" transform="translate(1281.5,899.0) rotate(-45)" >ns</text>
<text x="1296" y="719.5" font-size="27" font-weight="bold" fill="#111">f</text>
<text x="1630.0" y="790.6" font-size="30" font-weight="bold" text-anchor="middle" fill="#111" >NS4B L94F (Input)</text>
<text x="0" y="0.0" font-size="27.5" font-weight="bold" text-anchor="middle" fill="#111" transform="translate(1354.0,1065.0) rotate(-90)" >Proportion of NS4B species</text>
<rect x="1420.0" y="1098.5" width="13.5" height="175.5" fill="#1399b8" />
<line x1="1426.8" y1="1098.5" x2="1426.8" y2="1056.1" stroke="#111" stroke-width="1.3" />
<line x1="1422.2" y1="1056.1" x2="1431.2" y2="1056.1" stroke="#111" stroke-width="1.3" />
<circle cx="1426.8" cy="1037.5" r="3.6" fill="#111"/>
<circle cx="1426.8" cy="1095.5" r="3.6" fill="#111"/>
<circle cx="1426.8" cy="1145.3" r="3.6" fill="#111"/>
<rect x="1439.0" y="1182.7" width="13.5" height="91.3" fill="#f2b079" />
<line x1="1445.8" y1="1182.7" x2="1445.8" y2="1172.3" stroke="#111" stroke-width="1.3" />
<line x1="1441.2" y1="1172.3" x2="1450.2" y2="1172.3" stroke="#111" stroke-width="1.3" />
<rect x="1442.5" y="1162.8" width="6.6" height="6.6" fill="#111"/>
<rect x="1442.5" y="1179.4" width="6.6" height="6.6" fill="#111"/>
<rect x="1442.5" y="1198.1" width="6.6" height="6.6" fill="#111"/>
<rect x="1458.0" y="1124.6" width="13.5" height="149.4" fill="#c8dcf4" />
<line x1="1464.8" y1="1124.6" x2="1464.8" y2="1083.1" stroke="#111" stroke-width="1.3" />
<line x1="1460.2" y1="1083.1" x2="1469.2" y2="1083.1" stroke="#111" stroke-width="1.3" />
<polygon points="1464.8,1039.5 1468.2,1043.7 1464.8,1047.9 1461.3,1043.7" fill="#111"/>
<polygon points="1464.8,1118.3 1468.2,1122.5 1464.8,1126.7 1461.3,1122.5" fill="#111"/>
<polygon points="1464.8,1145.3 1468.2,1149.5 1464.8,1153.7 1461.3,1149.5" fill="#111"/>
<rect x="1510.0" y="1039.5" width="13.5" height="234.5" fill="#1399b8" />
<line x1="1516.8" y1="1039.5" x2="1516.8" y2="991.0" stroke="#111" stroke-width="1.3" />
<line x1="1512.2" y1="991.0" x2="1521.2" y2="991.0" stroke="#111" stroke-width="1.3" />
<circle cx="1516.8" cy="981.4" r="3.6" fill="#111"/>
<circle cx="1516.8" cy="1000.1" r="3.6" fill="#111"/>
<circle cx="1516.8" cy="1124.6" r="3.6" fill="#111"/>
<rect x="1529.0" y="1207.6" width="13.5" height="66.4" fill="#f2b079" />
<line x1="1535.8" y1="1207.6" x2="1535.8" y2="1199.3" stroke="#111" stroke-width="1.3" />
<line x1="1531.2" y1="1199.3" x2="1540.2" y2="1199.3" stroke="#111" stroke-width="1.3" />
<rect x="1532.5" y="1198.1" width="6.6" height="6.6" fill="#111"/>
<rect x="1532.5" y="1204.3" width="6.6" height="6.6" fill="#111"/>
<rect x="1532.5" y="1211.4" width="6.6" height="6.6" fill="#111"/>
<rect x="1548.0" y="1159.9" width="13.5" height="114.1" fill="#c8dcf4" />
<line x1="1554.8" y1="1159.9" x2="1554.8" y2="1115.1" stroke="#111" stroke-width="1.3" />
<line x1="1550.2" y1="1115.1" x2="1559.2" y2="1115.1" stroke="#111" stroke-width="1.3" />
<polygon points="1554.8,1068.5 1558.2,1072.7 1554.8,1076.9 1551.3,1072.7" fill="#111"/>
<polygon points="1554.8,1186.8 1558.2,1191.0 1554.8,1195.2 1551.3,1191.0" fill="#111"/>
<polygon points="1554.8,1211.7 1558.2,1215.9 1554.8,1220.1 1551.3,1215.9" fill="#111"/>
<rect x="1581.0" y="1000.1" width="13.5" height="273.9" fill="#1399b8" />
<line x1="1587.8" y1="1000.1" x2="1587.8" y2="944.1" stroke="#111" stroke-width="1.3" />
<line x1="1583.2" y1="944.1" x2="1592.2" y2="944.1" stroke="#111" stroke-width="1.3" />
<circle cx="1587.8" cy="937.0" r="3.6" fill="#111"/>
<circle cx="1587.8" cy="953.2" r="3.6" fill="#111"/>
<circle cx="1587.8" cy="1117.1" r="3.6" fill="#111"/>
<rect x="1600.0" y="1224.2" width="13.5" height="49.8" fill="#f2b079" />
<line x1="1606.8" y1="1224.2" x2="1606.8" y2="1207.6" stroke="#111" stroke-width="1.3" />
<line x1="1602.2" y1="1207.6" x2="1611.2" y2="1207.6" stroke="#111" stroke-width="1.3" />
<rect x="1603.5" y="1204.3" width="6.6" height="6.6" fill="#111"/>
<rect x="1603.5" y="1220.9" width="6.6" height="6.6" fill="#111"/>
<rect x="1603.5" y="1238.3" width="6.6" height="6.6" fill="#111"/>
<rect x="1619.0" y="1182.7" width="13.5" height="91.3" fill="#c8dcf4" />
<line x1="1625.8" y1="1182.7" x2="1625.8" y2="1142.0" stroke="#111" stroke-width="1.3" />
<line x1="1621.2" y1="1142.0" x2="1630.2" y2="1142.0" stroke="#111" stroke-width="1.3" />
<polygon points="1625.8,1095.5 1629.2,1099.7 1625.8,1103.9 1622.3,1099.7" fill="#111"/>
<polygon points="1625.8,1210.5 1629.2,1214.7 1625.8,1218.9 1622.3,1214.7" fill="#111"/>
<polygon points="1625.8,1226.2 1629.2,1230.4 1625.8,1234.6 1622.3,1230.4" fill="#111"/>
<rect x="1652.0" y="996.0" width="13.5" height="278.0" fill="#1399b8" />
<line x1="1658.8" y1="996.0" x2="1658.8" y2="931.6" stroke="#111" stroke-width="1.3" />
<line x1="1654.2" y1="931.6" x2="1663.2" y2="931.6" stroke="#111" stroke-width="1.3" />
<circle cx="1658.8" cy="909.6" r="3.6" fill="#111"/>
<circle cx="1658.8" cy="955.3" r="3.6" fill="#111"/>
<circle cx="1658.8" cy="1120.5" r="3.6" fill="#111"/>
<rect x="1671.0" y="1236.7" width="13.5" height="37.3" fill="#f2b079" />
<line x1="1677.8" y1="1236.7" x2="1677.8" y2="1224.2" stroke="#111" stroke-width="1.3" />
<line x1="1673.2" y1="1224.2" x2="1682.2" y2="1224.2" stroke="#111" stroke-width="1.3" />
<rect x="1674.5" y="1220.9" width="6.6" height="6.6" fill="#111"/>
<rect x="1674.5" y="1234.6" width="6.6" height="6.6" fill="#111"/>
<rect x="1674.5" y="1254.1" width="6.6" height="6.6" fill="#111"/>
<rect x="1690.0" y="1174.4" width="13.5" height="99.6" fill="#c8dcf4" />
<line x1="1696.8" y1="1174.4" x2="1696.8" y2="1124.6" stroke="#111" stroke-width="1.3" />
<line x1="1692.2" y1="1124.6" x2="1701.2" y2="1124.6" stroke="#111" stroke-width="1.3" />
<polygon points="1696.8,1070.6 1700.2,1074.8 1696.8,1079.0 1693.3,1074.8" fill="#111"/>
<polygon points="1696.8,1213.8 1700.2,1218.0 1696.8,1222.2 1693.3,1218.0" fill="#111"/>
<polygon points="1696.8,1226.2 1700.2,1230.4 1696.8,1234.6 1693.3,1230.4" fill="#111"/>
<rect x="1723.0" y="991.8" width="13.5" height="282.2" fill="#1399b8" />
<line x1="1729.8" y1="991.8" x2="1729.8" y2="954.5" stroke="#111" stroke-width="1.3" />
<line x1="1725.2" y1="954.5" x2="1734.2" y2="954.5" stroke="#111" stroke-width="1.3" />
<circle cx="1729.8" cy="949.5" r="3.6" fill="#111"/>
<circle cx="1729.8" cy="960.7" r="3.6" fill="#111"/>
<circle cx="1729.8" cy="1062.3" r="3.6" fill="#111"/>
<rect x="1742.0" y="1257.4" width="13.5" height="16.6" fill="#f2b079" />
<line x1="1748.8" y1="1257.4" x2="1748.8" y2="1251.2" stroke="#111" stroke-width="1.3" />
<line x1="1744.2" y1="1251.2" x2="1753.2" y2="1251.2" stroke="#111" stroke-width="1.3" />
<rect x="1745.5" y="1247.9" width="6.6" height="6.6" fill="#111"/>
<rect x="1745.5" y="1254.9" width="6.6" height="6.6" fill="#111"/>
<rect x="1751.5" y="1259.1" width="6.6" height="6.6" fill="#111"/>
<rect x="1761.0" y="1157.8" width="13.5" height="116.2" fill="#c8dcf4" />
<line x1="1767.8" y1="1157.8" x2="1767.8" y2="1124.6" stroke="#111" stroke-width="1.3" />
<line x1="1763.2" y1="1124.6" x2="1772.2" y2="1124.6" stroke="#111" stroke-width="1.3" />
<polygon points="1767.8,1089.3 1771.2,1093.5 1767.8,1097.7 1764.3,1093.5" fill="#111"/>
<polygon points="1767.8,1178.5 1771.2,1182.7 1767.8,1186.9 1764.3,1182.7" fill="#111"/>
<polygon points="1773.8,1178.5 1777.2,1182.7 1773.8,1186.9 1770.3,1182.7" fill="#111"/>
<rect x="1793.0" y="1004.2" width="13.5" height="269.8" fill="#1399b8" />
<line x1="1799.8" y1="1004.2" x2="1799.8" y2="957.4" stroke="#111" stroke-width="1.3" />
<line x1="1795.2" y1="957.4" x2="1804.2" y2="957.4" stroke="#111" stroke-width="1.3" />
<circle cx="1799.8" cy="950.3" r="3.6" fill="#111"/>
<circle cx="1799.8" cy="965.7" r="3.6" fill="#111"/>
<circle cx="1799.8" cy="1095.5" r="3.6" fill="#111"/>
<rect x="1812.0" y="1263.6" width="13.5" height="10.4" fill="#f2b079" />
<line x1="1818.8" y1="1263.6" x2="1818.8" y2="1261.5" stroke="#111" stroke-width="1.3" />
<line x1="1814.2" y1="1261.5" x2="1823.2" y2="1261.5" stroke="#111" stroke-width="1.3" />
<rect x="1815.5" y="1258.2" width="6.6" height="6.6" fill="#111"/>
<rect x="1821.5" y="1260.3" width="6.6" height="6.6" fill="#111"/>
<rect x="1827.5" y="1261.6" width="6.6" height="6.6" fill="#111"/>
<rect x="1831.0" y="1141.2" width="13.5" height="132.8" fill="#c8dcf4" />
<line x1="1837.8" y1="1141.2" x2="1837.8" y2="1094.7" stroke="#111" stroke-width="1.3" />
<line x1="1833.2" y1="1094.7" x2="1842.2" y2="1094.7" stroke="#111" stroke-width="1.3" />
<polygon points="1837.8,1045.7 1841.2,1049.9 1837.8,1054.1 1834.3,1049.9" fill="#111"/>
<polygon points="1837.8,1172.3 1841.2,1176.5 1837.8,1180.7 1834.3,1176.5" fill="#111"/>
<polygon points="1837.8,1184.7 1841.2,1188.9 1837.8,1193.1 1834.3,1188.9" fill="#111"/>
<line x1="1489.0" y1="921.0" x2="1489.0" y2="1272.0" stroke="#111" stroke-width="3.3" stroke-dasharray="8.5,6"/>
<line x1="1413.0" y1="858.0" x2="1413.0" y2="1276.0" stroke="#111" stroke-width="4" />
<line x1="1404.0" y1="1274.0" x2="1853.0" y2="1274.0" stroke="#111" stroke-width="4" />
<line x1="1403.0" y1="1274.0" x2="1413.0" y2="1274.0" stroke="#111" stroke-width="4" />
<text x="1400.0" y="1282.2" font-size="23" font-weight="bold" text-anchor="end" fill="#111" >0</text>
<line x1="1403.0" y1="1191.0" x2="1413.0" y2="1191.0" stroke="#111" stroke-width="4" />
<text x="1400.0" y="1199.2" font-size="23" font-weight="bold" text-anchor="end" fill="#111" >20</text>
<line x1="1403.0" y1="1108.0" x2="1413.0" y2="1108.0" stroke="#111" stroke-width="4" />
<text x="1400.0" y="1116.2" font-size="23" font-weight="bold" text-anchor="end" fill="#111" >40</text>
<line x1="1403.0" y1="1025.0" x2="1413.0" y2="1025.0" stroke="#111" stroke-width="4" />
<text x="1400.0" y="1033.2" font-size="23" font-weight="bold" text-anchor="end" fill="#111" >60</text>
<line x1="1403.0" y1="942.0" x2="1413.0" y2="942.0" stroke="#111" stroke-width="4" />
<text x="1400.0" y="950.2" font-size="23" font-weight="bold" text-anchor="end" fill="#111" >80</text>
<line x1="1403.0" y1="859.0" x2="1413.0" y2="859.0" stroke="#111" stroke-width="4" />
<text x="1400.0" y="867.2" font-size="23" font-weight="bold" text-anchor="end" fill="#111" >100</text>
<line x1="1455.0" y1="1274.0" x2="1455.0" y2="1283.0" stroke="#111" stroke-width="4" />
<text x="0" y="0" font-size="23.5" letter-spacing="0.8" font-weight="bold" text-anchor="end" fill="#111" transform="translate(1465.0,1294.0) rotate(-68)">0 nM</text>
<line x1="1535.5" y1="1274.0" x2="1535.5" y2="1283.0" stroke="#111" stroke-width="4" />
<text x="0" y="0" font-size="23.5" letter-spacing="0.8" font-weight="bold" text-anchor="end" fill="#111" transform="translate(1545.5,1294.0) rotate(-68)">10 nM</text>
<line x1="1606.5" y1="1274.0" x2="1606.5" y2="1283.0" stroke="#111" stroke-width="4" />
<text x="0" y="0" font-size="23.5" letter-spacing="0.8" font-weight="bold" text-anchor="end" fill="#111" transform="translate(1616.5,1294.0) rotate(-68)">50 nM</text>
<line x1="1677.5" y1="1274.0" x2="1677.5" y2="1283.0" stroke="#111" stroke-width="4" />
<text x="0" y="0" font-size="23.5" letter-spacing="0.8" font-weight="bold" text-anchor="end" fill="#111" transform="translate(1687.5,1294.0) rotate(-68)">100 nM</text>
<line x1="1748.5" y1="1274.0" x2="1748.5" y2="1283.0" stroke="#111" stroke-width="4" />
<text x="0" y="0" font-size="23.5" letter-spacing="0.8" font-weight="bold" text-anchor="end" fill="#111" transform="translate(1758.5,1294.0) rotate(-68)">500 nM</text>
<line x1="1818.5" y1="1274.0" x2="1818.5" y2="1283.0" stroke="#111" stroke-width="4" />
<text x="0" y="0" font-size="23.5" letter-spacing="0.8" font-weight="bold" text-anchor="end" fill="#111" transform="translate(1828.5,1294.0) rotate(-68)">1000 nM</text>
<rect x="1341.0" y="804.0" width="154.0" height="34.0" fill="#1399b8" />
<text x="1418.0" y="828.1" font-size="20" font-weight="normal" text-anchor="middle" fill="#fff" >NS4A-2K-NS4B</text>
<line x1="1496.0" y1="821.0" x2="1504.5" y2="821.0" stroke="#1b8fae" stroke-width="3.4" />
<line x1="1532.0" y1="821.0" x2="1540.2" y2="821.0" stroke="#1b8fae" stroke-width="3.4" />
<line x1="1546.0" y1="821.0" x2="1554.2" y2="821.0" stroke="#1b8fae" stroke-width="3.4" />
<line x1="1560.0" y1="821.0" x2="1568.2" y2="821.0" stroke="#1b8fae" stroke-width="3.4" />
<line x1="1604.0" y1="821.0" x2="1612.2" y2="821.0" stroke="#1b8fae" stroke-width="3.4" />
<line x1="1618.0" y1="821.0" x2="1626.2" y2="821.0" stroke="#1b8fae" stroke-width="3.4" />
<line x1="1632.0" y1="821.0" x2="1640.2" y2="821.0" stroke="#1b8fae" stroke-width="3.4" />
<line x1="1675.0" y1="821.0" x2="1683.2" y2="821.0" stroke="#1b8fae" stroke-width="3.4" />
<line x1="1689.0" y1="821.0" x2="1697.2" y2="821.0" stroke="#1b8fae" stroke-width="3.4" />
<line x1="1703.0" y1="821.0" x2="1711.2" y2="821.0" stroke="#1b8fae" stroke-width="3.4" />
<line x1="1752.0" y1="821.0" x2="1760.2" y2="821.0" stroke="#1b8fae" stroke-width="3.4" />
<line x1="1766.0" y1="821.0" x2="1774.2" y2="821.0" stroke="#1b8fae" stroke-width="3.4" />
<line x1="1780.0" y1="821.0" x2="1788.2" y2="821.0" stroke="#1b8fae" stroke-width="3.4" />
<text x="0" y="5.9" font-size="17" font-weight="normal" text-anchor="middle" fill="#111" transform="translate(1520.0,821.0) rotate(-45)" >0.020</text>
<text x="0" y="5.9" font-size="17" font-weight="normal" text-anchor="middle" fill="#111" transform="translate(1589.0,821.0) rotate(-45)" >0.0006</text>
<text x="0" y="5.9" font-size="17" font-weight="normal" text-anchor="middle" fill="#111" transform="translate(1664.0,821.0) rotate(-45)" >0.0005</text>
<text x="0" y="5.9" font-size="17" font-weight="normal" text-anchor="middle" fill="#111" transform="translate(1734.0,821.0) rotate(-45)" >0.0004</text>
<text x="0" y="5.9" font-size="17" font-weight="normal" text-anchor="middle" fill="#111" transform="translate(1808.0,821.0) rotate(-45)" >0.0009</text>
<rect x="1423.0" y="842.0" width="94.0" height="34.0" fill="#f2b079" />
<text x="1470.0" y="866.1" font-size="20" font-weight="normal" text-anchor="middle" fill="#111" >2K-NS4B</text>
<line x1="1518.0" y1="856.0" x2="1526.5" y2="856.0" stroke="#eea868" stroke-width="3.4" />
<line x1="1552.0" y1="856.0" x2="1560.2" y2="856.0" stroke="#eea868" stroke-width="3.4" />
<line x1="1566.0" y1="856.0" x2="1574.2" y2="856.0" stroke="#eea868" stroke-width="3.4" />
<line x1="1580.0" y1="856.0" x2="1588.2" y2="856.0" stroke="#eea868" stroke-width="3.4" />
<line x1="1630.0" y1="856.0" x2="1638.2" y2="856.0" stroke="#eea868" stroke-width="3.4" />
<line x1="1644.0" y1="856.0" x2="1652.2" y2="856.0" stroke="#eea868" stroke-width="3.4" />
<line x1="1658.0" y1="856.0" x2="1666.2" y2="856.0" stroke="#eea868" stroke-width="3.4" />
<line x1="1706.0" y1="856.0" x2="1714.2" y2="856.0" stroke="#eea868" stroke-width="3.4" />
<line x1="1720.0" y1="856.0" x2="1728.2" y2="856.0" stroke="#eea868" stroke-width="3.4" />
<line x1="1734.0" y1="856.0" x2="1742.2" y2="856.0" stroke="#eea868" stroke-width="3.4" />
<line x1="1781.0" y1="856.0" x2="1789.2" y2="856.0" stroke="#eea868" stroke-width="3.4" />
<line x1="1795.0" y1="856.0" x2="1803.2" y2="856.0" stroke="#eea868" stroke-width="3.4" />
<line x1="1809.0" y1="856.0" x2="1817.2" y2="856.0" stroke="#eea868" stroke-width="3.4" />
<text x="0" y="5.9" font-size="17" font-weight="normal" text-anchor="middle" fill="#111" transform="translate(1540.0,856.0) rotate(-45)" >ns</text>
<text x="0" y="5.9" font-size="17" font-weight="normal" text-anchor="middle" fill="#111" transform="translate(1614.0,856.0) rotate(-45)" >0.012</text>
<text x="0" y="5.9" font-size="17" font-weight="normal" text-anchor="middle" fill="#111" transform="translate(1689.0,856.0) rotate(-45)" >0.0017</text>
<text x="0" y="5.9" font-size="17" font-weight="normal" text-anchor="middle" fill="#111" transform="translate(1764.0,856.0) rotate(-45)" >0.0002</text>
<text x="0" y="5.9" font-size="17" font-weight="normal" text-anchor="middle" fill="#111" transform="translate(1836.0,856.0) rotate(-45)" >&lt;0.0001</text>
<rect x="1475.0" y="885.0" width="64.0" height="34.0" fill="#c8dcf4" />
<text x="1507.0" y="909.1" font-size="20" font-weight="normal" text-anchor="middle" fill="#111" >NS4B</text>
<line x1="1540.0" y1="900.0" x2="1548.5" y2="900.0" stroke="#c3d4ec" stroke-width="3.4" />
<line x1="1574.0" y1="900.0" x2="1582.2" y2="900.0" stroke="#c3d4ec" stroke-width="3.4" />
<line x1="1588.0" y1="900.0" x2="1596.2" y2="900.0" stroke="#c3d4ec" stroke-width="3.4" />
<line x1="1602.0" y1="900.0" x2="1610.2" y2="900.0" stroke="#c3d4ec" stroke-width="3.4" />
<line x1="1645.0" y1="900.0" x2="1653.2" y2="900.0" stroke="#c3d4ec" stroke-width="3.4" />
<line x1="1659.0" y1="900.0" x2="1667.2" y2="900.0" stroke="#c3d4ec" stroke-width="3.4" />
<line x1="1673.0" y1="900.0" x2="1681.2" y2="900.0" stroke="#c3d4ec" stroke-width="3.4" />
<line x1="1716.0" y1="900.0" x2="1724.2" y2="900.0" stroke="#c3d4ec" stroke-width="3.4" />
<line x1="1730.0" y1="900.0" x2="1738.2" y2="900.0" stroke="#c3d4ec" stroke-width="3.4" />
<line x1="1744.0" y1="900.0" x2="1752.2" y2="900.0" stroke="#c3d4ec" stroke-width="3.4" />
<line x1="1793.0" y1="900.0" x2="1801.2" y2="900.0" stroke="#c3d4ec" stroke-width="3.4" />
<line x1="1807.0" y1="900.0" x2="1815.2" y2="900.0" stroke="#c3d4ec" stroke-width="3.4" />
<line x1="1821.0" y1="900.0" x2="1829.2" y2="900.0" stroke="#c3d4ec" stroke-width="3.4" />
<text x="0" y="5.9" font-size="17" font-weight="normal" text-anchor="middle" fill="#111" transform="translate(1561.0,900.0) rotate(-45)" >0.048</text>
<text x="0" y="5.9" font-size="17" font-weight="normal" text-anchor="middle" fill="#111" transform="translate(1631.0,900.0) rotate(-45)" >0.0018</text>
<text x="0" y="5.9" font-size="17" font-weight="normal" text-anchor="middle" fill="#111" transform="translate(1703.0,900.0) rotate(-45)" >0.0062</text>
<text x="0" y="5.9" font-size="17" font-weight="normal" text-anchor="middle" fill="#111" transform="translate(1774.0,900.0) rotate(-45)" >ns</text>
<text x="0" y="5.9" font-size="17" font-weight="normal" text-anchor="middle" fill="#111" transform="translate(1848.5,900.0) rotate(-45)" >ns</text>
<text x="1.5" y="1446.0" font-size="28" font-weight="bold" text-anchor="start" fill="#111" >g</text>
<line x1="42.0" y1="1472.0" x2="828.0" y2="1472.0" stroke="#111" stroke-width="3" />
<line x1="45.0" y1="1570.0" x2="824.0" y2="1570.0" stroke="#111" stroke-width="3" />
<line x1="42.0" y1="1844.0" x2="828.0" y2="1844.0" stroke="#111" stroke-width="3" />
<text x="126.0" y="1533.3" font-size="29" font-weight="bold" text-anchor="middle" fill="#111" >NS4B</text>
<text x="360.0" y="1515.3" font-size="29" font-weight="bold" text-anchor="middle" fill="#111" >EC<tspan font-size="19" dy="6">50</tspan><tspan dy="-6"> NS3/NS4B</tspan></text>
<text x="360.0" y="1551.3" font-size="29" font-weight="bold" text-anchor="middle" fill="#111" >interaction  [µM]</text>
<text x="667.0" y="1515.3" font-size="29" font-weight="bold" text-anchor="middle" fill="#111" >EC<tspan font-size="19" dy="6">50</tspan><tspan dy="-6"> 2K-NS4B</tspan></text>
<text x="667.0" y="1551.3" font-size="29" font-weight="bold" text-anchor="middle" fill="#111" >decrease  [µM]</text>
<text x="126.0" y="1627.3" font-size="29" font-weight="normal" text-anchor="middle" fill="#111" >WT</text>
<text x="359.0" y="1627.3" font-size="29" font-weight="normal" text-anchor="middle" fill="#111" >0.0013 ±&#160; 0.00030</text>
<text x="668.0" y="1627.3" font-size="29" font-weight="normal" text-anchor="middle" fill="#111" >0.0017  ± 0.0012</text>
<text x="126.0" y="1703.3" font-size="29" font-weight="normal" text-anchor="middle" fill="#111" >V91A</text>
<text x="359.0" y="1703.3" font-size="29" font-weight="normal" text-anchor="middle" fill="#111" >0.13 ± 0.035</text>
<text x="668.0" y="1703.3" font-size="29" font-weight="normal" text-anchor="middle" fill="#111" >0.078  ± 0.028</text>
<text x="126.0" y="1763.3" font-size="29" font-weight="normal" text-anchor="middle" fill="#111" >L94F</text>
<text x="359.0" y="1763.3" font-size="29" font-weight="normal" text-anchor="middle" fill="#111" >0.17 ± 0.082</text>
<text x="668.0" y="1763.3" font-size="29" font-weight="normal" text-anchor="middle" fill="#111" >0.11  ± 0.079</text>
<text x="126.0" y="1825.3" font-size="29" font-weight="normal" text-anchor="middle" fill="#111" >T108I</text>
<text x="359.0" y="1825.3" font-size="29" font-weight="normal" text-anchor="middle" fill="#111" >0.032 ± 0.0098</text>
<text x="668.0" y="1825.3" font-size="29" font-weight="normal" text-anchor="middle" fill="#111" >0.011  ± 0.0048</text>
<text x="916.0" y="1446.0" font-size="27" font-weight="bold" text-anchor="start" fill="#111" >h</text>
<text x="1223.0" y="1454.8" font-size="22" font-weight="bold" text-anchor="middle" fill="#111" >Huh-7 T7</text>
<text x="1223.0" y="1481.8" font-size="22" font-weight="bold" text-anchor="middle" fill="#111" >NS2B-NS3</text>
<text x="1022.0" y="1507.8" font-size="22" font-weight="bold" text-anchor="middle" fill="#111" >transfection pTM</text>
<text x="1022.0" y="1533.8" font-size="22" font-weight="bold" text-anchor="middle" fill="#111" >NS4A-2K-NS4B</text>
<text x="1022.0" y="1561.8" font-size="22" font-weight="bold" text-anchor="middle" fill="#111" >WT (HA<tspan font-size="14" dy="-8">Ct</tspan><tspan dy="8">)</tspan></text>
<line x1="1123.0" y1="1524.0" x2="1166.0" y2="1524.0" stroke="#111" stroke-width="2.2" />
<polygon points="1177,1524 1165,1518 1165,1530" fill="#111"/>
<defs><linearGradient id="cellg" x1="0" y1="0" x2="0" y2="1"><stop offset="0" stop-color="#f7a9c8"/><stop offset="0.35" stop-color="#f27aa8"/><stop offset="0.6" stop-color="#ee5e95"/><stop offset="0.8" stop-color="#e2286f"/><stop offset="1" stop-color="#d81e66"/></linearGradient><radialGradient id="nucg" cx="0.4" cy="0.3" r="0.75"><stop offset="0" stop-color="#d49ae0"/><stop offset="0.35" stop-color="#9c3cb4"/><stop offset="1" stop-color="#6a1a86"/></radialGradient></defs>
<path d="M1165,1509 C1172,1505 1180,1508 1188,1513 C1193,1510 1197,1502 1199,1490 C1199.5,1500 1200,1510 1202.5,1517.5 C1207,1512 1212,1505 1219,1504.5 C1228,1503 1238,1507 1245,1508 C1250,1508 1253,1507 1256.5,1506.5 C1253,1510 1250,1515 1250,1519 C1258,1519 1270,1521 1277.5,1527 C1270,1526 1260,1527 1251.5,1532.5 C1252,1538 1254,1544 1257,1548 C1252,1547 1248,1546 1246,1547 C1241,1553 1237,1562 1234,1571 C1233,1563 1230,1556 1225,1553 C1215,1552 1205,1557 1198.5,1567.5 C1198,1562 1197,1558 1196,1554 C1193,1545 1189,1530 1182,1514.5 C1177,1511 1171,1509 1165,1509 Z" fill="url(#cellg)" stroke="#1a0810" stroke-width="1.8" stroke-linejoin="round"/>
<path d="M1188,1516 C1195,1520 1200,1525 1204,1527" stroke="#fbd0e0" stroke-width="2.5" fill="none" opacity="0.8"/>
<ellipse cx="1226" cy="1526" rx="9.8" ry="12.3" transform="rotate(10 1226 1526)" fill="url(#nucg)" stroke="#2a0a30" stroke-width="1.4"/>
<path d="M1219,1519 q3,-6 9,-6" stroke="#f0d0f8" stroke-width="1.6" fill="none" opacity="0.8"/>
<line x1="1256.0" y1="1539.0" x2="1355.0" y2="1539.0" stroke="#111" stroke-width="2.2" />
<text x="1311.0" y="1534.9" font-size="25" font-weight="bold" text-anchor="middle" fill="#111" >4 h</text>
<ellipse cx="1361.5" cy="1538.6" rx="7.5" ry="9.5" fill="#111"/>
<path d="M1362,1532 L1362,1527 Q1362,1508 1381,1508 L1490,1508" stroke="#111" stroke-width="2.2" fill="none"/>
<polygon points="1501,1508 1488,1502 1488,1514" fill="#111"/>
<path d="M1362,1546 L1362,1553 Q1362,1573 1382,1573 L1766,1573" stroke="#111" stroke-width="2.2" fill="none"/>
<polygon points="1778,1573 1764,1566.5 1764,1579.5" fill="#111"/>
<text x="1417.0" y="1537.1" font-size="20" font-weight="bold" text-anchor="middle" fill="#111" >Medium</text>
<text x="1417.0" y="1561.1" font-size="20" font-weight="bold" text-anchor="middle" fill="#111" >exchange</text>
<text x="1422.0" y="1502.9" font-size="25" font-weight="bold" text-anchor="middle" fill="#111" >8 h</text>
<text x="1511.0" y="1568.9" font-size="25" font-weight="bold" text-anchor="middle" fill="#111" >20 h</text>
<text x="1687.0" y="1570.9" font-size="25" font-weight="bold" text-anchor="middle" fill="#111" >8 h</text>
<text x="1465.0" y="1468.8" font-size="22" font-weight="bold" text-anchor="middle" fill="#111" >Harvest</text>
<text x="1738.0" y="1534.8" font-size="22" font-weight="bold" text-anchor="middle" fill="#111" >Harvest</text>
<polygon points="1462.0,1478 1470.0,1478 1470.0,1491 1477.0,1491 1466,1503 1455.0,1491 1462.0,1491" fill="#4a86c8"/>
<polygon points="1736.0,1545 1744.0,1545 1744.0,1556 1751.0,1556 1740,1568 1729.0,1556 1736.0,1556" fill="#4a86c8"/>
<g transform="translate(1377,1461) rotate(-34)">
<path d="M0,-11.0 L-15.0,-11.0 A11.0,11.0 0 0 0 -15.0,11.0 L0,11.0 Z" fill="#e9e9e9" stroke="#222" stroke-width="1.6"/>
<path d="M0,-11.0 L15.0,-11.0 A11.0,11.0 0 0 1 15.0,11.0 L0,11.0 Z" fill="#e0242b" stroke="#222" stroke-width="1.6"/>
<path d="M-15.0,-7.0 L-2,-7.0" stroke="#fff" stroke-width="3" stroke-linecap="round" opacity="0.9"/>
<path d="M3,-7.0 L15.0,-7.0" stroke="#f07070" stroke-width="3" stroke-linecap="round" opacity="0.9"/>
</g>
<g transform="translate(1636,1523) rotate(-33)">
<path d="M0,-11.0 L-15.0,-11.0 A11.0,11.0 0 0 0 -15.0,11.0 L0,11.0 Z" fill="#e9e9e9" stroke="#222" stroke-width="1.6"/>
<path d="M0,-11.0 L15.0,-11.0 A11.0,11.0 0 0 1 15.0,11.0 L0,11.0 Z" fill="#e0242b" stroke="#222" stroke-width="1.6"/>
<path d="M-15.0,-7.0 L-2,-7.0" stroke="#fff" stroke-width="3" stroke-linecap="round" opacity="0.9"/>
<path d="M3,-7.0 L15.0,-7.0" stroke="#f07070" stroke-width="3" stroke-linecap="round" opacity="0.9"/>
</g>
<line x1="1380.0" y1="1478.0" x2="1380.0" y2="1497.0" stroke="#111" stroke-width="1.8" />
<polygon points="1380,1506 1375.5,1496 1384.5,1496" fill="#111"/>
<line x1="1640.0" y1="1542.0" x2="1640.0" y2="1562.0" stroke="#111" stroke-width="1.8" />
<polygon points="1640,1571 1635.5,1561 1644.5,1561" fill="#111"/>
<path d="M1259,1580 L1259,1585 L1640,1585 L1640,1580 M1449,1585 L1449,1590" stroke="#4a7fb8" stroke-width="1.6" fill="none"/>
<text x="1439.0" y="1611.8" font-size="22" font-weight="bold" text-anchor="middle" fill="#111" >24 h untreated</text>
<text x="916.0" y="1710.0" font-size="27" font-weight="bold" text-anchor="start" fill="#111" >i</text>
<text x="1346.0" y="1694.9" font-size="25" font-weight="bold" text-anchor="middle" fill="#111" >Huh-7 T7 NS2B-NS3</text>
<line x1="1157.0" y1="1700.0" x2="1535.0" y2="1700.0" stroke="#111" stroke-width="2.5" />
<text x="1160.0" y="1745.0" font-size="25" font-weight="bold" text-anchor="start" fill="#111" >mock</text>
<line x1="1160.0" y1="1748.0" x2="1222.0" y2="1748.0" stroke="#111" stroke-width="2.2" />
<text x="1228.0" y="1745.0" font-size="25" font-weight="bold" text-anchor="start" fill="#111" >WT</text>
<line x1="1228.0" y1="1748.0" x2="1277.0" y2="1748.0" stroke="#111" stroke-width="2.2" />
<text x="1424.0" y="1744.9" font-size="25" font-weight="bold" text-anchor="middle" fill="#111" >WT-HA<tspan font-size="16" dy="-9" font-style="italic">Ct</tspan></text>
<line x1="1299.0" y1="1749.0" x2="1534.0" y2="1749.0" stroke="#111" stroke-width="2.5" />
<text x="1653.0" y="1711.8" font-size="22" font-weight="bold" text-anchor="middle" fill="#111" >transfection</text>
<text x="1653.0" y="1738.8" font-size="22" font-weight="bold" text-anchor="middle" fill="#111" >(pTM NS4A-2K-NS4B)</text>
<text x="1653.0" y="1771.8" font-size="22" font-weight="bold" text-anchor="middle" fill="#111" >drug addition</text>
<text x="1653.0" y="1796.8" font-size="22" font-weight="bold" text-anchor="middle" fill="#111" >(post transfection)</text>
<text x="1115.0" y="1764.9" font-size="25" font-weight="bold" text-anchor="middle" fill="#111" >MW</text>
<text x="1115.0" y="1795.9" font-size="25" font-weight="bold" text-anchor="middle" fill="#111" >[kDa]</text>
<line x1="1114.0" y1="1808.0" x2="1114.0" y2="1837.0" stroke="#111" stroke-width="1.8" />
<polygon points="1114,1847 1109.5,1836 1118.5,1836" fill="#111"/>
<text x="1281.0" y="1795.9" font-size="25" font-weight="bold" text-anchor="middle" fill="#111" >4 h</text>
<line x1="1159.0" y1="1801.0" x2="1409.0" y2="1801.0" stroke="#111" stroke-width="2.5" />
<text x="1481.0" y="1795.9" font-size="25" font-weight="bold" text-anchor="middle" fill="#111" >24 h</text>
<line x1="1421.0" y1="1801.0" x2="1534.0" y2="1801.0" stroke="#111" stroke-width="2.5" />
<text x="1184.0" y="1828.9" font-size="25" font-weight="bold" text-anchor="middle" fill="#111" >–</text>
<text x="1248.0" y="1828.9" font-size="25" font-weight="bold" text-anchor="middle" fill="#111" >–</text>
<text x="1319.0" y="1828.9" font-size="25" font-weight="bold" text-anchor="middle" fill="#111" >–</text>
<text x="1379.0" y="1828.9" font-size="25" font-weight="bold" text-anchor="middle" fill="#111" >+</text>
<text x="1446.0" y="1828.9" font-size="25" font-weight="bold" text-anchor="middle" fill="#111" >–</text>
<text x="1506.0" y="1828.9" font-size="25" font-weight="bold" text-anchor="middle" fill="#111" >+</text>
<line x1="1545.0" y1="1821.0" x2="1563.0" y2="1821.0" stroke="#111" stroke-width="1.6" />
<polygon points="1541,1821 1549,1817 1549,1825" fill="#111"/>
<text x="1569.0" y="1831.9" font-size="25" font-weight="bold" text-anchor="start" fill="#111" >JNJ-1802 [10 nM]</text>
<clipPath id="c15"><rect x="1148" y="1834" width="392" height="69"/></clipPath>
<rect x="1148.0" y="1834.0" width="392.0" height="69.0" fill="#f5f5f5" />
<g clip-path="url(#c15)"><g filter="url(#bl20)">
<rect x="1284.0" y="1858.0" width="54.0" height="6.0" rx="3.0" fill="#000" fill-opacity="0.50"/>
<rect x="1350.0" y="1858.0" width="54.0" height="6.0" rx="3.0" fill="#000" fill-opacity="0.12"/>
<rect x="1414.5" y="1858.0" width="54.0" height="6.0" rx="3.0" fill="#000" fill-opacity="0.65"/>
<rect x="1479.5" y="1858.0" width="54.0" height="6.0" rx="3.0" fill="#000" fill-opacity="0.82"/>
<rect x="1152.0" y="1877.0" width="54.0" height="6.0" rx="3.0" fill="#000" fill-opacity="0.05"/>
<rect x="1217.5" y="1877.0" width="54.0" height="6.0" rx="3.0" fill="#000" fill-opacity="0.06"/>
<rect x="1284.0" y="1877.0" width="54.0" height="6.0" rx="3.0" fill="#000" fill-opacity="0.08"/>
<rect x="1350.0" y="1877.0" width="54.0" height="6.0" rx="3.0" fill="#000" fill-opacity="0.08"/>
<rect x="1414.5" y="1877.0" width="54.0" height="6.0" rx="3.0" fill="#000" fill-opacity="0.10"/>
<rect x="1479.5" y="1877.0" width="54.0" height="6.0" rx="3.0" fill="#000" fill-opacity="0.08"/>
</g></g>
<rect x="1148" y="1834" width="392" height="69" fill="none" stroke="#2a2a2a" stroke-width="1.5"/>
<text x="1122.0" y="1871.9" font-size="25" font-weight="normal" text-anchor="end" fill="#111" >72</text>
<line x1="1131.0" y1="1863.0" x2="1148.0" y2="1863.0" stroke="#111" stroke-width="1.8" />
<text x="1565.0" y="1877.9" font-size="25" font-weight="bold" text-anchor="start" fill="#111" >NS3</text>
<clipPath id="c16"><rect x="1148" y="1909" width="392" height="116"/></clipPath>
<rect x="1148.0" y="1909.0" width="392.0" height="116.0" fill="#f5f5f5" />
<g clip-path="url(#c16)"><g filter="url(#bl20)">
<rect x="1284.0" y="1919.0" width="54.0" height="38.0" rx="19.0" fill="#000" fill-opacity="0.07"/>
<rect x="1350.0" y="1919.0" width="54.0" height="38.0" rx="19.0" fill="#000" fill-opacity="0.07"/>
<rect x="1414.5" y="1919.0" width="54.0" height="38.0" rx="19.0" fill="#000" fill-opacity="0.07"/>
<rect x="1479.5" y="1919.0" width="54.0" height="38.0" rx="19.0" fill="#000" fill-opacity="0.07"/>
<rect x="1284.0" y="1948.0" width="54.0" height="22.0" rx="11.0" fill="#000" fill-opacity="1.00"/>
<rect x="1350.0" y="1944.0" width="54.0" height="30.0" rx="15.0" fill="#000" fill-opacity="1.00"/>
<rect x="1414.5" y="1944.0" width="54.0" height="30.0" rx="15.0" fill="#000" fill-opacity="1.00"/>
<rect x="1479.5" y="1943.0" width="54.0" height="32.0" rx="16.0" fill="#000" fill-opacity="1.00"/>
<rect x="1284.0" y="1999.0" width="54.0" height="6.0" rx="3.0" fill="#000" fill-opacity="0.20"/>
<rect x="1350.0" y="1999.0" width="54.0" height="6.0" rx="3.0" fill="#000" fill-opacity="0.12"/>
<rect x="1414.5" y="1999.0" width="54.0" height="6.0" rx="3.0" fill="#000" fill-opacity="0.25"/>
<rect x="1479.5" y="1999.0" width="54.0" height="6.0" rx="3.0" fill="#000" fill-opacity="0.35"/>
<rect x="1284.0" y="2012.5" width="54.0" height="5.0" rx="2.5" fill="#000" fill-opacity="0.15"/>
<rect x="1350.0" y="2012.5" width="54.0" height="5.0" rx="2.5" fill="#000" fill-opacity="0.12"/>
<rect x="1414.5" y="2012.5" width="54.0" height="5.0" rx="2.5" fill="#000" fill-opacity="0.20"/>
<rect x="1479.5" y="2012.5" width="54.0" height="5.0" rx="2.5" fill="#000" fill-opacity="0.25"/>
</g></g>
<rect x="1148" y="1909" width="392" height="116" fill="none" stroke="#2a2a2a" stroke-width="1.5"/>
<text x="1122.0" y="1967.9" font-size="25" font-weight="normal" text-anchor="end" fill="#111" >34</text>
<line x1="1131.0" y1="1959.0" x2="1148.0" y2="1959.0" stroke="#111" stroke-width="1.8" />
<polygon points="1543.0,1958.0 1550.0,1955.3 1550.0,1960.7" fill="#111"/>
<text x="1555.0" y="1965.8" font-size="22" font-weight="bold" text-anchor="start" fill="#111" >4A-2K-4B-HA</text>
<polygon points="1543.0,1998.0 1550.0,1995.3 1550.0,2000.7" fill="#111"/>
<text x="1555.0" y="2005.8" font-size="22" font-weight="bold" text-anchor="start" fill="#111" >2K-4B-HA</text>
<polygon points="1543.0,2016.0 1550.0,2013.3 1550.0,2018.7" fill="#111"/>
<text x="1555.0" y="2023.8" font-size="22" font-weight="bold" text-anchor="start" fill="#111" >4B-HA</text>
<text x="0" y="0.0" font-size="25" font-weight="bold" text-anchor="middle" fill="#111" transform="translate(1706.0,1984.0) rotate(90)" >HA</text>
<clipPath id="c17"><rect x="1148" y="2032" width="392" height="102"/></clipPath>
<rect x="1148.0" y="2032.0" width="392.0" height="102.0" fill="#f5f5f5" />
<g clip-path="url(#c17)"><g filter="url(#bl20)">
<rect x="1284.0" y="2050.0" width="54.0" height="18.0" rx="9.0" fill="#000" fill-opacity="0.60"/>
<rect x="1350.0" y="2050.0" width="54.0" height="18.0" rx="9.0" fill="#000" fill-opacity="1.00"/>
<rect x="1414.5" y="2050.0" width="54.0" height="18.0" rx="9.0" fill="#000" fill-opacity="0.95"/>
<rect x="1479.5" y="2050.0" width="54.0" height="18.0" rx="9.0" fill="#000" fill-opacity="1.00"/>
<rect x="1284.0" y="2098.0" width="54.0" height="6.0" rx="3.0" fill="#000" fill-opacity="0.20"/>
<rect x="1350.0" y="2098.0" width="54.0" height="6.0" rx="3.0" fill="#000" fill-opacity="0.10"/>
<rect x="1414.5" y="2098.0" width="54.0" height="6.0" rx="3.0" fill="#000" fill-opacity="0.20"/>
<rect x="1479.5" y="2098.0" width="54.0" height="6.0" rx="3.0" fill="#000" fill-opacity="0.22"/>
<rect x="1284.0" y="2110.5" width="54.0" height="5.0" rx="2.5" fill="#000" fill-opacity="0.15"/>
<rect x="1350.0" y="2110.5" width="54.0" height="5.0" rx="2.5" fill="#000" fill-opacity="0.12"/>
<rect x="1414.5" y="2110.5" width="54.0" height="5.0" rx="2.5" fill="#000" fill-opacity="0.18"/>
<rect x="1479.5" y="2110.5" width="54.0" height="5.0" rx="2.5" fill="#000" fill-opacity="0.20"/>
</g></g>
<rect x="1148" y="2032" width="392" height="102" fill="none" stroke="#2a2a2a" stroke-width="1.5"/>
<text x="1122.0" y="2067.9" font-size="25" font-weight="normal" text-anchor="end" fill="#111" >34</text>
<line x1="1131.0" y1="2059.0" x2="1148.0" y2="2059.0" stroke="#111" stroke-width="1.8" />
<polygon points="1543.0,2063.0 1550.0,2060.3 1550.0,2065.7" fill="#111"/>
<text x="1555.0" y="2070.8" font-size="22" font-weight="bold" text-anchor="start" fill="#111" >4A-2K-4B-HA</text>
<polygon points="1543.0,2097.0 1550.0,2094.3 1550.0,2099.7" fill="#111"/>
<text x="1555.0" y="2104.8" font-size="22" font-weight="bold" text-anchor="start" fill="#111" >2K-4B-HA</text>
<polygon points="1543.0,2117.0 1550.0,2114.3 1550.0,2119.7" fill="#111"/>
<text x="1555.0" y="2124.8" font-size="22" font-weight="bold" text-anchor="start" fill="#111" >4B-HA</text>
<text x="0" y="0.0" font-size="25" font-weight="bold" text-anchor="middle" fill="#111" transform="translate(1705.0,2103.0) rotate(90)" >NS4</text>
<line x1="1739.0" y1="1835.0" x2="1739.0" y2="2137.0" stroke="#111" stroke-width="1.5" />
<text x="0" y="0.0" font-size="25" font-weight="bold" text-anchor="middle" fill="#111" transform="translate(1747.0,2010.0) rotate(90)" >pull-down</text>
<clipPath id="c18"><rect x="1148" y="2155" width="392" height="66"/></clipPath>
<rect x="1148.0" y="2155.0" width="392.0" height="66.0" fill="#f2f2f2" />
<g clip-path="url(#c18)"><g filter="url(#bl20)">
<rect x="1152.0" y="2179.0" width="54.0" height="8.0" rx="4.0" fill="#000" fill-opacity="1.00"/>
<rect x="1217.5" y="2179.0" width="54.0" height="8.0" rx="4.0" fill="#000" fill-opacity="0.62"/>
<rect x="1284.0" y="2179.0" width="54.0" height="8.0" rx="4.0" fill="#000" fill-opacity="0.95"/>
<rect x="1350.0" y="2179.0" width="54.0" height="8.0" rx="4.0" fill="#000" fill-opacity="0.62"/>
<rect x="1414.5" y="2179.0" width="54.0" height="8.0" rx="4.0" fill="#000" fill-opacity="0.88"/>
<rect x="1479.5" y="2179.0" width="54.0" height="8.0" rx="4.0" fill="#000" fill-opacity="0.90"/>
<rect x="1152.0" y="2194.0" width="54.0" height="5.0" rx="2.5" fill="#000" fill-opacity="0.75"/>
<rect x="1217.5" y="2194.0" width="54.0" height="5.0" rx="2.5" fill="#000" fill-opacity="0.45"/>
<rect x="1284.0" y="2194.0" width="54.0" height="5.0" rx="2.5" fill="#000" fill-opacity="0.55"/>
<rect x="1350.0" y="2194.0" width="54.0" height="5.0" rx="2.5" fill="#000" fill-opacity="0.45"/>
<rect x="1414.5" y="2194.0" width="54.0" height="5.0" rx="2.5" fill="#000" fill-opacity="0.55"/>
<rect x="1479.5" y="2194.0" width="54.0" height="5.0" rx="2.5" fill="#000" fill-opacity="0.62"/>
<rect x="1152.0" y="2164.5" width="54.0" height="5.0" rx="2.5" fill="#000" fill-opacity="0.15"/>
<rect x="1217.5" y="2164.5" width="54.0" height="5.0" rx="2.5" fill="#000" fill-opacity="0.15"/>
<rect x="1284.0" y="2164.5" width="54.0" height="5.0" rx="2.5" fill="#000" fill-opacity="0.15"/>
<rect x="1350.0" y="2164.5" width="54.0" height="5.0" rx="2.5" fill="#000" fill-opacity="0.15"/>
<rect x="1414.5" y="2164.5" width="54.0" height="5.0" rx="2.5" fill="#000" fill-opacity="0.15"/>
<rect x="1479.5" y="2164.5" width="54.0" height="5.0" rx="2.5" fill="#000" fill-opacity="0.15"/>
</g></g>
<rect x="1148" y="2155" width="392" height="66" fill="none" stroke="#2a2a2a" stroke-width="1.5"/>
<text x="1122.0" y="2198.9" font-size="25" font-weight="normal" text-anchor="end" fill="#111" >72</text>
<line x1="1131.0" y1="2190.0" x2="1148.0" y2="2190.0" stroke="#111" stroke-width="1.8" />
<text x="1552.0" y="2203.9" font-size="25" font-weight="bold" text-anchor="start" fill="#111" >NS3</text>
<clipPath id="c19"><rect x="1148" y="2229" width="392" height="115"/></clipPath>
<rect x="1148.0" y="2229.0" width="392.0" height="115.0" fill="#f4f4f4" />
<g clip-path="url(#c19)"><g filter="url(#bl20)">
<rect x="1284.0" y="2240.0" width="54.0" height="24.0" rx="12.0" fill="#000" fill-opacity="0.04"/>
<rect x="1350.0" y="2240.0" width="54.0" height="24.0" rx="12.0" fill="#000" fill-opacity="0.05"/>
<rect x="1414.5" y="2240.0" width="54.0" height="24.0" rx="12.0" fill="#000" fill-opacity="0.05"/>
<rect x="1479.5" y="2240.0" width="54.0" height="24.0" rx="12.0" fill="#000" fill-opacity="0.04"/>
<rect x="1284.0" y="2265.5" width="54.0" height="11.0" rx="5.5" fill="#000" fill-opacity="0.33"/>
<rect x="1350.0" y="2265.5" width="54.0" height="11.0" rx="5.5" fill="#000" fill-opacity="0.60"/>
<rect x="1414.5" y="2265.5" width="54.0" height="11.0" rx="5.5" fill="#000" fill-opacity="0.95"/>
<rect x="1479.5" y="2265.5" width="54.0" height="11.0" rx="5.5" fill="#000" fill-opacity="0.60"/>
<rect x="1284.0" y="2303.5" width="54.0" height="5.0" rx="2.5" fill="#000" fill-opacity="0.35"/>
<rect x="1350.0" y="2303.5" width="54.0" height="5.0" rx="2.5" fill="#000" fill-opacity="0.40"/>
<rect x="1414.5" y="2303.5" width="54.0" height="5.0" rx="2.5" fill="#000" fill-opacity="0.45"/>
<rect x="1479.5" y="2303.5" width="54.0" height="5.0" rx="2.5" fill="#000" fill-opacity="0.35"/>
<rect x="1284.0" y="2313.0" width="54.0" height="6.0" rx="3.0" fill="#000" fill-opacity="0.45"/>
<rect x="1350.0" y="2313.0" width="54.0" height="6.0" rx="3.0" fill="#000" fill-opacity="0.60"/>
<rect x="1414.5" y="2313.0" width="54.0" height="6.0" rx="3.0" fill="#000" fill-opacity="0.45"/>
<rect x="1479.5" y="2313.0" width="54.0" height="6.0" rx="3.0" fill="#000" fill-opacity="0.40"/>
</g></g>
<rect x="1148" y="2229" width="392" height="115" fill="none" stroke="#2a2a2a" stroke-width="1.5"/>
<text x="1122.0" y="2266.9" font-size="25" font-weight="normal" text-anchor="end" fill="#111" >34</text>
<line x1="1131.0" y1="2258.0" x2="1148.0" y2="2258.0" stroke="#111" stroke-width="1.8" />
<text x="1122.0" y="2342.9" font-size="25" font-weight="normal" text-anchor="end" fill="#111" >26</text>
<line x1="1131.0" y1="2334.0" x2="1148.0" y2="2334.0" stroke="#111" stroke-width="1.8" />
<polygon points="1543.0,2267.0 1550.0,2264.3 1550.0,2269.7" fill="#111"/>
<text x="1555.0" y="2274.8" font-size="22" font-weight="bold" text-anchor="start" fill="#111" >4A-2K-4B-HA</text>
<polygon points="1543.0,2301.0 1550.0,2298.3 1550.0,2303.7" fill="#111"/>
<text x="1555.0" y="2308.8" font-size="22" font-weight="bold" text-anchor="start" fill="#111" >2K-4B-HA</text>
<polygon points="1543.0,2320.0 1550.0,2317.3 1550.0,2322.7" fill="#111"/>
<text x="1555.0" y="2327.8" font-size="22" font-weight="bold" text-anchor="start" fill="#111" >4B-HA</text>
<text x="0" y="0.0" font-size="25" font-weight="bold" text-anchor="middle" fill="#111" transform="translate(1706.0,2299.0) rotate(90)" >HA</text>
<clipPath id="c20"><rect x="1148" y="2352" width="392" height="95"/></clipPath>
<rect x="1148.0" y="2352.0" width="392.0" height="95.0" fill="#f2f2f2" />
<g clip-path="url(#c20)"><g filter="url(#bl20)">
<rect x="1152.0" y="2368.0" width="54.0" height="10.0" rx="5.0" fill="#000" fill-opacity="0.95"/>
<rect x="1284.0" y="2368.0" width="54.0" height="10.0" rx="5.0" fill="#000" fill-opacity="0.95"/>
<rect x="1350.0" y="2368.0" width="54.0" height="10.0" rx="5.0" fill="#000" fill-opacity="0.95"/>
<rect x="1414.5" y="2368.0" width="54.0" height="10.0" rx="5.0" fill="#000" fill-opacity="1.00"/>
<rect x="1479.5" y="2368.0" width="54.0" height="10.0" rx="5.0" fill="#000" fill-opacity="0.85"/>
<rect x="1217.5" y="2366.0" width="54.0" height="20.0" rx="10.0" fill="#000" fill-opacity="1.00"/>
<rect x="1217.5" y="2405.5" width="54.0" height="5.0" rx="2.5" fill="#000" fill-opacity="0.25"/>
<rect x="1284.0" y="2405.5" width="54.0" height="5.0" rx="2.5" fill="#000" fill-opacity="0.30"/>
<rect x="1350.0" y="2405.5" width="54.0" height="5.0" rx="2.5" fill="#000" fill-opacity="0.30"/>
<rect x="1414.5" y="2405.5" width="54.0" height="5.0" rx="2.5" fill="#000" fill-opacity="0.30"/>
<rect x="1479.5" y="2405.5" width="54.0" height="5.0" rx="2.5" fill="#000" fill-opacity="0.30"/>
<rect x="1217.5" y="2417.0" width="54.0" height="6.0" rx="3.0" fill="#000" fill-opacity="0.45"/>
<rect x="1284.0" y="2417.0" width="54.0" height="6.0" rx="3.0" fill="#000" fill-opacity="0.55"/>
<rect x="1350.0" y="2417.0" width="54.0" height="6.0" rx="3.0" fill="#000" fill-opacity="0.55"/>
<rect x="1414.5" y="2417.0" width="54.0" height="6.0" rx="3.0" fill="#000" fill-opacity="0.40"/>
<rect x="1479.5" y="2417.0" width="54.0" height="6.0" rx="3.0" fill="#000" fill-opacity="0.35"/>
<rect x="1152.0" y="2432.5" width="54.0" height="5.0" rx="2.5" fill="#000" fill-opacity="0.55"/>
<rect x="1217.5" y="2432.5" width="54.0" height="5.0" rx="2.5" fill="#000" fill-opacity="0.85"/>
<rect x="1284.0" y="2432.5" width="54.0" height="5.0" rx="2.5" fill="#000" fill-opacity="0.50"/>
<rect x="1350.0" y="2432.5" width="54.0" height="5.0" rx="2.5" fill="#000" fill-opacity="0.50"/>
<rect x="1414.5" y="2432.5" width="54.0" height="5.0" rx="2.5" fill="#000" fill-opacity="0.42"/>
<rect x="1479.5" y="2432.5" width="54.0" height="5.0" rx="2.5" fill="#000" fill-opacity="0.55"/>
</g></g>
<rect x="1148" y="2352" width="392" height="95" fill="none" stroke="#2a2a2a" stroke-width="1.5"/>
<text x="1122.0" y="2372.9" font-size="25" font-weight="normal" text-anchor="end" fill="#111" >34</text>
<line x1="1131.0" y1="2364.0" x2="1148.0" y2="2364.0" stroke="#111" stroke-width="1.8" />
<polygon points="1543.0,2373.0 1550.0,2370.3 1550.0,2375.7" fill="#111"/>
<text x="1555.0" y="2380.8" font-size="22" font-weight="bold" text-anchor="start" fill="#111" >4A-2K-4B-HA</text>
<polygon points="1543.0,2410.0 1550.0,2407.3 1550.0,2412.7" fill="#111"/>
<text x="1555.0" y="2417.8" font-size="22" font-weight="bold" text-anchor="start" fill="#111" >2K-4B-HA</text>
<polygon points="1543.0,2428.0 1550.0,2425.3 1550.0,2430.7" fill="#111"/>
<text x="1555.0" y="2435.8" font-size="22" font-weight="bold" text-anchor="start" fill="#111" >4B-HA</text>
<text x="0" y="0.0" font-size="25" font-weight="bold" text-anchor="middle" fill="#111" transform="translate(1706.0,2418.0) rotate(90)" >NS4</text>
<clipPath id="c21"><rect x="1148" y="2455" width="392" height="51"/></clipPath>
<rect x="1148.0" y="2455.0" width="392.0" height="51.0" fill="#f2f2f2" />
<g clip-path="url(#c21)"><g filter="url(#bl20)">
<rect x="1148.8" y="2474.0" width="60.5" height="9.0" rx="4.5" fill="#000" fill-opacity="0.82"/>
<rect x="1214.3" y="2474.0" width="60.5" height="9.0" rx="4.5" fill="#000" fill-opacity="0.82"/>
<rect x="1280.8" y="2474.0" width="60.5" height="9.0" rx="4.5" fill="#000" fill-opacity="0.82"/>
<rect x="1346.8" y="2474.0" width="60.5" height="9.0" rx="4.5" fill="#000" fill-opacity="0.82"/>
<rect x="1411.3" y="2474.0" width="60.5" height="9.0" rx="4.5" fill="#000" fill-opacity="0.82"/>
<rect x="1476.3" y="2474.0" width="60.5" height="9.0" rx="4.5" fill="#000" fill-opacity="0.82"/>
</g></g>
<rect x="1148" y="2455" width="392" height="51" fill="none" stroke="#2a2a2a" stroke-width="1.5"/>
<text x="1549.0" y="2495.9" font-size="25" font-weight="bold" text-anchor="start" fill="#111" >GAPDH</text>
<line x1="1739.0" y1="2157.0" x2="1739.0" y2="2506.0" stroke="#111" stroke-width="1.5" />
<text x="0" y="0.0" font-size="25" font-weight="bold" text-anchor="middle" fill="#111" transform="translate(1747.0,2342.0) rotate(90)" >input</text>
<text x="1.0" y="1936.0" font-size="27" font-weight="bold" text-anchor="start" fill="#111" >j</text>
<text x="270.0" y="1984.7" font-size="33" font-weight="bold" text-anchor="middle" fill="#111" >IP - Early treatment</text>
<text x="270.0" y="2020.7" font-size="33" font-weight="bold" text-anchor="middle" fill="#111" >(4 h post transfection)</text>
<text x="0" y="0.0" font-size="27.5" font-weight="bold" text-anchor="middle" fill="#111" transform="translate(87.0,2234.6) rotate(-90)" >Ratio NS3/NS4B-HA species</text>
<line x1="157.0" y1="2064.5" x2="157.0" y2="2407.0" stroke="#111" stroke-width="3.5" />
<line x1="142.0" y1="2405.0" x2="384.0" y2="2405.0" stroke="#111" stroke-width="3.5" />
<line x1="142.0" y1="2405.0" x2="157.0" y2="2405.0" stroke="#111" stroke-width="3.5" />
<text x="140.0" y="2413.9" font-size="25" font-weight="bold" text-anchor="end" fill="#111" >0.0</text>
<line x1="142.0" y1="2292.0" x2="157.0" y2="2292.0" stroke="#111" stroke-width="3.5" />
<text x="140.0" y="2300.9" font-size="25" font-weight="bold" text-anchor="end" fill="#111" >0.5</text>
<line x1="142.0" y1="2179.0" x2="157.0" y2="2179.0" stroke="#111" stroke-width="3.5" />
<text x="140.0" y="2187.9" font-size="25" font-weight="bold" text-anchor="end" fill="#111" >1.0</text>
<line x1="142.0" y1="2066.0" x2="157.0" y2="2066.0" stroke="#111" stroke-width="3.5" />
<text x="140.0" y="2074.9" font-size="25" font-weight="bold" text-anchor="end" fill="#111" >1.5</text>
<line x1="221.0" y1="2405.0" x2="221.0" y2="2420.0" stroke="#111" stroke-width="3.5" />
<text x="0" y="0" font-size="26" font-weight="bold" text-anchor="end" fill="#111" transform="translate(230.0,2441.0) rotate(-46)">Control</text>
<line x1="318.0" y1="2405.0" x2="318.0" y2="2420.0" stroke="#111" stroke-width="3.5" />
<text x="0" y="0" font-size="26" font-weight="bold" text-anchor="end" fill="#111" transform="translate(327.0,2441.0) rotate(-46)">JNJ-1802</text>
<line x1="189.0" y1="2179.0" x2="253.0" y2="2179.0" stroke="#111" stroke-width="3.2" />
<line x1="221.0" y1="2149.6" x2="221.0" y2="2208.4" stroke="#111" stroke-width="1.6" />
<line x1="206.0" y1="2149.6" x2="236.0" y2="2149.6" stroke="#111" stroke-width="1.6" />
<line x1="206.0" y1="2208.4" x2="236.0" y2="2208.4" stroke="#111" stroke-width="1.6" />
<circle cx="221" cy="2144.0" r="5" fill="#111"/>
<circle cx="211" cy="2198.2" r="5" fill="#111"/>
<circle cx="232" cy="2192.6" r="5" fill="#111"/>
<line x1="286.0" y1="2388.1" x2="350.0" y2="2388.1" stroke="#111" stroke-width="3.2" />
<line x1="318.0" y1="2383.5" x2="318.0" y2="2393.7" stroke="#111" stroke-width="1.6" />
<line x1="303.0" y1="2383.5" x2="333.0" y2="2383.5" stroke="#111" stroke-width="1.6" />
<line x1="303.0" y1="2393.7" x2="333.0" y2="2393.7" stroke="#111" stroke-width="1.6" />
<rect x="303.5" y="2377.9" width="9" height="9" fill="#111"/>
<rect x="325.5" y="2377.9" width="9" height="9" fill="#111"/>
<rect x="313.5" y="2391.5" width="9" height="9" fill="#111"/>
<path d="M220,2128 L220,2109 L318,2109 L318,2128" stroke="#111" stroke-width="5" fill="none"/>
<text x="269" y="2102" font-size="22" font-style="italic" text-anchor="middle" fill="#111">p = 0.0052</text>
<text x="506.0" y="1936.0" font-size="27" font-weight="bold" text-anchor="start" fill="#111" >k</text>
<text x="754.0" y="1984.7" font-size="33" font-weight="bold" text-anchor="middle" fill="#111" >IP - Late treatment</text>
<text x="754.0" y="2020.7" font-size="33" font-weight="bold" text-anchor="middle" fill="#111" >(24 h post transfection)</text>
<text x="0" y="0.0" font-size="27.5" font-weight="bold" text-anchor="middle" fill="#111" transform="translate(575.0,2233.7) rotate(-90)" >Ratio NS3/NS4B-HA species</text>
<line x1="644.0" y1="2059.5" x2="644.0" y2="2396.0" stroke="#111" stroke-width="3.5" />
<line x1="629.0" y1="2394.0" x2="866.0" y2="2394.0" stroke="#111" stroke-width="3.5" />
<line x1="629.0" y1="2394.0" x2="644.0" y2="2394.0" stroke="#111" stroke-width="3.5" />
<text x="627.0" y="2402.9" font-size="25" font-weight="bold" text-anchor="end" fill="#111" >0.0</text>
<line x1="629.0" y1="2283.0" x2="644.0" y2="2283.0" stroke="#111" stroke-width="3.5" />
<text x="627.0" y="2291.9" font-size="25" font-weight="bold" text-anchor="end" fill="#111" >0.5</text>
<line x1="629.0" y1="2172.0" x2="644.0" y2="2172.0" stroke="#111" stroke-width="3.5" />
<text x="627.0" y="2180.9" font-size="25" font-weight="bold" text-anchor="end" fill="#111" >1.0</text>
<line x1="629.0" y1="2061.0" x2="644.0" y2="2061.0" stroke="#111" stroke-width="3.5" />
<text x="627.0" y="2069.9" font-size="25" font-weight="bold" text-anchor="end" fill="#111" >1.5</text>
<line x1="705.0" y1="2394.0" x2="705.0" y2="2409.0" stroke="#111" stroke-width="3.5" />
<text x="0" y="0" font-size="26" font-weight="bold" text-anchor="end" fill="#111" transform="translate(714.0,2430.0) rotate(-46)">Control</text>
<line x1="801.0" y1="2394.0" x2="801.0" y2="2409.0" stroke="#111" stroke-width="3.5" />
<text x="0" y="0" font-size="26" font-weight="bold" text-anchor="end" fill="#111" transform="translate(810.0,2430.0) rotate(-46)">JNJ-1802</text>
<line x1="673.0" y1="2168.7" x2="737.0" y2="2168.7" stroke="#111" stroke-width="3.2" />
<line x1="705.0" y1="2158.7" x2="705.0" y2="2178.7" stroke="#111" stroke-width="1.6" />
<line x1="690.0" y1="2158.7" x2="720.0" y2="2158.7" stroke="#111" stroke-width="1.6" />
<line x1="690.0" y1="2178.7" x2="720.0" y2="2178.7" stroke="#111" stroke-width="1.6" />
<circle cx="706" cy="2150.9" r="5" fill="#111"/>
<circle cx="706" cy="2168.7" r="5" fill="#111"/>
<circle cx="706" cy="2186.4" r="5" fill="#111"/>
<line x1="769.0" y1="2140.9" x2="833.0" y2="2140.9" stroke="#111" stroke-width="3.2" />
<line x1="801.0" y1="2138.7" x2="801.0" y2="2142.0" stroke="#111" stroke-width="1.6" />
<line x1="786.0" y1="2138.7" x2="816.0" y2="2138.7" stroke="#111" stroke-width="1.6" />
<line x1="786.0" y1="2142.0" x2="816.0" y2="2142.0" stroke="#111" stroke-width="1.6" />
<circle cx="781" cy="2146.5" r="5" fill="#111"/>
<circle cx="801" cy="2137.6" r="5" fill="#111"/>
<circle cx="821" cy="2140.9" r="5" fill="#111"/>
<path d="M705,2124 L705,2105 L801,2105 L801,2124" stroke="#111" stroke-width="5" fill="none"/>
<text x="752.0" y="2094.2" font-size="25" font-weight="normal" text-anchor="middle" fill="#111" >ns</text>
</svg>
</body></html>
